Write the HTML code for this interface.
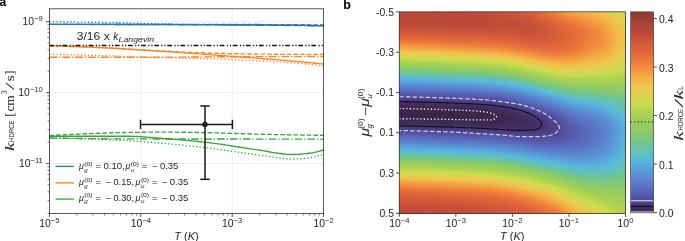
<!DOCTYPE html>
<html><head><meta charset="utf-8"><style>
html,body{margin:0;padding:0;background:#fff;}
#wrap{position:relative;width:685px;height:241px;overflow:hidden;background:#fff;}
#hm{position:absolute;left:399px;top:12px;width:227px;height:202px;}
#hm i{display:block;height:1px;width:100%;}
#cb{position:absolute;left:630.5px;top:11.8px;width:23.0px;height:201.0px;}
svg{position:absolute;left:0;top:0;will-change:transform;}
</style></head><body><div id="wrap"><div id="hm"><i style="background:linear-gradient(90deg,#b94839 0px,#b94839 6px,#b94838 12px,#ba4838 18px,#ba4938 24px,#bb4938 30px,#bb4938 36px,#bc4938 42px,#bc4938 48px,#bd4938 54px,#be4a38 60px,#bf4a38 66px,#c04b38 72px,#c14b38 78px,#c24d38 84px,#c44e39 90px,#c75139 96px,#c95339 102px,#cc5539 108px,#ce573a 114px,#d25a3a 120px,#d55d3a 126px,#da613a 132px,#e0663a 138px,#e66e3b 144px,#ec783c 150px,#f0873d 156px,#f39540 162px,#f49f41 168px,#f5a743 174px,#f4ad45 180px,#f3b347 186px,#f3ba4a 192px,#f1c14c 198px,#ecc64d 204px,#e5cd4f 210px,#dcd450 216px,#d3d750 222px,#ceda50 226px)"></i><i style="background:linear-gradient(90deg,#b84839 0px,#b94839 6px,#b94839 12px,#b94839 18px,#ba4838 24px,#ba4838 30px,#ba4938 36px,#bb4938 42px,#bb4938 48px,#bc4938 54px,#bd4938 60px,#be4a38 66px,#bf4a38 72px,#c04a38 78px,#c14b38 84px,#c24d38 90px,#c54f39 96px,#c85139 102px,#ca5339 108px,#cc5539 114px,#d0583a 120px,#d35b3a 126px,#d85f3a 132px,#de643a 138px,#e46b3a 144px,#ea753b 150px,#f0813d 156px,#f28f3f 162px,#f39940 168px,#f5a242 174px,#f5a944 180px,#f4af46 186px,#f3b648 192px,#f2bd4b 198px,#efc34d 204px,#e8ca4e 210px,#dfd250 216px,#d6d650 222px,#d0d950 226px)"></i><i style="background:linear-gradient(90deg,#b84839 0px,#b84839 6px,#b84839 12px,#b94839 18px,#b94839 24px,#b94838 30px,#ba4838 36px,#ba4938 42px,#bb4938 48px,#bb4938 54px,#bc4938 60px,#bd4938 66px,#bd4a38 72px,#be4a38 78px,#c04b38 84px,#c14c38 90px,#c44e39 96px,#c65039 102px,#c85239 108px,#cb5439 114px,#ce563a 120px,#d25a3a 126px,#d65e3a 132px,#dc623a 138px,#e2683a 144px,#e8713b 150px,#ee7c3c 156px,#f1893e 162px,#f39440 168px,#f49d41 174px,#f5a442 180px,#f4ab44 186px,#f3b247 192px,#f3ba4a 198px,#f1c14c 204px,#eac84e 210px,#e1d150 216px,#d8d550 222px,#d2d850 226px)"></i><i style="background:linear-gradient(90deg,#b84839 0px,#b84839 6px,#b84839 12px,#b84839 18px,#b94839 24px,#b94839 30px,#b94838 36px,#ba4838 42px,#ba4838 48px,#bb4938 54px,#bb4938 60px,#bc4938 66px,#bd4938 72px,#be4a38 78px,#bf4a38 84px,#c04b38 90px,#c34d38 96px,#c54f39 102px,#c75139 108px,#c95239 114px,#cc5539 120px,#cf583a 126px,#d45c3a 132px,#d9603a 138px,#df663a 144px,#e66e3b 150px,#ec793c 156px,#f0843d 162px,#f28f3f 168px,#f39840 174px,#f49f41 180px,#f5a743 186px,#f4ae46 192px,#f3b648 198px,#f2be4b 204px,#ecc64d 210px,#e4ce4f 216px,#dbd450 222px,#d4d750 226px)"></i><i style="background:linear-gradient(90deg,#b84839 0px,#b84839 6px,#b84839 12px,#b84839 18px,#b94839 24px,#b94839 30px,#b94839 36px,#b94838 42px,#ba4838 48px,#ba4938 54px,#bb4938 60px,#bb4938 66px,#bc4938 72px,#bd4938 78px,#be4a38 84px,#bf4a38 90px,#c24c38 96px,#c44e39 102px,#c65039 108px,#c85139 114px,#ca5339 120px,#ce563a 126px,#d25a3a 132px,#d75f3a 138px,#dd643a 144px,#e46b3a 150px,#ea753b 156px,#ef7f3c 162px,#f18a3e 168px,#f2933f 174px,#f49b41 180px,#f5a242 186px,#f4aa44 192px,#f3b247 198px,#f3ba4a 204px,#efc34d 210px,#e6cc4f 216px,#ddd350 222px,#d7d650 226px)"></i><i style="background:linear-gradient(90deg,#b94839 0px,#b94839 6px,#b94839 12px,#b94839 18px,#b94839 24px,#b94839 30px,#b94839 36px,#b94838 42px,#ba4838 48px,#ba4838 54px,#ba4938 60px,#bb4938 66px,#bb4938 72px,#bc4938 78px,#bd4938 84px,#bf4a38 90px,#c14c38 96px,#c34d38 102px,#c54f39 108px,#c65039 114px,#c95239 120px,#cc5539 126px,#d1593a 132px,#d65d3a 138px,#db623a 144px,#e2683a 150px,#e8723b 156px,#ee7b3c 162px,#f0853d 168px,#f28e3f 174px,#f39640 180px,#f49e41 186px,#f5a743 192px,#f4af46 198px,#f3b749 204px,#f1c14c 210px,#e7cb4e 216px,#e0d250 222px,#d9d550 226px)"></i><i style="background:linear-gradient(90deg,#b94839 0px,#b94839 6px,#b94839 12px,#b94839 18px,#b94839 24px,#b94839 30px,#b94838 36px,#b94838 42px,#ba4838 48px,#ba4838 54px,#ba4938 60px,#bb4938 66px,#bb4938 72px,#bc4938 78px,#bd4938 84px,#be4a38 90px,#c04b38 96px,#c24d38 102px,#c44e38 108px,#c54f39 114px,#c75139 120px,#cb5439 126px,#cf573a 132px,#d45c3a 138px,#d9603a 144px,#e0663a 150px,#e66f3b 156px,#ec783c 162px,#f0803d 168px,#f18a3e 174px,#f2923f 180px,#f49a41 186px,#f5a342 192px,#f4ab45 198px,#f3b448 204px,#f2bf4c 210px,#e9c94e 216px,#e1d150 222px,#dbd450 226px)"></i><i style="background:linear-gradient(90deg,#ba4838 0px,#ba4838 6px,#ba4838 12px,#ba4838 18px,#ba4838 24px,#ba4838 30px,#ba4838 36px,#ba4838 42px,#ba4838 48px,#ba4938 54px,#ba4938 60px,#bb4938 66px,#bb4938 72px,#bc4938 78px,#bd4938 84px,#be4a38 90px,#c04b38 96px,#c24c38 102px,#c34d38 108px,#c44f39 114px,#c65039 120px,#c95339 126px,#cd563a 132px,#d25a3a 138px,#d75f3a 144px,#de653a 150px,#e56c3a 156px,#ea753b 162px,#ef7c3c 168px,#f0853d 174px,#f28e3f 180px,#f39640 186px,#f4a041 192px,#f5a843 198px,#f4b046 204px,#f2bc4b 210px,#ebc74e 216px,#e3cf4f 222px,#ddd350 226px)"></i><i style="background:linear-gradient(90deg,#bb4938 0px,#bb4938 6px,#bb4938 12px,#bb4938 18px,#bb4938 24px,#ba4938 30px,#ba4938 36px,#ba4938 42px,#bb4938 48px,#bb4938 54px,#bb4938 60px,#bb4938 66px,#bb4938 72px,#bc4938 78px,#bd4938 84px,#be4a38 90px,#c04b38 96px,#c14c38 102px,#c24d38 108px,#c44e38 114px,#c54f39 120px,#c85239 126px,#cc5539 132px,#d1593a 138px,#d65d3a 144px,#dc633a 150px,#e36a3a 156px,#e8723b 162px,#ed7a3c 168px,#f0813d 174px,#f18a3e 180px,#f2933f 186px,#f49c41 192px,#f5a542 198px,#f4ad45 204px,#f3b94a 210px,#edc54d 216px,#e4ce4f 222px,#ded350 226px)"></i><i style="background:linear-gradient(90deg,#bc4938 0px,#bc4938 6px,#bc4938 12px,#bc4938 18px,#bc4938 24px,#bb4938 30px,#bb4938 36px,#bb4938 42px,#bb4938 48px,#bb4938 54px,#bb4938 60px,#bc4938 66px,#bc4938 72px,#bc4938 78px,#bd4938 84px,#be4a38 90px,#c04b38 96px,#c14c38 102px,#c24d38 108px,#c34e38 114px,#c54f39 120px,#c75139 126px,#cb5439 132px,#cf583a 138px,#d45c3a 144px,#da613a 150px,#e2683a 156px,#e7703b 162px,#eb773b 168px,#ef7d3c 174px,#f0863d 180px,#f28f3f 186px,#f39940 192px,#f5a242 198px,#f4ab44 204px,#f3b749 210px,#eec44d 216px,#e6cc4f 222px,#e0d250 226px)"></i><i style="background:linear-gradient(90deg,#be4a38 0px,#bd4a38 6px,#bd4938 12px,#bd4938 18px,#bd4938 24px,#bd4938 30px,#bc4938 36px,#bc4938 42px,#bc4938 48px,#bc4938 54px,#bc4938 60px,#bc4938 66px,#bd4938 72px,#bd4938 78px,#bd4938 84px,#be4a38 90px,#c04b38 96px,#c14c38 102px,#c24d38 108px,#c34d38 114px,#c44e39 120px,#c65039 126px,#ca5339 132px,#ce573a 138px,#d35b3a 144px,#d9603a 150px,#e0663a 156px,#e56d3b 162px,#ea743b 168px,#ee7b3c 174px,#f0833d 180px,#f18c3e 186px,#f39640 192px,#f49f41 198px,#f5a843 204px,#f3b448 210px,#f0c24c 216px,#e7cb4e 222px,#e1d150 226px)"></i><i style="background:linear-gradient(90deg,#bf4a38 0px,#bf4a38 6px,#bf4a38 12px,#bf4a38 18px,#be4a38 24px,#be4a38 30px,#be4a38 36px,#be4a38 42px,#bd4a38 48px,#bd4a38 54px,#bd4938 60px,#bd4938 66px,#bd4a38 72px,#be4a38 78px,#be4a38 84px,#bf4a38 90px,#c04b38 96px,#c14c38 102px,#c24d38 108px,#c34d38 114px,#c44e39 120px,#c65039 126px,#c95239 132px,#cd5639 138px,#d25a3a 144px,#d85f3a 150px,#de653a 156px,#e46b3a 162px,#e8723b 168px,#ec793c 174px,#ef803c 180px,#f1893e 186px,#f2933f 192px,#f49c41 198px,#f5a542 204px,#f4b247 210px,#f1c14c 216px,#e8ca4e 222px,#e3cf4f 226px)"></i><i style="background:linear-gradient(90deg,#c14c38 0px,#c14b38 6px,#c04b38 12px,#c04b38 18px,#c04b38 24px,#c04a38 30px,#bf4a38 36px,#bf4a38 42px,#bf4a38 48px,#bf4a38 54px,#bf4a38 60px,#bf4a38 66px,#bf4a38 72px,#bf4a38 78px,#bf4a38 84px,#c04a38 90px,#c14c38 96px,#c24c38 102px,#c24d38 108px,#c34d38 114px,#c44e38 120px,#c54f39 126px,#c85239 132px,#cc5539 138px,#d0593a 144px,#d65e3a 150px,#dd633a 156px,#e3693a 162px,#e7703b 168px,#eb763b 174px,#ef7d3c 180px,#f0863d 186px,#f2903f 192px,#f39940 198px,#f5a342 204px,#f4af46 210px,#f2bf4c 216px,#eac84e 222px,#e4ce4f 226px)"></i><i style="background:linear-gradient(90deg,#c34d38 0px,#c24d38 6px,#c24c38 12px,#c24c38 18px,#c14c38 24px,#c14c38 30px,#c14c38 36px,#c14b38 42px,#c04b38 48px,#c04b38 54px,#c04b38 60px,#c04b38 66px,#c04b38 72px,#c04b38 78px,#c04b38 84px,#c04b38 90px,#c24c38 96px,#c24d38 102px,#c34d38 108px,#c34d38 114px,#c44e38 120px,#c54f39 126px,#c85139 132px,#cb5439 138px,#cf583a 144px,#d55d3a 150px,#db623a 156px,#e1673a 162px,#e66e3b 168px,#ea753b 174px,#ee7b3c 180px,#f0843d 186px,#f28e3f 192px,#f39740 198px,#f4a041 204px,#f4ad45 210px,#f2bd4b 216px,#ebc74e 222px,#e5cd4f 226px)"></i><i style="background:linear-gradient(90deg,#c54f39 0px,#c44e39 6px,#c44e39 12px,#c34e38 18px,#c34d38 24px,#c34d38 30px,#c24d38 36px,#c24d38 42px,#c24c38 48px,#c24c38 54px,#c14c38 60px,#c14c38 66px,#c14c38 72px,#c14c38 78px,#c14c38 84px,#c14c38 90px,#c24d38 96px,#c34d38 102px,#c34e38 108px,#c34e38 114px,#c44e39 120px,#c54f39 126px,#c75139 132px,#ca5439 138px,#cf573a 144px,#d45c3a 150px,#da613a 156px,#e0663a 162px,#e56c3a 168px,#e9733b 174px,#ed793c 180px,#f0813d 186px,#f18b3e 192px,#f39440 198px,#f49e41 204px,#f4ab45 210px,#f3bb4a 216px,#ecc64d 222px,#e6cc4f 226px)"></i><i style="background:linear-gradient(90deg,#c75039 0px,#c65039 6px,#c65039 12px,#c54f39 18px,#c54f39 24px,#c54f39 30px,#c44e39 36px,#c44e39 42px,#c44e38 48px,#c34e38 54px,#c34d38 60px,#c34d38 66px,#c34d38 72px,#c24d38 78px,#c24d38 84px,#c34d38 90px,#c44e38 96px,#c44e39 102px,#c44e39 108px,#c44e39 114px,#c44e39 120px,#c54f39 126px,#c75139 132px,#ca5339 138px,#ce563a 144px,#d35b3a 150px,#d9603a 156px,#df653a 162px,#e46b3a 168px,#e8713b 174px,#ec783b 180px,#ef7f3c 186px,#f1893e 192px,#f2923f 198px,#f49c41 204px,#f4a944 210px,#f3b94a 216px,#edc54d 222px,#e7cb4f 226px)"></i><i style="background:linear-gradient(90deg,#c95239 0px,#c85239 6px,#c85239 12px,#c85139 18px,#c75139 24px,#c75039 30px,#c65039 36px,#c65039 42px,#c54f39 48px,#c54f39 54px,#c54f39 60px,#c44f39 66px,#c44e39 72px,#c44e39 78px,#c44e39 84px,#c44e39 90px,#c54f39 96px,#c54f39 102px,#c54f39 108px,#c54f39 114px,#c54f39 120px,#c65039 126px,#c75139 132px,#ca5339 138px,#cd563a 144px,#d35b3a 150px,#d85f3a 156px,#de643a 162px,#e3693a 168px,#e7703b 174px,#eb763b 180px,#ef7d3c 186px,#f1873e 192px,#f2903f 198px,#f39a40 204px,#f5a843 210px,#f3b849 216px,#eec44d 222px,#e7cb4e 226px)"></i><i style="background:linear-gradient(90deg,#cb5439 0px,#cb5439 6px,#ca5439 12px,#ca5339 18px,#c95339 24px,#c95239 30px,#c85239 36px,#c85239 42px,#c75139 48px,#c75139 54px,#c75039 60px,#c65039 66px,#c65039 72px,#c65039 78px,#c64f39 84px,#c65039 90px,#c65039 96px,#c75039 102px,#c65039 108px,#c65039 114px,#c65039 120px,#c65039 126px,#c75139 132px,#ca5339 138px,#cd5639 144px,#d25a3a 150px,#d75f3a 156px,#dd633a 162px,#e2683a 168px,#e66e3b 174px,#ea753b 180px,#ee7c3c 186px,#f0863d 192px,#f28f3f 198px,#f39840 204px,#f5a643 210px,#f3b648 216px,#efc34d 222px,#e8ca4e 226px)"></i><i style="background:linear-gradient(90deg,#ce573a 0px,#cd563a 6px,#cd5639 12px,#cc5539 18px,#cc5539 24px,#cb5439 30px,#cb5439 36px,#ca5339 42px,#ca5339 48px,#c95339 54px,#c95239 60px,#c85239 66px,#c85239 72px,#c85139 78px,#c75139 84px,#c75139 90px,#c85139 96px,#c85239 102px,#c85139 108px,#c75139 114px,#c75039 120px,#c75139 126px,#c85139 132px,#ca5339 138px,#cd5639 144px,#d25a3a 150px,#d75e3a 156px,#dc633a 162px,#e1673a 168px,#e56d3a 174px,#e9743b 180px,#ee7b3c 186px,#f0843d 192px,#f18d3e 198px,#f39740 204px,#f5a542 210px,#f3b548 216px,#efc34d 222px,#e9c94e 226px)"></i><i style="background:linear-gradient(90deg,#d1593a 0px,#d0583a 6px,#d0583a 12px,#cf573a 18px,#ce573a 24px,#ce563a 30px,#cd563a 36px,#cd5639 42px,#cc5539 48px,#cc5539 54px,#cb5439 60px,#cb5439 66px,#ca5339 72px,#ca5339 78px,#c95339 84px,#c95339 90px,#ca5339 96px,#ca5339 102px,#c95239 108px,#c85239 114px,#c85139 120px,#c85139 126px,#c85239 132px,#ca5339 138px,#cd5639 144px,#d1593a 150px,#d65e3a 156px,#db623a 162px,#e0663a 168px,#e56c3a 174px,#e9733b 180px,#ed7a3c 186px,#f0833d 192px,#f18c3e 198px,#f39640 204px,#f5a442 210px,#f3b448 216px,#f0c24c 222px,#e9c94e 226px)"></i><i style="background:linear-gradient(90deg,#d35b3a 0px,#d35b3a 6px,#d25a3a 12px,#d25a3a 18px,#d1593a 24px,#d1593a 30px,#d0583a 36px,#cf583a 42px,#cf573a 48px,#ce573a 54px,#ce563a 60px,#cd5639 66px,#cd5539 72px,#cc5539 78px,#cc5539 84px,#cb5439 90px,#cc5539 96px,#cc5539 102px,#cb5439 108px,#ca5339 114px,#c95239 120px,#c95239 126px,#c95339 132px,#cb5439 138px,#cd5639 144px,#d1593a 150px,#d65e3a 156px,#db623a 162px,#e0663a 168px,#e46b3a 174px,#e8723b 180px,#ed793c 186px,#f0823d 192px,#f18b3e 198px,#f39440 204px,#f5a242 210px,#f3b347 216px,#f1c14c 222px,#eac84e 226px)"></i><i style="background:linear-gradient(90deg,#d65d3a 0px,#d55d3a 6px,#d55c3a 12px,#d45c3a 18px,#d45c3a 24px,#d35b3a 30px,#d35b3a 36px,#d25a3a 42px,#d15a3a 48px,#d1593a 54px,#d0593a 60px,#d0583a 66px,#cf583a 72px,#cf573a 78px,#ce573a 84px,#ce563a 90px,#ce563a 96px,#ce563a 102px,#cd5539 108px,#cb5439 114px,#ca5439 120px,#ca5339 126px,#ca5339 132px,#cb5439 138px,#cd563a 144px,#d1593a 150px,#d65d3a 156px,#da613a 162px,#df653a 168px,#e46b3a 174px,#e8713b 180px,#ec793c 186px,#f0813d 192px,#f18a3e 198px,#f2933f 204px,#f5a142 210px,#f4b247 216px,#f1c14c 222px,#eac84e 226px)"></i><i style="background:linear-gradient(90deg,#d9603a 0px,#d85f3a 6px,#d75f3a 12px,#d75e3a 18px,#d65e3a 24px,#d65d3a 30px,#d55d3a 36px,#d55c3a 42px,#d45c3a 48px,#d35b3a 54px,#d35b3a 60px,#d25a3a 66px,#d25a3a 72px,#d1593a 78px,#d1593a 84px,#d0583a 90px,#d0583a 96px,#d0583a 102px,#cf573a 108px,#cd5639 114px,#cc5539 120px,#cb5439 126px,#cb5439 132px,#cc5539 138px,#ce573a 144px,#d25a3a 150px,#d65d3a 156px,#da613a 162px,#df653a 168px,#e36a3a 174px,#e7713b 180px,#ec783c 186px,#ef803c 192px,#f1893e 198px,#f2933f 204px,#f4a141 210px,#f4b147 216px,#f2c04c 222px,#ebc74e 226px)"></i><i style="background:linear-gradient(90deg,#db623a 0px,#db623a 6px,#da613a 12px,#da613a 18px,#d9603a 24px,#d8603a 30px,#d85f3a 36px,#d75f3a 42px,#d75e3a 48px,#d65d3a 54px,#d55d3a 60px,#d55c3a 66px,#d45c3a 72px,#d45b3a 78px,#d35b3a 84px,#d35b3a 90px,#d35a3a 96px,#d25a3a 102px,#d1593a 108px,#cf583a 114px,#ce573a 120px,#cd5639 126px,#cd5639 132px,#cd5639 138px,#cf573a 144px,#d25a3a 150px,#d65d3a 156px,#da613a 162px,#df653a 168px,#e36a3a 174px,#e7713b 180px,#ec783c 186px,#ef803c 192px,#f1883e 198px,#f2923f 204px,#f4a041 210px,#f4b046 216px,#f2c04c 222px,#ebc74e 226px)"></i><i style="background:linear-gradient(90deg,#de653a 0px,#de643a 6px,#dd643a 12px,#dd633a 18px,#dc633a 24px,#db623a 30px,#db623a 36px,#da613a 42px,#d9603a 48px,#d9603a 54px,#d85f3a 60px,#d75f3a 66px,#d75e3a 72px,#d65e3a 78px,#d55d3a 84px,#d55d3a 90px,#d55c3a 96px,#d45c3a 102px,#d35b3a 108px,#d15a3a 114px,#d0583a 120px,#cf573a 126px,#ce573a 132px,#ce573a 138px,#d0583a 144px,#d35b3a 150px,#d65e3a 156px,#da613a 162px,#df653a 168px,#e36a3a 174px,#e7703b 180px,#ec783b 186px,#ef7f3c 192px,#f1883e 198px,#f2923f 204px,#f4a041 210px,#f4b046 216px,#f2c04c 222px,#ebc74d 226px)"></i><i style="background:linear-gradient(90deg,#e1683a 0px,#e1673a 6px,#e0663a 12px,#e0663a 18px,#df653a 24px,#de653a 30px,#dd643a 36px,#dd633a 42px,#dc633a 48px,#db623a 54px,#db623a 60px,#da613a 66px,#d9613a 72px,#d9603a 78px,#d85f3a 84px,#d75f3a 90px,#d75f3a 96px,#d75e3a 102px,#d55d3a 108px,#d45b3a 114px,#d25a3a 120px,#d1593a 126px,#d0583a 132px,#d0583a 138px,#d1593a 144px,#d35b3a 150px,#d75e3a 156px,#da613a 162px,#df653a 168px,#e36a3a 174px,#e7703b 180px,#ec783b 186px,#ef7f3c 192px,#f1883e 198px,#f2923f 204px,#f49f41 210px,#f4b046 216px,#f2bf4c 222px,#ecc64d 226px)"></i><i style="background:linear-gradient(90deg,#e46b3a 0px,#e46b3a 6px,#e36a3a 12px,#e3693a 18px,#e2683a 24px,#e1673a 30px,#e1673a 36px,#e0663a 42px,#df653a 48px,#de653a 54px,#de643a 60px,#dd643a 66px,#dc633a 72px,#db623a 78px,#db623a 84px,#da613a 90px,#da613a 96px,#d9603a 102px,#d85f3a 108px,#d65d3a 114px,#d45c3a 120px,#d35b3a 126px,#d25a3a 132px,#d1593a 138px,#d25a3a 144px,#d45c3a 150px,#d75f3a 156px,#db623a 162px,#df653a 168px,#e36a3a 174px,#e7713b 180px,#ec783c 186px,#ef803c 192px,#f1883e 198px,#f2923f 204px,#f49f41 210px,#f4b046 216px,#f2bf4c 222px,#ecc64d 226px)"></i><i style="background:linear-gradient(90deg,#e7703b 0px,#e66f3b 6px,#e66e3b 12px,#e56d3a 18px,#e56c3a 24px,#e46b3a 30px,#e36a3a 36px,#e3693a 42px,#e2683a 48px,#e1673a 54px,#e1673a 60px,#e0663a 66px,#df663a 72px,#de653a 78px,#de643a 84px,#dd643a 90px,#dc633a 96px,#dc623a 102px,#da613a 108px,#d85f3a 114px,#d65e3a 120px,#d55c3a 126px,#d45b3a 132px,#d35b3a 138px,#d35b3a 144px,#d55d3a 150px,#d85f3a 156px,#db623a 162px,#df663a 168px,#e36a3a 174px,#e7713b 180px,#ec783c 186px,#ef803c 192px,#f1883e 198px,#f2923f 204px,#f49f41 210px,#f4b046 216px,#f2bf4c 222px,#ecc64d 226px)"></i><i style="background:linear-gradient(90deg,#ea743b 0px,#e9733b 6px,#e8723b 12px,#e8713b 18px,#e7703b 24px,#e76f3b 30px,#e66e3b 36px,#e56d3b 42px,#e56c3a 48px,#e46b3a 54px,#e36a3a 60px,#e3693a 66px,#e2683a 72px,#e1673a 78px,#e1673a 84px,#e0663a 90px,#df663a 96px,#de653a 102px,#dd633a 108px,#da613a 114px,#d8603a 120px,#d75e3a 126px,#d55d3a 132px,#d55c3a 138px,#d55c3a 144px,#d65e3a 150px,#d9603a 156px,#dc633a 162px,#e0663a 168px,#e46b3a 174px,#e8713b 180px,#ec793c 186px,#f0813d 192px,#f1893e 198px,#f2923f 204px,#f4a041 210px,#f4b046 216px,#f2bf4c 222px,#ecc64d 226px)"></i><i style="background:linear-gradient(90deg,#ec793c 0px,#ec783c 6px,#eb773b 12px,#eb763b 18px,#ea753b 24px,#e9743b 30px,#e9733b 36px,#e8723b 42px,#e7713b 48px,#e7703b 54px,#e66f3b 60px,#e56e3b 66px,#e56c3a 72px,#e46b3a 78px,#e36a3a 84px,#e3693a 90px,#e2683a 96px,#e1673a 102px,#df663a 108px,#dd643a 114px,#db623a 120px,#d9603a 126px,#d75f3a 132px,#d65e3a 138px,#d65e3a 144px,#d75f3a 150px,#da613a 156px,#dd633a 162px,#e0673a 168px,#e46b3a 174px,#e8723b 180px,#ed793c 186px,#f0813d 192px,#f18a3e 198px,#f2933f 204px,#f4a041 210px,#f4b046 216px,#f2c04c 222px,#ebc74d 226px)"></i><i style="background:linear-gradient(90deg,#ef7e3c 0px,#ef7d3c 6px,#ee7c3c 12px,#ee7b3c 18px,#ed7a3c 24px,#ec793c 30px,#ec773b 36px,#eb763b 42px,#ea753b 48px,#ea743b 54px,#e9733b 60px,#e8723b 66px,#e7713b 72px,#e7703b 78px,#e66e3b 84px,#e56d3a 90px,#e56c3a 96px,#e46b3a 102px,#e2683a 108px,#e0663a 114px,#dd643a 120px,#db623a 126px,#da613a 132px,#d85f3a 138px,#d85f3a 144px,#d9603a 150px,#db623a 156px,#de643a 162px,#e1673a 168px,#e56c3a 174px,#e9733b 180px,#ed7a3c 186px,#f0833d 192px,#f18b3e 198px,#f2943f 204px,#f5a142 210px,#f4b146 216px,#f2c04c 222px,#ebc74e 226px)"></i><i style="background:linear-gradient(90deg,#f0853d 0px,#f0843d 6px,#f0823d 12px,#f0813d 18px,#ef7f3c 24px,#ef7d3c 30px,#ee7c3c 36px,#ee7b3c 42px,#ed7a3c 48px,#ec793c 54px,#ec783b 60px,#eb763b 66px,#ea753b 72px,#e9743b 78px,#e9733b 84px,#e8713b 90px,#e7703b 96px,#e66f3b 102px,#e46c3a 108px,#e2693a 114px,#e0663a 120px,#de643a 126px,#dc633a 132px,#da613a 138px,#da613a 144px,#da613a 150px,#dc633a 156px,#df653a 162px,#e2683a 168px,#e56d3a 174px,#e9743b 180px,#ee7b3c 186px,#f0843d 192px,#f18c3e 198px,#f39540 204px,#f5a242 210px,#f4b147 216px,#f2c04c 222px,#ebc74e 226px)"></i><i style="background:linear-gradient(90deg,#f18d3e 0px,#f18b3e 6px,#f18a3e 12px,#f1883e 18px,#f0863d 24px,#f0853d 30px,#f0833d 36px,#f0813d 42px,#ef7f3c 48px,#ef7e3c 54px,#ef7c3c 60px,#ee7b3c 66px,#ed7a3c 72px,#ec783c 78px,#eb773b 84px,#eb763b 90px,#ea753b 96px,#e9733b 102px,#e7703b 108px,#e56c3a 114px,#e3693a 120px,#e0673a 126px,#de653a 132px,#dc633a 138px,#dc623a 144px,#dc633a 150px,#de643a 156px,#e0663a 162px,#e3693a 168px,#e66e3b 174px,#ea753b 180px,#ee7c3c 186px,#f0853d 192px,#f18d3e 198px,#f39640 204px,#f5a342 210px,#f4b247 216px,#f1c14c 222px,#eac84e 226px)"></i><i style="background:linear-gradient(90deg,#f39440 0px,#f2933f 6px,#f2913f 12px,#f2903f 18px,#f28e3f 24px,#f18c3e 30px,#f18a3e 36px,#f1893e 42px,#f1873e 48px,#f0853d 54px,#f0833d 60px,#f0813d 66px,#ef7f3c 72px,#ef7d3c 78px,#ee7c3c 84px,#ed7a3c 90px,#ed793c 96px,#eb773b 102px,#ea743b 108px,#e7703b 114px,#e56d3a 120px,#e3693a 126px,#e1673a 132px,#df653a 138px,#de643a 144px,#de643a 150px,#df663a 156px,#e1673a 162px,#e46b3a 168px,#e7703b 174px,#eb763b 180px,#ef7d3c 186px,#f1873e 192px,#f28f3f 198px,#f39740 204px,#f5a442 210px,#f3b347 216px,#f1c14c 222px,#eac84e 226px)"></i><i style="background:linear-gradient(90deg,#f49c41 0px,#f49a41 6px,#f39940 12px,#f39740 18px,#f39640 24px,#f2943f 30px,#f2923f 36px,#f2903f 42px,#f28e3f 48px,#f18c3e 54px,#f18b3e 60px,#f1893e 66px,#f0873d 72px,#f0843d 78px,#f0823d 84px,#ef803c 90px,#ef7e3c 96px,#ee7c3c 102px,#ec783c 108px,#ea753b 114px,#e7713b 120px,#e56d3a 126px,#e36a3a 132px,#e1673a 138px,#e0663a 144px,#e0663a 150px,#e1673a 156px,#e3693a 162px,#e56c3a 168px,#e8713b 174px,#ec773b 180px,#ef7f3c 186px,#f1893e 192px,#f2903f 198px,#f39940 204px,#f5a542 210px,#f3b448 216px,#f0c24c 222px,#e9c94e 226px)"></i><i style="background:linear-gradient(90deg,#f5a442 0px,#f5a242 6px,#f5a142 12px,#f49f41 18px,#f49d41 24px,#f49c41 30px,#f39a40 36px,#f39840 42px,#f39640 48px,#f39440 54px,#f2923f 60px,#f2903f 66px,#f28e3f 72px,#f18c3e 78px,#f1893e 84px,#f1873e 90px,#f0853d 96px,#f0823d 102px,#ef7d3c 108px,#ec793c 114px,#ea753b 120px,#e8713b 126px,#e56d3b 132px,#e36a3a 138px,#e2683a 144px,#e2683a 150px,#e3693a 156px,#e46b3a 162px,#e66e3b 168px,#e9733b 174px,#ed793c 180px,#f0823d 186px,#f18b3e 192px,#f2923f 198px,#f49a41 204px,#f5a743 210px,#f3b548 216px,#efc34d 222px,#e9c94e 226px)"></i><i style="background:linear-gradient(90deg,#f4ab45 0px,#f4aa44 6px,#f5a844 12px,#f5a743 18px,#f5a542 24px,#f5a342 30px,#f5a242 36px,#f4a041 42px,#f49e41 48px,#f49c41 54px,#f39a40 60px,#f39840 66px,#f39640 72px,#f2933f 78px,#f2913f 84px,#f28f3f 90px,#f18c3e 96px,#f1893e 102px,#f0843d 108px,#ef7d3c 114px,#ed793c 120px,#ea753b 126px,#e8713b 132px,#e66e3b 138px,#e46c3a 144px,#e46b3a 150px,#e46b3a 156px,#e56d3b 162px,#e7703b 168px,#ea753b 174px,#ee7b3c 180px,#f0843d 186px,#f18d3e 192px,#f39440 198px,#f49c41 204px,#f5a843 210px,#f3b649 216px,#efc34d 222px,#e8ca4e 226px)"></i><i style="background:linear-gradient(90deg,#f3b347 0px,#f4b147 6px,#f4b046 12px,#f4ae46 18px,#f4ad45 24px,#f4ab44 30px,#f4a944 36px,#f5a743 42px,#f5a643 48px,#f5a442 54px,#f5a242 60px,#f4a041 66px,#f49d41 72px,#f49b41 78px,#f39940 84px,#f39640 90px,#f2943f 96px,#f2903f 102px,#f18b3e 108px,#f0843d 114px,#ef7e3c 120px,#ed793c 126px,#ea753b 132px,#e8723b 138px,#e66f3b 144px,#e66e3b 150px,#e66e3b 156px,#e7703b 162px,#e9733b 168px,#eb773b 174px,#ef7d3c 180px,#f0873d 186px,#f2903f 192px,#f39740 198px,#f49f41 204px,#f4aa44 210px,#f3b849 216px,#eec44d 222px,#e7cb4e 226px)"></i><i style="background:linear-gradient(90deg,#f3ba4a 0px,#f3b949 6px,#f3b749 12px,#f3b648 18px,#f3b448 24px,#f3b247 30px,#f4b146 36px,#f4af46 42px,#f4ad45 48px,#f4ab45 54px,#f4a944 60px,#f5a743 66px,#f5a542 72px,#f5a342 78px,#f4a041 84px,#f49e41 90px,#f49b41 96px,#f39840 102px,#f2923f 108px,#f18b3e 114px,#f0853d 120px,#ef7e3c 126px,#ed793c 132px,#ea763b 138px,#e9733b 144px,#e8713b 150px,#e8713b 156px,#e8723b 162px,#ea753b 168px,#ec793c 174px,#ef7f3c 180px,#f18a3e 186px,#f2923f 192px,#f39940 198px,#f5a142 204px,#f4ac45 210px,#f3b94a 216px,#edc54d 222px,#e7cb4f 226px)"></i><i style="background:linear-gradient(90deg,#f1c14c 0px,#f2c04c 6px,#f2bf4c 12px,#f2bd4b 18px,#f2bc4a 24px,#f3ba4a 30px,#f3b849 36px,#f3b648 42px,#f3b448 48px,#f3b247 54px,#f4b146 60px,#f4af46 66px,#f4ad45 72px,#f4aa44 78px,#f5a843 84px,#f5a643 90px,#f5a342 96px,#f49f41 102px,#f39a40 108px,#f2933f 114px,#f18c3e 120px,#f0853d 126px,#ef7e3c 132px,#ed7a3c 138px,#eb763b 144px,#ea753b 150px,#ea743b 156px,#ea753b 162px,#ec773b 168px,#ee7b3c 174px,#f0833d 180px,#f18d3e 186px,#f39540 192px,#f49c41 198px,#f5a342 204px,#f4ae45 210px,#f3bb4a 216px,#ecc64d 222px,#e6cc4f 226px)"></i><i style="background:linear-gradient(90deg,#ecc64d 0px,#edc54d 6px,#eec44d 12px,#efc34d 18px,#f0c24c 24px,#f1c14c 30px,#f2c04c 36px,#f2be4b 42px,#f2bc4b 48px,#f3ba4a 54px,#f3b849 60px,#f3b648 66px,#f3b448 72px,#f4b247 78px,#f4af46 84px,#f4ad45 90px,#f4aa44 96px,#f5a743 102px,#f5a142 108px,#f39a40 114px,#f2933f 120px,#f18c3e 126px,#f0853d 132px,#ef7e3c 138px,#ed7a3c 144px,#ec783c 150px,#ec773b 156px,#ec783c 162px,#ed7a3c 168px,#ef7e3c 174px,#f0863d 180px,#f2903f 186px,#f39840 192px,#f49f41 198px,#f5a643 204px,#f4b046 210px,#f2bd4b 216px,#ebc74e 222px,#e5cd4f 226px)"></i><i style="background:linear-gradient(90deg,#e7cb4e 0px,#e8ca4e 6px,#e9c94e 12px,#eac84e 18px,#ebc74e 24px,#ecc64d 30px,#edc54d 36px,#eec44d 42px,#f0c24d 48px,#f1c14c 54px,#f2c04c 60px,#f2be4b 66px,#f2bc4a 72px,#f3b94a 78px,#f3b749 84px,#f3b448 90px,#f4b147 96px,#f4ae46 102px,#f5a844 108px,#f5a242 114px,#f39a40 120px,#f2933f 126px,#f18b3e 132px,#f0843d 138px,#ef7f3c 144px,#ee7c3c 150px,#ee7b3c 156px,#ee7b3c 162px,#ef7d3c 168px,#f0823d 174px,#f18a3e 180px,#f2933f 186px,#f49c41 192px,#f5a242 198px,#f5a844 204px,#f3b247 210px,#f2bf4c 216px,#eac84e 222px,#e4ce4f 226px)"></i><i style="background:linear-gradient(90deg,#e2d050 0px,#e3cf4f 6px,#e4ce4f 12px,#e5cd4f 18px,#e6cc4f 24px,#e7cb4e 30px,#e8ca4e 36px,#e9c94e 42px,#ebc74e 48px,#ecc64d 54px,#edc54d 60px,#efc34d 66px,#f0c24c 72px,#f1c14c 78px,#f2be4b 84px,#f2bc4a 90px,#f3b949 96px,#f3b548 102px,#f4b046 108px,#f4a944 114px,#f5a242 120px,#f39a40 126px,#f2923f 132px,#f18b3e 138px,#f0853d 144px,#f0813d 150px,#ef7f3c 156px,#ef7f3c 162px,#f0813d 168px,#f0863d 174px,#f28e3f 180px,#f39740 186px,#f49f41 192px,#f5a542 198px,#f4ab45 204px,#f3b548 210px,#f1c14c 216px,#e8ca4e 222px,#e3cf4f 226px)"></i><i style="background:linear-gradient(90deg,#dbd450 0px,#ddd350 6px,#ded350 12px,#dfd250 18px,#e1d150 24px,#e2d050 30px,#e3cf4f 36px,#e4ce4f 42px,#e6cc4f 48px,#e7cb4e 54px,#e8ca4e 60px,#e9c94e 66px,#ebc74e 72px,#ecc64d 78px,#eec44d 84px,#f0c24c 90px,#f2c04c 96px,#f2bd4b 102px,#f3b749 108px,#f4b046 114px,#f4a944 120px,#f5a242 126px,#f39a40 132px,#f2923f 138px,#f18c3e 144px,#f1873e 150px,#f0853d 156px,#f0843d 162px,#f0863d 168px,#f18a3e 174px,#f2923f 180px,#f49b41 186px,#f5a342 192px,#f5a843 198px,#f4ae46 204px,#f3b749 210px,#f0c24d 216px,#e7cb4e 222px,#e1d150 226px)"></i><i style="background:linear-gradient(90deg,#d4d750 0px,#d6d650 6px,#d7d650 12px,#d9d550 18px,#dad450 24px,#dcd450 30px,#ddd350 36px,#dfd250 42px,#e0d250 48px,#e2d050 54px,#e3cf4f 60px,#e4ce4f 66px,#e6cc4f 72px,#e7cb4e 78px,#e9c94e 84px,#ebc74e 90px,#edc54d 96px,#efc34d 102px,#f2be4b 108px,#f3b749 114px,#f4b046 120px,#f4a944 126px,#f5a142 132px,#f39940 138px,#f2923f 144px,#f28d3f 150px,#f18a3e 156px,#f1893e 162px,#f18b3e 168px,#f28f3f 174px,#f39640 180px,#f49f41 186px,#f5a643 192px,#f4ab45 198px,#f4b147 204px,#f3ba4a 210px,#eec44d 216px,#e6cc4f 222px,#e0d250 226px)"></i><i style="background:linear-gradient(90deg,#cdda50 0px,#cfd950 6px,#d0d950 12px,#d2d850 18px,#d3d750 24px,#d5d750 30px,#d6d650 36px,#d8d550 42px,#dad550 48px,#dbd450 54px,#ddd350 60px,#dfd250 66px,#e1d150 72px,#e2d04f 78px,#e4ce4f 84px,#e6cc4f 90px,#e8ca4e 96px,#eac84e 102px,#eec44d 108px,#f2be4b 114px,#f3b749 120px,#f4b046 126px,#f5a843 132px,#f4a041 138px,#f39940 144px,#f2943f 150px,#f2903f 156px,#f28f3f 162px,#f2903f 168px,#f2933f 174px,#f49a41 180px,#f5a342 186px,#f4aa44 192px,#f4af46 198px,#f3b448 204px,#f2bd4b 210px,#ecc64d 216px,#e4ce4f 222px,#ded350 226px)"></i><i style="background:linear-gradient(90deg,#c6db50 0px,#c8dc50 6px,#c9dc50 12px,#cbdb50 18px,#ccda50 24px,#ceda50 30px,#cfd950 36px,#d1d850 42px,#d3d850 48px,#d4d750 54px,#d6d650 60px,#d8d550 66px,#dad450 72px,#dcd450 78px,#ded350 84px,#e1d150 90px,#e3cf4f 96px,#e5cd4f 102px,#e9c94e 108px,#eec44d 114px,#f2be4b 120px,#f3b749 126px,#f4af46 132px,#f5a743 138px,#f4a041 144px,#f49a41 150px,#f39640 156px,#f39540 162px,#f39540 168px,#f39840 174px,#f49f41 180px,#f5a743 186px,#f4ae45 192px,#f3b247 198px,#f3b749 204px,#f2c04c 210px,#ebc74e 216px,#e3cf4f 222px,#ddd350 226px)"></i><i style="background:linear-gradient(90deg,#bed950 0px,#c0d950 6px,#c1da50 12px,#c3da50 18px,#c5db50 24px,#c6db50 30px,#c8dc50 36px,#cadb50 42px,#ccdb50 48px,#cdda50 54px,#cfd950 60px,#d1d850 66px,#d3d750 72px,#d5d750 78px,#d8d650 84px,#dad450 90px,#ddd350 96px,#e0d250 102px,#e4ce4f 108px,#e9c94e 114px,#eec44d 120px,#f2be4b 126px,#f3b648 132px,#f4ae46 138px,#f5a743 144px,#f5a142 150px,#f49d41 156px,#f49a41 162px,#f49a41 168px,#f49d41 174px,#f5a442 180px,#f4ab45 186px,#f4b147 192px,#f3b648 198px,#f3bb4a 204px,#f0c24c 210px,#e9c94e 216px,#e1d150 222px,#dbd450 226px)"></i><i style="background:linear-gradient(90deg,#b6d650 0px,#b8d750 6px,#b9d750 12px,#bbd850 18px,#bdd850 24px,#bed950 30px,#c0d950 36px,#c2da50 42px,#c4db50 48px,#c6db50 54px,#c8dc50 60px,#cadb50 66px,#ccda50 72px,#ced950 78px,#d1d850 84px,#d3d750 90px,#d6d650 96px,#dad550 102px,#dfd250 108px,#e4ce4f 114px,#e9c94e 120px,#eec44d 126px,#f2bd4b 132px,#f3b548 138px,#f4ae45 144px,#f5a843 150px,#f5a342 156px,#f4a141 162px,#f4a041 168px,#f5a342 174px,#f5a844 180px,#f4af46 186px,#f3b548 192px,#f3b94a 198px,#f2be4b 204px,#eec44d 210px,#e7cb4e 216px,#e0d250 222px,#d9d550 226px)"></i><i style="background:linear-gradient(90deg,#afd451 0px,#b0d450 6px,#b1d450 12px,#b3d550 18px,#b5d650 24px,#b6d650 30px,#b8d750 36px,#bad750 42px,#bcd850 48px,#bed950 54px,#c0d950 60px,#c2da50 66px,#c5db50 72px,#c7dc50 78px,#c9db50 84px,#ccda50 90px,#cfd950 96px,#d3d850 102px,#d8d550 108px,#dfd250 114px,#e4ce4f 120px,#eac84e 126px,#efc34d 132px,#f2bc4b 138px,#f3b448 144px,#f4ae46 150px,#f4a944 156px,#f5a643 162px,#f5a643 168px,#f5a843 174px,#f4ad45 180px,#f3b448 186px,#f3ba4a 192px,#f2bd4b 198px,#f1c14c 204px,#ecc64d 210px,#e5cd4f 216px,#ddd350 222px,#d7d650 226px)"></i><i style="background:linear-gradient(90deg,#aad253 0px,#abd253 6px,#acd352 12px,#add352 18px,#aed351 24px,#afd451 30px,#b0d450 36px,#b2d550 42px,#b4d550 48px,#b6d650 54px,#b8d750 60px,#bad750 66px,#bdd850 72px,#bfd950 78px,#c2da50 84px,#c5db50 90px,#c8dc50 96px,#ccda50 102px,#d1d850 108px,#d8d550 114px,#dfd250 120px,#e5cd4f 126px,#eac84e 132px,#f0c24c 138px,#f2bb4a 144px,#f3b548 150px,#f4b046 156px,#f4ac45 162px,#f4ab45 168px,#f4ad45 174px,#f4b247 180px,#f3b849 186px,#f2be4b 192px,#f1c14c 198px,#eec44d 204px,#eac84e 210px,#e3cf4f 216px,#dbd450 222px,#d4d750 226px)"></i><i style="background:linear-gradient(90deg,#a4d056 0px,#a5d055 6px,#a6d155 12px,#a7d154 18px,#a8d154 24px,#aad253 30px,#abd253 36px,#acd352 42px,#add351 48px,#afd451 54px,#b0d450 60px,#b2d550 66px,#b5d650 72px,#b7d650 78px,#bad750 84px,#bdd850 90px,#c0d950 96px,#c4db50 102px,#cadb50 108px,#d1d850 114px,#d9d550 120px,#e0d250 126px,#e6cc4f 132px,#ebc74d 138px,#f0c24c 144px,#f3bb4a 150px,#f3b648 156px,#f3b247 162px,#f4b147 168px,#f4b247 174px,#f3b749 180px,#f2bd4b 186px,#f1c14c 192px,#eec44d 198px,#ecc64d 204px,#e7cb4e 210px,#e1d150 216px,#d8d550 222px,#d2d850 226px)"></i><i style="background:linear-gradient(90deg,#9fce59 0px,#a0cf58 6px,#a1cf58 12px,#a2cf57 18px,#a3d056 24px,#a4d056 30px,#a6d155 36px,#a7d155 42px,#a8d154 48px,#a9d253 54px,#abd253 60px,#acd352 66px,#aed351 72px,#afd450 78px,#b2d550 84px,#b5d650 90px,#b8d750 96px,#bcd850 102px,#c3da50 108px,#cadb50 114px,#d2d850 120px,#d9d550 126px,#e1d150 132px,#e7cb4f 138px,#ecc64d 144px,#f1c14c 150px,#f2bc4b 156px,#f3b849 162px,#f3b649 168px,#f3b749 174px,#f2bc4a 180px,#f1c14c 186px,#eec44d 192px,#ecc64d 198px,#e9c94e 204px,#e5cd4f 210px,#dfd350 216px,#d6d650 222px,#d0d950 226px)"></i><i style="background:linear-gradient(90deg,#9acd5b 0px,#9bcd5b 6px,#9ccd5a 12px,#9dce5a 18px,#9ece59 24px,#9fce59 30px,#a0cf58 36px,#a1cf57 42px,#a3d057 48px,#a4d056 54px,#a5d055 60px,#a7d155 66px,#a8d154 72px,#aad253 78px,#acd352 84px,#aed351 90px,#b0d450 96px,#b5d650 102px,#bbd850 108px,#c3da50 114px,#cbdb50 120px,#d2d850 126px,#dad450 132px,#e2d050 138px,#e7cb4e 144px,#ecc64d 150px,#f0c24c 156px,#f2be4b 162px,#f2bc4b 168px,#f2bd4b 174px,#f1c14c 180px,#eec44d 186px,#ebc74e 192px,#e9c94e 198px,#e6cc4f 204px,#e2d04f 210px,#dcd450 216px,#d3d750 222px,#ceda50 226px)"></i><i style="background:linear-gradient(90deg,#94cb61 0px,#95cb60 6px,#96cc5e 12px,#97cc5d 18px,#98cc5c 24px,#9acd5b 30px,#9bcd5b 36px,#9ccd5a 42px,#9dce59 48px,#9fce59 54px,#a0cf58 60px,#a1cf57 66px,#a3d057 72px,#a5d056 78px,#a6d155 84px,#a8d154 90px,#abd253 96px,#aed351 102px,#b3d550 108px,#bbd850 114px,#c4db50 120px,#cbdb50 126px,#d4d750 132px,#dcd450 138px,#e2d04f 144px,#e8ca4e 150px,#ecc64d 156px,#efc34d 162px,#f1c14c 168px,#f0c24c 174px,#eec44d 180px,#eac84e 186px,#e8ca4e 192px,#e6cc4f 198px,#e4ce4f 204px,#e0d250 210px,#d9d550 216px,#d1d850 222px,#cbdb50 226px)"></i><i style="background:linear-gradient(90deg,#8eca67 0px,#8fcb66 6px,#90cb65 12px,#91cb64 18px,#93cb62 24px,#94cb61 30px,#95cc5f 36px,#97cc5e 42px,#98cc5c 48px,#99cc5b 54px,#9bcd5b 60px,#9ccd5a 66px,#9ece59 72px,#9fce58 78px,#a1cf57 84px,#a3d056 90px,#a6d155 96px,#a8d154 102px,#add352 108px,#b3d550 114px,#bcd850 120px,#c4db50 126px,#cdda50 132px,#d5d750 138px,#ddd350 144px,#e3cf4f 150px,#e7cb4e 156px,#ebc74e 162px,#edc54d 168px,#edc54d 174px,#ebc74e 180px,#e7cb4e 186px,#e4ce4f 192px,#e3cf4f 198px,#e1d150 204px,#dcd450 210px,#d6d650 216px,#ceda50 222px,#c9dc50 226px)"></i><i style="background:linear-gradient(90deg,#88c96e 0px,#89ca6d 6px,#8bca6c 12px,#8cca6a 18px,#8dca69 24px,#8eca68 30px,#8fcb66 36px,#91cb64 42px,#92cb63 48px,#94cb61 54px,#95cc5f 60px,#97cc5e 66px,#98cc5c 72px,#9acd5b 78px,#9ccd5a 84px,#9ece59 90px,#a0cf58 96px,#a3d056 102px,#a8d154 108px,#add351 114px,#b4d550 120px,#bdd850 126px,#c6db50 132px,#ced950 138px,#d6d650 144px,#ded350 150px,#e3cf4f 156px,#e6cc4f 162px,#e9c94e 168px,#e9c94e 174px,#e7cb4e 180px,#e4ce4f 186px,#e1d150 192px,#e0d250 198px,#ddd350 204px,#d9d550 210px,#d2d850 216px,#cbdb50 222px,#c6db50 226px)"></i><i style="background:linear-gradient(90deg,#83c875 0px,#84c974 6px,#85c972 12px,#86c971 18px,#87c970 24px,#88c96e 30px,#8aca6d 36px,#8bca6b 42px,#8cca6a 48px,#8eca68 54px,#8fcb66 60px,#91cb64 66px,#92cb62 72px,#94cb60 78px,#96cc5e 84px,#98cc5c 90px,#9bcd5b 96px,#9ece59 102px,#a2cf57 108px,#a8d154 114px,#add351 120px,#b5d650 126px,#bed950 132px,#c8dc50 138px,#d0d950 144px,#d7d650 150px,#ded350 156px,#e2d050 162px,#e5cd4f 168px,#e5cd4f 174px,#e3cf4f 180px,#e0d250 186px,#ddd350 192px,#dcd450 198px,#d9d550 204px,#d5d750 210px,#cfd950 216px,#c8dc50 222px,#c3da50 226px)"></i><i style="background:linear-gradient(90deg,#7cc77e 0px,#7ec87c 6px,#7fc87a 12px,#80c878 18px,#81c876 24px,#83c875 30px,#84c973 36px,#85c972 42px,#87c970 48px,#88c96f 54px,#89ca6d 60px,#8bca6b 66px,#8dca69 72px,#8eca67 78px,#90cb65 84px,#93cb62 90px,#95cc5f 96px,#98cc5c 102px,#9dce5a 108px,#a2cf57 114px,#a8d154 120px,#aed351 126px,#b6d650 132px,#c0d950 138px,#c9dc50 144px,#d1d850 150px,#d8d550 156px,#ddd350 162px,#e1d150 168px,#e1d150 174px,#e0d250 180px,#dcd450 186px,#d9d550 192px,#d7d650 198px,#d5d650 204px,#d1d850 210px,#ccda50 216px,#c5db50 222px,#c0d950 226px)"></i><i style="background:linear-gradient(90deg,#76c68a 0px,#77c688 6px,#78c686 12px,#79c783 18px,#7bc781 24px,#7cc77e 30px,#7ec87c 36px,#7fc879 42px,#81c877 48px,#82c875 54px,#84c974 60px,#85c972 66px,#87c970 72px,#89c96e 78px,#8bca6c 84px,#8dca69 90px,#90cb66 96px,#93cb62 102px,#98cc5c 108px,#9dce59 114px,#a3d057 120px,#a9d254 126px,#afd450 132px,#b8d750 138px,#c2da50 144px,#cbdb50 150px,#d2d850 156px,#d7d650 162px,#dbd450 168px,#dcd350 174px,#dbd450 180px,#d7d650 186px,#d4d750 192px,#d3d750 198px,#d1d850 204px,#ceda50 210px,#c9dc50 216px,#c2da50 222px,#bdd850 226px)"></i><i style="background:linear-gradient(90deg,#6fc596 0px,#70c593 6px,#71c591 12px,#72c58f 18px,#74c68d 24px,#75c68a 30px,#77c688 36px,#78c685 42px,#7ac782 48px,#7cc77f 54px,#7ec87c 60px,#7fc879 66px,#81c877 72px,#83c875 78px,#85c972 84px,#87c970 90px,#8aca6d 96px,#8dca69 102px,#92cb63 108px,#98cc5c 114px,#9ece59 120px,#a4d056 126px,#aad253 132px,#b1d450 138px,#bad750 144px,#c4db50 150px,#cbdb50 156px,#d1d850 162px,#d5d650 168px,#d7d650 174px,#d5d650 180px,#d2d850 186px,#d0d950 192px,#cfd950 198px,#cdda50 204px,#cadb50 210px,#c5db50 216px,#bed950 222px,#bad750 226px)"></i><i style="background:linear-gradient(90deg,#6ac3a2 0px,#6ac3a0 6px,#6bc49d 12px,#6cc49b 18px,#6dc498 24px,#6ec496 30px,#70c593 36px,#71c591 42px,#73c58e 48px,#75c68b 54px,#77c688 60px,#78c685 66px,#7ac781 72px,#7dc77e 78px,#7fc87a 84px,#81c876 90px,#84c973 96px,#87c96f 102px,#8cca6a 108px,#92cb63 114px,#98cc5c 120px,#9ece59 126px,#a5d056 132px,#abd252 138px,#b3d550 144px,#bcd850 150px,#c5db50 156px,#cbdb50 162px,#d0d950 168px,#d2d850 174px,#d0d950 180px,#cdda50 186px,#cbdb50 192px,#cadb50 198px,#c9dc50 204px,#c6db50 210px,#c1da50 216px,#bbd850 222px,#b7d650 226px)"></i><i style="background:linear-gradient(90deg,#66c2af 0px,#66c2ad 6px,#67c2ab 12px,#68c2a8 18px,#69c3a5 24px,#69c3a3 30px,#6ac3a0 36px,#6bc49d 42px,#6cc49a 48px,#6ec497 54px,#70c594 60px,#71c591 66px,#73c58d 72px,#76c68a 78px,#78c686 84px,#7bc781 90px,#7ec87c 96px,#82c876 102px,#86c970 108px,#8dca69 114px,#93cb62 120px,#99cc5b 126px,#a0cf58 132px,#a6d155 138px,#add352 144px,#b5d650 150px,#bed950 156px,#c5db50 162px,#cadb50 168px,#ccda50 174px,#cbdb50 180px,#c8dc50 186px,#c6db50 192px,#c6db50 198px,#c4db50 204px,#c1da50 210px,#bdd850 216px,#b7d650 222px,#b4d550 226px)"></i><i style="background:linear-gradient(90deg,#62c0bc 0px,#62c1ba 6px,#63c1b8 12px,#64c1b5 18px,#64c1b3 24px,#65c2b0 30px,#66c2ad 36px,#67c2aa 42px,#68c3a7 48px,#69c3a4 54px,#6ac3a0 60px,#6bc49d 66px,#6dc499 72px,#6fc595 78px,#71c591 84px,#74c68d 90px,#77c687 96px,#7bc780 102px,#81c877 108px,#87c970 114px,#8dca69 120px,#94cb61 126px,#9acd5b 132px,#a1cf57 138px,#a8d154 144px,#aed351 150px,#b6d650 156px,#bed950 162px,#c4db50 168px,#c6db50 174px,#c6db50 180px,#c3da50 186px,#c1da50 192px,#c0d950 198px,#c0d950 204px,#bdd850 210px,#b9d750 216px,#b4d550 222px,#b1d450 226px)"></i><i style="background:linear-gradient(90deg,#5ebfc9 0px,#5ebfc7 6px,#5fbfc5 12px,#60c0c2 18px,#61c0c0 24px,#61c0bd 30px,#62c1ba 36px,#63c1b7 42px,#64c1b4 48px,#65c2b1 54px,#66c2ae 60px,#67c2aa 66px,#68c3a6 72px,#6ac3a2 78px,#6bc49e 84px,#6dc499 90px,#70c593 96px,#74c68c 102px,#7ac782 108px,#81c877 114px,#88c96f 120px,#8eca68 126px,#95cc5f 132px,#9ccd5a 138px,#a3d057 144px,#a9d253 150px,#b0d450 156px,#b7d650 162px,#bdd850 168px,#c0d950 174px,#c0d950 180px,#bdd850 186px,#bbd850 192px,#bbd850 198px,#bbd850 204px,#b9d750 210px,#b5d650 216px,#b0d450 222px,#aed351 226px)"></i><i style="background:linear-gradient(90deg,#5bbad2 0px,#5cbbd1 6px,#5cbccf 12px,#5dbdcd 18px,#5dbdcb 24px,#5ebec9 30px,#5ebfc7 36px,#5fbfc4 42px,#60c0c1 48px,#61c0be 54px,#62c0bb 60px,#63c1b7 66px,#64c1b4 72px,#65c2af 78px,#67c2ab 84px,#68c3a6 90px,#6ac39f 96px,#6dc498 102px,#73c58e 108px,#7bc781 114px,#82c876 120px,#88c96e 126px,#8fcb66 132px,#97cc5d 138px,#9ece59 144px,#a4d056 150px,#abd253 156px,#b0d450 162px,#b6d650 168px,#bad750 174px,#bad750 180px,#b7d650 186px,#b6d650 192px,#b6d650 198px,#b6d650 204px,#b4d550 210px,#b1d450 216px,#aed351 222px,#acd352 226px)"></i><i style="background:linear-gradient(90deg,#59b6dc 0px,#59b7da 6px,#5ab7d9 12px,#5ab8d7 18px,#5bb9d5 24px,#5bbad3 30px,#5cbbd1 36px,#5cbccf 42px,#5dbdcd 48px,#5dbeca 54px,#5ebfc8 60px,#5fbfc4 66px,#60c0c1 72px,#61c0bd 78px,#63c1b8 84px,#64c1b3 90px,#66c2ad 96px,#69c3a5 102px,#6cc499 108px,#74c68d 114px,#7cc780 120px,#83c875 126px,#8aca6c 132px,#91cb64 138px,#99cc5c 144px,#9fce58 150px,#a6d155 156px,#abd252 162px,#b0d450 168px,#b4d550 174px,#b4d550 180px,#b2d550 186px,#b1d450 192px,#b1d450 198px,#b1d450 204px,#b0d450 210px,#aed351 216px,#abd252 222px,#aad253 226px)"></i><i style="background:linear-gradient(90deg,#58b0df 0px,#58b1df 6px,#58b3e0 12px,#58b4e0 18px,#58b5de 24px,#59b6dc 30px,#59b7da 36px,#5ab8d8 42px,#5ab9d6 48px,#5bbad4 54px,#5cbbd1 60px,#5cbccf 66px,#5dbdcc 72px,#5ebec9 78px,#5fbfc5 84px,#60c0c0 90px,#62c1ba 96px,#65c1b2 102px,#68c3a6 108px,#6dc498 114px,#75c68b 120px,#7dc77e 126px,#84c973 132px,#8cca6a 138px,#93cb62 144px,#9acd5b 150px,#a1cf57 156px,#a7d155 162px,#abd252 168px,#aed351 174px,#aed351 180px,#add351 186px,#add352 192px,#add351 198px,#add351 204px,#add352 210px,#abd252 216px,#a9d254 222px,#a8d154 226px)"></i><i style="background:linear-gradient(90deg,#59a9dd 0px,#59aadd 6px,#59abdd 12px,#59adde 18px,#58aede 24px,#58b0df 30px,#58b1df 36px,#58b3e0 42px,#58b4df 48px,#59b5dd 54px,#59b6db 60px,#5ab7d8 66px,#5bb9d6 72px,#5bbad3 78px,#5cbcd0 84px,#5dbdcc 90px,#5ebfc7 96px,#61c0bf 102px,#64c1b3 108px,#69c3a5 114px,#6ec497 120px,#76c689 126px,#7fc87a 132px,#86c971 138px,#8eca68 144px,#95cc5f 150px,#9ccd5a 156px,#a2cf57 162px,#a7d155 168px,#aad253 174px,#aad253 180px,#a9d253 186px,#a9d254 192px,#aad253 198px,#aad253 204px,#a9d253 210px,#a8d154 216px,#a7d155 222px,#a5d055 226px)"></i><i style="background:linear-gradient(90deg,#59a2da 0px,#59a3db 6px,#59a4db 12px,#59a5dc 18px,#59a7dc 24px,#59a8dc 30px,#59aadd 36px,#59abdd 42px,#59adde 48px,#58afde 54px,#58b1df 60px,#58b3e0 66px,#58b4df 72px,#59b6dc 78px,#5ab7d9 84px,#5bb9d5 90px,#5cbbd1 96px,#5dbecb 102px,#60c0c0 108px,#65c1b2 114px,#69c3a3 120px,#6fc595 126px,#78c686 132px,#81c877 138px,#88c96e 144px,#90cb65 150px,#97cc5d 156px,#9dce59 162px,#a2cf57 168px,#a6d155 174px,#a6d155 180px,#a5d055 186px,#a5d055 192px,#a6d155 198px,#a7d155 204px,#a6d155 210px,#a5d055 216px,#a4d056 222px,#a3d056 226px)"></i><i style="background:linear-gradient(90deg,#5a9bd8 0px,#5a9cd9 6px,#5a9dd9 12px,#5a9ed9 18px,#5aa0da 24px,#59a1da 30px,#59a3db 36px,#59a4db 42px,#59a6dc 48px,#59a8dc 54px,#59a9dd 60px,#59abdd 66px,#59adde 72px,#58b0df 78px,#58b2df 84px,#58b5df 90px,#59b7da 96px,#5bb9d4 102px,#5dbdcc 108px,#61c0bf 114px,#65c2b0 120px,#6ac3a1 126px,#71c591 132px,#7ac782 138px,#83c875 144px,#8bca6c 150px,#92cb63 156px,#99cc5c 162px,#9ece59 168px,#a1cf57 174px,#a2cf57 180px,#a2cf57 186px,#a2cf57 192px,#a3d057 198px,#a3d056 204px,#a3d056 210px,#a3d057 216px,#a2cf57 222px,#a1cf58 226px)"></i><i style="background:linear-gradient(90deg,#5a94d5 0px,#5a95d6 6px,#5a96d6 12px,#5a98d7 18px,#5a99d7 24px,#5a9ad8 30px,#5a9cd9 36px,#5a9dd9 42px,#5a9fd9 48px,#5aa0da 54px,#59a2db 60px,#59a4db 66px,#59a6dc 72px,#59a8dc 78px,#59abdd 84px,#58aede 90px,#58b1df 96px,#59b5de 102px,#5bb9d5 108px,#5dbecb 114px,#61c0bd 120px,#66c2ae 126px,#6bc49d 132px,#74c68d 138px,#7dc77e 144px,#85c972 150px,#8dca69 156px,#94cb61 162px,#99cc5b 168px,#9dce5a 174px,#9ece59 180px,#9ece59 186px,#9ece59 192px,#9fce59 198px,#a0cf58 204px,#a0cf58 210px,#a0cf58 216px,#9fce58 222px,#9fce59 226px)"></i><i style="background:linear-gradient(90deg,#5a8ed2 0px,#5a8fd3 6px,#5a90d3 12px,#5a91d4 18px,#5a92d4 24px,#5a94d5 30px,#5a95d6 36px,#5a96d6 42px,#5a98d7 48px,#5a99d8 54px,#5a9bd8 60px,#5a9dd9 66px,#5a9fda 72px,#59a1da 78px,#59a4db 84px,#59a6dc 90px,#59aadd 96px,#58afde 102px,#58b5df 108px,#5bb9d4 114px,#5ebec9 120px,#62c0ba 126px,#67c2aa 132px,#6dc498 138px,#76c689 144px,#80c878 150px,#88c96f 156px,#8eca67 162px,#95cb60 168px,#99cc5c 174px,#9acd5b 180px,#9acd5b 186px,#9acd5b 192px,#9bcd5a 198px,#9dce5a 204px,#9dce5a 210px,#9dce5a 216px,#9dce5a 222px,#9ccd5a 226px)"></i><i style="background:linear-gradient(90deg,#5a88d0 0px,#5a89d0 6px,#5a8ad0 12px,#5a8bd1 18px,#5a8cd2 24px,#5a8dd2 30px,#5a8fd3 36px,#5a90d3 42px,#5a91d4 48px,#5a93d5 54px,#5a95d5 60px,#5a96d6 66px,#5a98d7 72px,#5a9ad8 78px,#5a9dd9 84px,#5a9fda 90px,#59a3db 96px,#59a7dc 102px,#58aede 108px,#59b5dd 114px,#5bbad2 120px,#5ebfc7 126px,#63c1b6 132px,#69c3a5 138px,#70c594 144px,#79c783 150px,#82c875 156px,#89ca6d 162px,#90cb66 168px,#94cb61 174px,#96cc5f 180px,#96cc5f 186px,#96cc5e 192px,#98cc5c 198px,#99cc5b 204px,#9acd5b 210px,#9acd5b 216px,#9acd5b 222px,#9acd5b 226px)"></i><i style="background:linear-gradient(90deg,#5a82cd 0px,#5a83cd 6px,#5a84ce 12px,#5a85ce 18px,#5a86cf 24px,#5a87cf 30px,#5a88d0 36px,#5a8ad0 42px,#5a8bd1 48px,#5a8dd2 54px,#5a8ed3 60px,#5a90d3 66px,#5a92d4 72px,#5a94d5 78px,#5a96d6 84px,#5a98d7 90px,#5a9cd9 96px,#5aa0da 102px,#59a7dc 108px,#58afde 114px,#59b6dc 120px,#5cbbd1 126px,#60c0c3 132px,#65c1b2 138px,#6ac3a0 144px,#73c58e 150px,#7dc77e 156px,#84c973 162px,#8bca6b 168px,#8fcb66 174px,#91cb64 180px,#91cb64 186px,#92cb63 192px,#94cb61 198px,#96cc5f 204px,#96cc5e 210px,#97cc5d 216px,#97cc5d 222px,#98cc5c 226px)"></i><i style="background:linear-gradient(90deg,#5a7cc9 0px,#5a7dc9 6px,#5a7eca 12px,#5a7fcb 18px,#5a80cc 24px,#5a81cc 30px,#5a82cd 36px,#5a84ce 42px,#5a85ce 48px,#5a86cf 54px,#5a88d0 60px,#5a8ad0 66px,#5a8bd1 72px,#5a8dd2 78px,#5a8fd3 84px,#5a92d4 90px,#5a95d6 96px,#5a99d8 102px,#5aa0da 108px,#59a8dc 114px,#58b0df 120px,#5ab7da 126px,#5dbcce 132px,#61c0be 138px,#66c2ac 144px,#6dc499 150px,#76c688 156px,#7fc879 162px,#86c971 168px,#8bca6c 174px,#8dca69 180px,#8dca69 186px,#8eca67 192px,#90cb65 198px,#92cb63 204px,#93cb62 210px,#94cb61 216px,#95cb60 222px,#95cc5f 226px)"></i><i style="background:linear-gradient(90deg,#5976c4 0px,#5977c5 6px,#5978c6 12px,#5979c7 18px,#5a7ac7 24px,#5a7bc8 30px,#5a7cc9 36px,#5a7eca 42px,#5a7fcb 48px,#5a80cc 54px,#5a82cd 60px,#5a83ce 66px,#5a85ce 72px,#5a87cf 78px,#5a89d0 84px,#5a8cd1 90px,#5a8fd3 96px,#5a93d5 102px,#5a99d8 108px,#59a1da 114px,#59a9dd 120px,#58b2df 126px,#5ab8d7 132px,#5ebeca 138px,#63c1b8 144px,#69c3a5 150px,#70c593 156px,#79c784 162px,#81c877 168px,#86c971 174px,#88c96e 180px,#89ca6d 186px,#8aca6c 192px,#8cca6a 198px,#8eca67 204px,#90cb66 210px,#91cb64 216px,#92cb63 222px,#93cb62 226px)"></i><i style="background:linear-gradient(90deg,#5971c0 0px,#5971c1 6px,#5972c1 12px,#5973c2 18px,#5974c3 24px,#5975c4 30px,#5977c5 36px,#5978c6 42px,#5979c7 48px,#5a7ac8 54px,#5a7cc9 60px,#5a7dca 66px,#5a7fcb 72px,#5a81cc 78px,#5a83cd 84px,#5a85cf 90px,#5a89d0 96px,#5a8dd2 102px,#5a93d5 108px,#5a9ad8 114px,#59a2db 120px,#59abdd 126px,#58b4e0 132px,#5bbad3 138px,#5fbfc5 144px,#65c1b1 150px,#6bc49e 156px,#73c58e 162px,#7cc780 168px,#81c876 174px,#84c974 180px,#85c972 186px,#86c971 192px,#88c96e 198px,#8bca6c 204px,#8cca6a 210px,#8eca68 216px,#8fcb66 222px,#90cb65 226px)"></i><i style="background:linear-gradient(90deg,#586bbc 0px,#586cbd 6px,#596dbd 12px,#596ebe 18px,#596fbf 24px,#5970c0 30px,#5971c0 36px,#5972c1 42px,#5973c2 48px,#5975c3 54px,#5976c4 60px,#5978c6 66px,#5979c7 72px,#5a7bc8 78px,#5a7dca 84px,#5a7fcc 90px,#5a83cd 96px,#5a87cf 102px,#5a8cd2 108px,#5a94d5 114px,#5a9bd8 120px,#59a4db 126px,#59adde 132px,#59b6dc 138px,#5cbccf 144px,#61c0bd 150px,#67c2aa 156px,#6dc498 162px,#76c689 168px,#7cc77e 174px,#7fc879 180px,#81c877 186px,#82c875 192px,#85c973 198px,#87c970 204px,#89c96e 210px,#8bca6b 216px,#8dca69 222px,#8eca68 226px)"></i><i style="background:linear-gradient(90deg,#5866b8 0px,#5867b9 6px,#5868b9 12px,#5869ba 18px,#586abb 24px,#586bbc 30px,#586cbc 36px,#596dbd 42px,#596ebe 48px,#596fbf 54px,#5971c0 60px,#5972c1 66px,#5974c2 72px,#5975c4 78px,#5977c5 84px,#5a7ac7 90px,#5a7dc9 96px,#5a81cc 102px,#5a86cf 108px,#5a8dd2 114px,#5a95d6 120px,#5a9dd9 126px,#59a6dc 132px,#58b0df 138px,#5ab8d7 144px,#5ebfc9 150px,#64c1b6 156px,#69c3a3 162px,#70c593 168px,#77c688 174px,#7ac782 180px,#7cc77f 186px,#7ec87c 192px,#81c877 198px,#83c974 204px,#85c972 210px,#88c96f 216px,#8aca6d 222px,#8bca6b 226px)"></i><i style="background:linear-gradient(90deg,#5760b2 0px,#5761b3 6px,#5762b4 12px,#5763b5 18px,#5864b6 24px,#5865b7 30px,#5866b8 36px,#5868b9 42px,#5869ba 48px,#586abb 54px,#586bbc 60px,#596dbd 66px,#596ebe 72px,#5970c0 78px,#5972c1 84px,#5974c3 90px,#5977c5 96px,#5a7bc8 102px,#5a80cc 108px,#5a87cf 114px,#5a8fd3 120px,#5a97d6 126px,#5aa0da 132px,#59a9dd 138px,#58b4e0 144px,#5cbbd2 150px,#60c0c1 156px,#66c2af 162px,#6bc49d 168px,#71c591 174px,#75c68b 180px,#77c688 186px,#79c784 192px,#7cc77e 198px,#80c879 204px,#82c876 210px,#85c972 216px,#87c970 222px,#89c96e 226px)"></i><i style="background:linear-gradient(90deg,#565bad 0px,#565cae 6px,#565daf 12px,#565eb0 18px,#565fb1 24px,#5760b2 30px,#5761b3 36px,#5762b4 42px,#5763b5 48px,#5865b7 54px,#5866b8 60px,#5867b9 66px,#5869ba 72px,#586abb 78px,#586cbd 84px,#596ebe 90px,#5971c1 96px,#5975c4 102px,#5a7bc8 108px,#5a81cd 114px,#5a89d0 120px,#5a91d4 126px,#5a99d8 132px,#59a3db 138px,#59adde 144px,#59b7da 150px,#5dbdcc 156px,#62c0ba 162px,#68c2a8 168px,#6cc49b 174px,#6fc594 180px,#72c590 186px,#74c68c 192px,#78c686 198px,#7bc780 204px,#7fc87a 210px,#82c876 216px,#85c973 222px,#87c970 226px)"></i><i style="background:linear-gradient(90deg,#5456a8 0px,#5557a9 6px,#5557a9 12px,#5558aa 18px,#5559ab 24px,#555aac 30px,#565bad 36px,#565daf 42px,#565eb0 48px,#565fb1 54px,#5760b2 60px,#5762b4 66px,#5763b5 72px,#5865b7 78px,#5867b9 84px,#5869ba 90px,#586cbd 96px,#5970bf 102px,#5975c4 108px,#5a7cc9 114px,#5a83cd 120px,#5a8bd1 126px,#5a93d5 132px,#5a9cd9 138px,#59a6dc 144px,#58b2df 150px,#5bb9d4 156px,#5fbfc5 162px,#64c1b3 168px,#69c3a5 174px,#6bc49d 180px,#6dc499 186px,#6fc594 192px,#73c58e 198px,#77c687 204px,#7bc781 210px,#7fc87a 216px,#82c876 222px,#84c973 226px)"></i><i style="background:linear-gradient(90deg,#5351a3 0px,#5352a4 6px,#5452a4 12px,#5453a5 18px,#5454a6 24px,#5455a7 30px,#5456a8 36px,#5557a9 42px,#5558aa 48px,#555aac 54px,#555bad 60px,#565cae 66px,#565eb0 72px,#5760b2 78px,#5761b3 84px,#5764b6 90px,#5867b9 96px,#586abb 102px,#5970bf 108px,#5976c4 114px,#5a7dca 120px,#5a85ce 126px,#5a8dd2 132px,#5a96d6 138px,#5aa0da 144px,#59abdd 150px,#59b6dc 156px,#5cbcce 162px,#61c0be 168px,#65c2b0 174px,#68c3a7 180px,#69c3a2 186px,#6bc49c 192px,#6fc596 198px,#73c58f 204px,#77c688 210px,#7bc781 216px,#7fc87a 222px,#82c876 226px)"></i><i style="background:linear-gradient(90deg,#514c9b 0px,#524d9d 6px,#524d9e 12px,#524e9f 18px,#534fa1 24px,#5350a2 30px,#5351a3 36px,#5452a4 42px,#5453a5 48px,#5454a6 54px,#5456a8 60px,#5557a9 66px,#5559ab 72px,#555aac 78px,#565cae 84px,#565eb0 90px,#5761b3 96px,#5865b7 102px,#586abb 108px,#5971c0 114px,#5978c6 120px,#5a7fcb 126px,#5a87cf 132px,#5a90d3 138px,#5a99d8 144px,#59a5db 150px,#58b0df 156px,#5ab8d6 162px,#5ebfc9 168px,#62c1ba 174px,#65c1b1 180px,#67c2ac 186px,#68c3a6 192px,#6bc49e 198px,#6ec496 204px,#73c58f 210px,#77c687 216px,#7cc77f 222px,#7fc879 226px)"></i><i style="background:linear-gradient(90deg,#4f4793 0px,#4f4895 6px,#504896 12px,#504997 18px,#504a99 24px,#514b9a 30px,#514c9c 36px,#524d9d 42px,#524e9f 48px,#534fa1 54px,#5351a3 60px,#5352a4 66px,#5453a5 72px,#5455a7 78px,#5557a9 84px,#5559ab 90px,#565cae 96px,#5760b2 102px,#5865b7 108px,#586cbc 114px,#5972c2 120px,#5979c7 126px,#5a81cd 132px,#5a8ad1 138px,#5a94d5 144px,#5a9ed9 150px,#59aadd 156px,#58b5de 162px,#5cbbd0 168px,#5fbfc4 174px,#62c0bb 180px,#64c1b5 186px,#66c2ae 192px,#68c3a6 198px,#6bc49e 204px,#6fc595 210px,#74c68d 216px,#79c784 222px,#7dc77e 226px)"></i><i style="background:linear-gradient(90deg,#4d428c 0px,#4d438d 6px,#4e448e 12px,#4e458f 18px,#4e4591 24px,#4f4692 30px,#4f4794 36px,#504895 42px,#504997 48px,#514a99 54px,#514c9b 60px,#524d9d 66px,#524e9f 72px,#5350a2 78px,#5352a4 84px,#5454a6 90px,#5557a9 96px,#555aac 102px,#5760b2 108px,#5867b8 114px,#596dbe 120px,#5974c3 126px,#5a7cc9 132px,#5a84ce 138px,#5a8ed2 144px,#5a98d7 150px,#59a4db 156px,#58afde 162px,#5ab8d8 168px,#5dbdcd 174px,#5fbfc5 180px,#61c0be 186px,#63c1b7 192px,#66c2af 198px,#68c3a6 204px,#6bc49c 210px,#70c593 216px,#76c689 222px,#7ac783 226px)"></i><i style="background:linear-gradient(90deg,#4b3e83 0px,#4b3e85 6px,#4c3f86 12px,#4c4088 18px,#4c4189 24px,#4d428b 30px,#4d438c 36px,#4e448e 42px,#4e448f 48px,#4e4691 54px,#4f4793 60px,#4f4895 66px,#504997 72px,#514b9a 78px,#524d9d 84px,#534fa0 90px,#5352a4 96px,#5455a7 102px,#555bad 108px,#5761b3 114px,#5868ba 120px,#596fbf 126px,#5977c5 132px,#5a7fcb 138px,#5a88d0 144px,#5a93d5 150px,#5a9ed9 156px,#59a9dd 162px,#58b4e0 168px,#5bbad4 174px,#5dbdcd 180px,#5ebfc7 186px,#60c0c0 192px,#63c1b7 198px,#66c2ae 204px,#69c3a4 210px,#6dc499 216px,#73c58f 222px,#77c687 226px)"></i><i style="background:linear-gradient(90deg,#483979 0px,#49397a 6px,#493a7c 12px,#493b7e 18px,#4a3c80 24px,#4a3d81 30px,#4b3e84 36px,#4b3f86 42px,#4c4088 48px,#4c418a 54px,#4d428b 60px,#4d438d 66px,#4e4590 72px,#4f4692 78px,#4f4895 84px,#504a98 90px,#524d9d 96px,#5351a3 102px,#5456a8 108px,#565cae 114px,#5763b5 120px,#586abb 126px,#5971c1 132px,#5a7ac7 138px,#5a83cd 144px,#5a8dd2 150px,#5a98d7 156px,#59a3db 162px,#58aede 168px,#59b6db 174px,#5bbad4 180px,#5cbcce 186px,#5ebfc8 192px,#61c0bf 198px,#64c1b5 204px,#67c2ab 210px,#6bc39f 216px,#70c594 222px,#74c68c 226px)"></i><i style="background:linear-gradient(90deg,#463470 0px,#463471 6px,#473572 12px,#473674 18px,#473776 24px,#483877 30px,#483979 36px,#493a7b 42px,#493b7d 48px,#4a3c80 54px,#4b3d82 60px,#4b3f85 66px,#4c4088 72px,#4d428b 78px,#4d438d 84px,#4e4590 90px,#4f4895 96px,#514c9b 102px,#5351a3 108px,#5557a9 114px,#565eb0 120px,#5865b7 126px,#596dbd 132px,#5974c3 138px,#5a7dca 144px,#5a88cf 150px,#5a92d5 156px,#5a9dd9 162px,#59a9dd 168px,#58b2df 174px,#59b7da 180px,#5bb9d5 186px,#5cbccf 192px,#5ebfc7 198px,#61c0bd 204px,#65c1b2 210px,#69c3a5 216px,#6dc499 222px,#72c591 226px)"></i><i style="background:linear-gradient(90deg,#443168 0px,#443169 6px,#44316a 12px,#45326b 18px,#45326c 24px,#46336e 30px,#463470 36px,#463572 42px,#473674 48px,#473776 54px,#483878 60px,#49397b 66px,#493b7e 72px,#4a3d81 78px,#4b3e85 84px,#4c4189 90px,#4d438d 96px,#4f4793 102px,#514c9c 108px,#5452a4 114px,#5559ab 120px,#5760b2 126px,#5868b9 132px,#5970bf 138px,#5978c6 144px,#5a82cd 150px,#5a8dd2 156px,#5a98d7 162px,#59a3db 168px,#59adde 174px,#58b3e0 180px,#59b6db 186px,#5bb9d5 192px,#5dbdcd 198px,#5fbfc5 204px,#62c1b9 210px,#67c2ac 216px,#6bc49e 222px,#6fc595 226px)"></i><i style="background:linear-gradient(90deg,#422e63 0px,#422f63 6px,#432f64 12px,#432f65 18px,#433066 24px,#443067 30px,#443168 36px,#44316a 42px,#45326b 48px,#45326d 54px,#46336f 60px,#463571 66px,#473674 72px,#483877 78px,#49397b 84px,#4a3c7f 90px,#4b3f86 96px,#4d428c 102px,#4f4794 108px,#524e9e 114px,#5454a6 120px,#565bad 126px,#5763b5 132px,#586bbc 138px,#5973c2 144px,#5a7dca 150px,#5a88d0 156px,#5a93d5 162px,#5a9ed9 168px,#59a7dc 174px,#58aede 180px,#58b3e0 186px,#59b6db 192px,#5bbad3 198px,#5dbecb 204px,#60c0c0 210px,#65c1b2 216px,#69c3a4 222px,#6cc499 226px)"></i><i style="background:linear-gradient(90deg,#412c5d 0px,#412c5e 6px,#412d5f 12px,#412d60 18px,#422d61 24px,#422e62 30px,#422e63 36px,#432f64 42px,#432f65 48px,#433066 54px,#443068 60px,#443169 66px,#45326b 72px,#45336e 78px,#463571 84px,#473775 90px,#493a7c 96px,#4b3e84 102px,#4d438d 108px,#504997 114px,#5350a2 120px,#5456a8 126px,#565eb0 132px,#5866b8 138px,#596fbf 144px,#5978c6 150px,#5a83cd 156px,#5a8dd2 162px,#5a98d7 168px,#59a2db 174px,#59a9dd 180px,#58aede 186px,#58b3e0 192px,#5ab7d9 198px,#5cbbd0 204px,#5ebfc7 210px,#63c1b8 216px,#67c2a9 222px,#6bc49e 226px)"></i><i style="background:linear-gradient(90deg,#3f2a59 0px,#3f2b59 6px,#402b5a 12px,#402b5b 18px,#402b5c 24px,#402c5d 30px,#412c5d 36px,#412d5e 42px,#412d60 48px,#422e61 54px,#422e62 60px,#422f64 66px,#432f65 72px,#443067 78px,#443169 84px,#45326c 90px,#473572 96px,#49397a 102px,#4b3f85 108px,#4e4590 114px,#514b9a 120px,#5352a4 126px,#5559ab 132px,#5761b3 138px,#586abb 144px,#5974c2 150px,#5a7ecb 156px,#5a89d0 162px,#5a93d5 168px,#5a9dd9 174px,#59a4db 180px,#59a9dd 186px,#58afde 192px,#58b5de 198px,#5bb9d6 204px,#5dbdcc 210px,#61c0be 216px,#66c2ae 222px,#69c3a3 226px)"></i><i style="background:linear-gradient(90deg,#3e2955 0px,#3f2956 6px,#3f2956 12px,#3f2a57 18px,#3f2a57 24px,#3f2a58 30px,#3f2a59 36px,#402b5a 42px,#402b5b 48px,#402b5c 54px,#402c5d 60px,#412d5e 66px,#412d60 72px,#422e62 78px,#422f64 84px,#433066 90px,#45316a 96px,#463571 102px,#493a7c 108px,#4c4189 114px,#4f4793 120px,#524e9e 126px,#5455a7 132px,#565daf 138px,#5866b8 144px,#596fbf 150px,#5979c7 156px,#5a84ce 162px,#5a8fd3 168px,#5a98d7 174px,#5a9fda 180px,#59a5db 186px,#59aadd 192px,#58b1df 198px,#59b6db 204px,#5cbbd1 210px,#5fbfc4 216px,#64c1b4 222px,#68c3a8 226px)"></i><i style="background:linear-gradient(90deg,#3e2852 0px,#3e2852 6px,#3e2853 12px,#3e2853 18px,#3e2954 24px,#3e2954 30px,#3e2955 36px,#3f2956 42px,#3f2956 48px,#3f2a57 54px,#3f2a58 60px,#3f2b5a 66px,#402b5b 72px,#402c5d 78px,#412d5e 84px,#422e61 90px,#432f65 96px,#44316a 102px,#473673 108px,#4a3c80 114px,#4d438d 120px,#504997 126px,#5351a3 132px,#5558aa 138px,#5761b3 144px,#586bbc 150px,#5975c3 156px,#5a7fcb 162px,#5a8ad1 168px,#5a94d5 174px,#5a9ad8 180px,#5aa0da 186px,#59a6dc 192px,#59adde 198px,#58b4e0 204px,#5bb9d6 210px,#5ebec9 216px,#63c1b9 222px,#66c2ac 226px)"></i><i style="background:linear-gradient(90deg,#3d274f 0px,#3d2750 6px,#3d2750 12px,#3d2750 18px,#3e2851 24px,#3e2851 30px,#3e2852 36px,#3e2852 42px,#3e2853 48px,#3e2954 54px,#3e2955 60px,#3f2956 66px,#3f2a57 72px,#3f2a58 78px,#402b5a 84px,#402c5c 90px,#412d60 96px,#432f64 102px,#45326b 108px,#483878 114px,#4c3f86 120px,#4e4591 126px,#514c9c 132px,#5454a6 138px,#565cae 144px,#5867b8 150px,#5971c0 156px,#5a7bc8 162px,#5a86cf 168px,#5a8fd3 174px,#5a96d6 180px,#5a9cd9 186px,#59a2da 192px,#59a9dd 198px,#58b0df 204px,#59b7da 210px,#5dbdcd 216px,#61c0be 222px,#65c2b1 226px)"></i><i style="background:linear-gradient(90deg,#3d264d 0px,#3d264d 6px,#3d274e 12px,#3d274e 18px,#3d274e 24px,#3d274f 30px,#3d274f 36px,#3d2750 42px,#3d2750 48px,#3e2851 54px,#3e2852 60px,#3e2852 66px,#3e2853 72px,#3e2955 78px,#3f2956 84px,#3f2a58 90px,#402b5b 96px,#412d60 102px,#433066 108px,#463470 114px,#493b7d 120px,#4d428b 126px,#504896 132px,#5350a2 138px,#5558aa 144px,#5762b4 150px,#596dbd 156px,#5977c5 162px,#5a81cd 168px,#5a8bd1 174px,#5a92d4 180px,#5a98d7 186px,#5a9ed9 192px,#59a5db 198px,#59acde 204px,#58b5df 210px,#5cbbd1 216px,#60c0c2 222px,#64c1b5 226px)"></i><i style="background:linear-gradient(90deg,#3c264b 0px,#3d264c 6px,#3d264c 12px,#3d264c 18px,#3d264c 24px,#3d264d 30px,#3d264d 36px,#3d264d 42px,#3d274e 48px,#3d274e 54px,#3d274f 60px,#3d2750 66px,#3e2851 72px,#3e2852 78px,#3e2853 84px,#3e2954 90px,#3f2a57 96px,#402b5b 102px,#422e62 108px,#44316a 114px,#473775 120px,#4b3e83 126px,#4e458f 132px,#514c9c 138px,#5454a6 144px,#565eb0 150px,#5869ba 156px,#5973c2 162px,#5a7dca 168px,#5a87cf 174px,#5a8ed2 180px,#5a94d5 186px,#5a9ad8 192px,#59a1da 198px,#59a9dd 204px,#58b2df 210px,#5bb9d5 216px,#5ebfc7 222px,#62c1b9 226px)"></i><i style="background:linear-gradient(90deg,#3c254a 0px,#3c254a 6px,#3c254a 12px,#3c264b 18px,#3c264b 24px,#3c264b 30px,#3c264b 36px,#3d264c 42px,#3d264c 48px,#3d264c 54px,#3d264d 60px,#3d274e 66px,#3d274e 72px,#3d274f 78px,#3d2750 84px,#3e2852 90px,#3e2954 96px,#3f2a58 102px,#412c5d 108px,#432f65 114px,#46336e 120px,#493a7b 126px,#4c418a 132px,#504895 138px,#5351a3 144px,#555aac 150px,#5865b7 156px,#596fbf 162px,#5979c7 168px,#5a83cd 174px,#5a8ad1 180px,#5a90d3 186px,#5a96d6 192px,#5a9dd9 198px,#59a5db 204px,#58aede 210px,#5ab7d9 216px,#5dbecb 222px,#61c0bd 226px)"></i><i style="background:linear-gradient(90deg,#3c2549 0px,#3c2549 6px,#3c2549 12px,#3c254a 18px,#3c254a 24px,#3c254a 30px,#3c254a 36px,#3c254a 42px,#3c254a 48px,#3c264b 54px,#3c264b 60px,#3d264c 66px,#3d264c 72px,#3d264d 78px,#3d274e 84px,#3d274f 90px,#3e2852 96px,#3e2955 102px,#402b5a 108px,#422e61 114px,#443169 120px,#473674 126px,#4b3d83 132px,#4e4590 138px,#524d9d 144px,#5456a8 150px,#5761b3 156px,#586bbc 162px,#5976c4 168px,#5a7fcb 174px,#5a86cf 180px,#5a8cd2 186px,#5a93d5 192px,#5a9ad8 198px,#59a2da 204px,#59abdd 210px,#59b6dd 216px,#5dbcce 222px,#60c0c1 226px)"></i><i style="background:linear-gradient(90deg,#3c2549 0px,#3c2549 6px,#3c2549 12px,#3c2549 18px,#3c2549 24px,#3c2549 30px,#3c2549 36px,#3c2549 42px,#3c254a 48px,#3c254a 54px,#3c254a 60px,#3c254a 66px,#3c264b 72px,#3d264c 78px,#3d264c 84px,#3d264d 90px,#3d2750 96px,#3e2853 102px,#3f2a57 108px,#412c5d 114px,#432f65 120px,#45336e 126px,#493a7c 132px,#4d428b 138px,#504997 144px,#5453a5 150px,#565daf 156px,#5868b9 162px,#5972c1 168px,#5a7cc9 174px,#5a83cd 180px,#5a89d0 186px,#5a8fd3 192px,#5a97d6 198px,#5a9fd9 204px,#59a8dc 210px,#58b4e0 216px,#5cbbd1 222px,#5fbfc5 226px)"></i><i style="background:linear-gradient(90deg,#3c2549 0px,#3c2549 6px,#3c2549 12px,#3c2549 18px,#3c2549 24px,#3c2549 30px,#3c2549 36px,#3c2549 42px,#3c2549 48px,#3c2549 54px,#3c2549 60px,#3c254a 66px,#3c254a 72px,#3c264b 78px,#3c264b 84px,#3d264c 90px,#3d274e 96px,#3e2851 102px,#3e2955 108px,#402b5a 114px,#422e61 120px,#443169 126px,#473775 132px,#4b3e85 138px,#4f4692 144px,#5350a2 150px,#555aac 156px,#5864b6 162px,#596fbf 168px,#5978c6 174px,#5a7fcc 180px,#5a86cf 186px,#5a8cd2 192px,#5a93d5 198px,#5a9bd8 204px,#59a5db 210px,#58b1df 216px,#5bbad4 222px,#5ebfc8 226px)"></i><i style="background:linear-gradient(90deg,#3c254a 0px,#3c254a 6px,#3c254a 12px,#3c2549 18px,#3c2549 24px,#3c2549 30px,#3c2549 36px,#3c2549 42px,#3c2549 48px,#3c2549 54px,#3c2549 60px,#3c2549 66px,#3c254a 72px,#3c254a 78px,#3c254a 84px,#3c264b 90px,#3d264d 96px,#3d2750 102px,#3e2853 108px,#3f2a58 114px,#412d5e 120px,#432f66 126px,#46346f 132px,#4a3b7e 138px,#4d438d 144px,#514c9c 150px,#5457a9 156px,#5761b3 162px,#586bbc 168px,#5975c3 174px,#5a7cc9 180px,#5a83cd 186px,#5a89d0 192px,#5a90d4 198px,#5a99d7 204px,#59a2db 210px,#58afde 216px,#5ab8d7 222px,#5dbecb 226px)"></i><i style="background:linear-gradient(90deg,#3c264b 0px,#3c264b 6px,#3c264b 12px,#3c254a 18px,#3c254a 24px,#3c254a 30px,#3c254a 36px,#3c254a 42px,#3c254a 48px,#3c254a 54px,#3c254a 60px,#3c254a 66px,#3c254a 72px,#3c254a 78px,#3c254a 84px,#3c264b 90px,#3d264d 96px,#3d274f 102px,#3e2852 108px,#3f2956 114px,#402c5c 120px,#422e63 126px,#45326b 132px,#483878 138px,#4c4189 144px,#504a98 150px,#5454a6 156px,#565eb0 162px,#5868ba 168px,#5972c1 174px,#5979c7 180px,#5a80cc 186px,#5a86cf 192px,#5a8ed2 198px,#5a96d6 204px,#5aa0da 210px,#59acde 216px,#5ab7d9 222px,#5dbdcd 226px)"></i><i style="background:linear-gradient(90deg,#3d264c 0px,#3d264c 6px,#3d264c 12px,#3d264c 18px,#3c264b 24px,#3c264b 30px,#3c264b 36px,#3c264b 42px,#3c254a 48px,#3c254a 54px,#3c254a 60px,#3c254a 66px,#3c254a 72px,#3c254a 78px,#3c254a 84px,#3c264b 90px,#3d264d 96px,#3d274f 102px,#3e2851 108px,#3e2955 114px,#402b5a 120px,#412d60 126px,#443068 132px,#473673 138px,#4b3e84 144px,#4f4793 150px,#5351a3 156px,#555bad 162px,#5866b8 168px,#596fbf 174px,#5976c5 180px,#5a7dca 186px,#5a84ce 192px,#5a8bd1 198px,#5a93d5 204px,#5a9dd9 210px,#59aadd 216px,#59b6dc 222px,#5cbcd0 226px)"></i><i style="background:linear-gradient(90deg,#3d274e 0px,#3d274e 6px,#3d274e 12px,#3d264d 18px,#3d264d 24px,#3d264d 30px,#3d264c 36px,#3d264c 42px,#3d264c 48px,#3d264c 54px,#3c264b 60px,#3c264b 66px,#3c264b 72px,#3c264b 78px,#3c264b 84px,#3d264c 90px,#3d264d 96px,#3d274f 102px,#3e2851 108px,#3e2954 114px,#3f2a59 120px,#412d5e 126px,#432f66 132px,#46346f 138px,#4a3b7f 144px,#4e458f 150px,#524e9f 156px,#5558aa 162px,#5763b5 168px,#586cbd 174px,#5974c2 180px,#5a7ac7 186px,#5a81cc 192px,#5a88d0 198px,#5a91d4 204px,#5a9bd8 210px,#59a8dc 216px,#58b5de 222px,#5cbbd2 226px)"></i><i style="background:linear-gradient(90deg,#3e2851 0px,#3d2750 6px,#3d2750 12px,#3d2750 18px,#3d274f 24px,#3d274f 30px,#3d274e 36px,#3d274e 42px,#3d274e 48px,#3d264d 54px,#3d264d 60px,#3d264d 66px,#3d264d 72px,#3d264c 78px,#3d264c 84px,#3d264d 90px,#3d274e 96px,#3d274f 102px,#3e2851 108px,#3e2954 114px,#3f2a58 120px,#412c5d 126px,#422f64 132px,#45326c 138px,#49397a 144px,#4d428c 150px,#514c9b 156px,#5455a7 162px,#5760b2 168px,#586abb 174px,#5971c0 180px,#5978c6 186px,#5a7fcb 192px,#5a86cf 198px,#5a8fd3 204px,#5a99d7 210px,#59a6dc 216px,#58b4e0 222px,#5bbad4 226px)"></i><i style="background:linear-gradient(90deg,#3e2954 0px,#3e2853 6px,#3e2853 12px,#3e2852 18px,#3e2852 24px,#3e2851 30px,#3e2851 36px,#3d2750 42px,#3d2750 48px,#3d2750 54px,#3d274f 60px,#3d274f 66px,#3d274e 72px,#3d274e 78px,#3d274e 84px,#3d274e 90px,#3d274f 96px,#3d2750 102px,#3e2852 108px,#3e2954 114px,#3f2a58 120px,#402c5c 126px,#422e62 132px,#44316a 138px,#483777 144px,#4c4189 150px,#504a98 156px,#5453a5 162px,#565daf 168px,#5867b9 174px,#596fbf 180px,#5975c4 186px,#5a7cc9 192px,#5a84ce 198px,#5a8cd2 204px,#5a97d7 210px,#59a4db 216px,#58b2df 222px,#5bb9d6 226px)"></i><i style="background:linear-gradient(90deg,#3f2a57 0px,#3f2a57 6px,#3f2956 12px,#3f2956 18px,#3e2955 24px,#3e2954 30px,#3e2954 36px,#3e2853 42px,#3e2853 48px,#3e2852 54px,#3e2852 60px,#3e2851 66px,#3e2851 72px,#3d2750 78px,#3d2750 84px,#3d2750 90px,#3e2851 96px,#3e2852 102px,#3e2853 108px,#3e2955 114px,#3f2a58 120px,#402c5c 126px,#422e61 132px,#443168 138px,#473674 144px,#4b3f86 150px,#4f4895 156px,#5351a3 162px,#565bad 168px,#5865b7 174px,#596dbd 180px,#5973c2 186px,#5a7ac7 192px,#5a82cd 198px,#5a8ad1 204px,#5a95d6 210px,#59a2db 216px,#58b0df 222px,#5ab8d8 226px)"></i><i style="background:linear-gradient(90deg,#402b5b 0px,#402b5b 6px,#402b5a 12px,#3f2a59 18px,#3f2a58 24px,#3f2a58 30px,#3f2a57 36px,#3f2956 42px,#3f2956 48px,#3e2955 54px,#3e2955 60px,#3e2954 66px,#3e2853 72px,#3e2853 78px,#3e2852 84px,#3e2852 90px,#3e2853 96px,#3e2954 102px,#3e2955 108px,#3f2956 114px,#3f2a59 120px,#402c5c 126px,#422e61 132px,#443068 138px,#463572 144px,#4b3e83 150px,#4f4692 156px,#5350a1 162px,#5559ab 168px,#5763b5 174px,#586bbc 180px,#5971c1 186px,#5978c6 192px,#5a80cc 198px,#5a89d0 204px,#5a93d5 210px,#59a1da 216px,#58afde 222px,#5ab7d9 226px)"></i><i style="background:linear-gradient(90deg,#412d60 0px,#412d5f 6px,#412d5f 12px,#412c5e 18px,#402c5d 24px,#402c5c 30px,#402b5b 36px,#402b5a 42px,#3f2b5a 48px,#3f2a59 54px,#3f2a58 60px,#3f2a57 66px,#3f2a57 72px,#3f2956 78px,#3e2955 84px,#3e2955 90px,#3e2955 96px,#3f2956 102px,#3f2a57 108px,#3f2a58 114px,#402b5a 120px,#412c5d 126px,#422e61 132px,#443067 138px,#463471 144px,#4a3c81 150px,#4e4590 156px,#524e9f 162px,#5558aa 168px,#5761b3 174px,#5869ba 180px,#596fbf 186px,#5976c5 192px,#5a7ecb 198px,#5a87cf 204px,#5a92d4 210px,#5a9fda 216px,#58aede 222px,#59b6db 226px)"></i><i style="background:linear-gradient(90deg,#432f65 0px,#432f64 6px,#422f64 12px,#422e63 18px,#422e62 24px,#422e61 30px,#412d60 36px,#412d5f 42px,#412c5e 48px,#412c5d 54px,#402c5c 60px,#402b5b 66px,#402b5a 72px,#3f2b5a 78px,#3f2a59 84px,#3f2a58 90px,#3f2a58 96px,#3f2a59 102px,#3f2a59 108px,#402b5a 114px,#402b5c 120px,#412d5e 126px,#422e62 132px,#443068 138px,#463470 144px,#4a3c7f 150px,#4e448f 156px,#524d9d 162px,#5456a8 168px,#565fb1 174px,#5867b9 180px,#596ebe 186px,#5975c3 192px,#5a7dc9 198px,#5a85ce 204px,#5a90d3 210px,#5a9ed9 216px,#59acde 222px,#59b6dc 226px)"></i><i style="background:linear-gradient(90deg,#45326b 0px,#44316a 6px,#443169 12px,#443168 18px,#443067 24px,#433066 30px,#432f65 36px,#432f64 42px,#422e63 48px,#422e62 54px,#422e61 60px,#412d60 66px,#412d5f 72px,#412c5e 78px,#402c5d 84px,#402c5c 90px,#402c5c 96px,#402c5c 102px,#402c5c 108px,#402c5d 114px,#412c5e 120px,#412d60 126px,#422f63 132px,#443068 138px,#463470 144px,#4a3b7f 150px,#4e448e 156px,#514c9b 162px,#5455a7 168px,#565eb0 174px,#5866b8 180px,#586cbd 186px,#5973c2 192px,#5a7bc8 198px,#5a84ce 204px,#5a8fd3 210px,#5a9cd9 216px,#59abdd 222px,#59b5dd 226px)"></i><i style="background:linear-gradient(90deg,#473673 0px,#473572 6px,#463471 12px,#46346f 18px,#45336e 24px,#45326c 30px,#45326b 36px,#44316a 42px,#443169 48px,#443068 54px,#433066 60px,#432f65 66px,#432f64 72px,#422e63 78px,#422e62 84px,#422e61 90px,#422e61 96px,#422d61 102px,#412d60 108px,#412d60 114px,#422d61 120px,#422e62 126px,#432f65 132px,#443169 138px,#463571 144px,#4a3b7f 150px,#4d438d 156px,#514b9a 162px,#5454a6 168px,#565daf 174px,#5864b6 180px,#586bbc 186px,#5972c1 192px,#5a7ac7 198px,#5a83cd 204px,#5a8ed2 210px,#5a9bd8 216px,#59aadd 222px,#58b5de 226px)"></i><i style="background:linear-gradient(90deg,#493a7d 0px,#493a7b 6px,#48397a 12px,#483878 18px,#483777 24px,#473775 30px,#473673 36px,#463572 42px,#463470 48px,#46336e 54px,#45326c 60px,#45326b 66px,#44316a 72px,#443168 78px,#443067 84px,#433066 90px,#432f66 96px,#432f65 102px,#432f64 108px,#422f64 114px,#432f64 120px,#432f65 126px,#443067 132px,#45326b 138px,#473573 144px,#4a3c7f 150px,#4d438d 156px,#514a99 162px,#5453a5 168px,#565cae 174px,#5763b5 180px,#586abb 186px,#5971c1 192px,#5979c6 198px,#5a82cd 204px,#5a8dd2 210px,#5a9ad8 216px,#59aadd 222px,#58b4df 226px)"></i><i style="background:linear-gradient(90deg,#4c3f87 0px,#4b3f85 6px,#4b3e84 12px,#4b3d82 18px,#4a3c80 24px,#4a3b7f 30px,#493a7d 36px,#49397b 42px,#483979 48px,#483877 54px,#473775 60px,#473673 66px,#463571 72px,#46346f 78px,#45336d 84px,#45326c 90px,#45326b 96px,#44316a 102px,#443169 108px,#443068 114px,#443067 120px,#443068 126px,#44316a 132px,#45336d 138px,#473675 144px,#4a3c81 150px,#4d438d 156px,#504a99 162px,#5453a5 168px,#555bad 174px,#5762b4 180px,#5869ba 186px,#5970c0 192px,#5978c6 198px,#5a81cc 204px,#5a8cd2 210px,#5a9ad8 216px,#59a9dd 222px,#58b4e0 226px)"></i><i style="background:linear-gradient(90deg,#4e448e 0px,#4d438d 6px,#4d438c 12px,#4d428b 18px,#4c418a 24px,#4c4089 30px,#4c3f87 36px,#4b3e85 42px,#4b3d83 48px,#4a3c81 54px,#4a3b7f 60px,#493a7d 66px,#49397a 72px,#483878 78px,#473776 84px,#473674 90px,#473573 96px,#463571 102px,#46336f 108px,#45326d 114px,#45326c 120px,#45326c 126px,#45336d 132px,#463471 138px,#483877 144px,#4b3d82 150px,#4e448e 156px,#514a99 162px,#5452a4 168px,#555aac 174px,#5762b4 180px,#5868ba 186px,#596fbf 192px,#5977c5 198px,#5a80cc 204px,#5a8bd1 210px,#5a99d8 216px,#59a8dc 222px,#58b3e0 226px)"></i><i style="background:linear-gradient(90deg,#504895 0px,#4f4894 6px,#4f4793 12px,#4f4692 18px,#4e4591 24px,#4e4590 30px,#4e448e 36px,#4d438d 42px,#4d428b 48px,#4d418a 54px,#4c4089 60px,#4c3f87 66px,#4b3e84 72px,#4a3d82 78px,#4a3c7f 84px,#493a7d 90px,#493a7c 96px,#48397a 102px,#483777 108px,#473674 114px,#463572 120px,#463571 126px,#473572 132px,#473775 138px,#49397b 144px,#4b3e85 150px,#4e448f 156px,#514b99 162px,#5452a4 168px,#555aac 174px,#5761b3 180px,#5868ba 186px,#596fbf 192px,#5977c5 198px,#5a80cc 204px,#5a8bd1 210px,#5a99d7 216px,#59a8dc 222px,#58b3e0 226px)"></i><i style="background:linear-gradient(90deg,#524d9d 0px,#514c9c 6px,#514c9b 12px,#514b9a 18px,#504a98 24px,#504997 30px,#504896 36px,#4f4794 42px,#4f4793 48px,#4e4691 54px,#4e4590 60px,#4e448e 66px,#4d438c 72px,#4d428b 78px,#4c4089 84px,#4c3f87 90px,#4b3f85 96px,#4b3d83 102px,#4a3c7f 108px,#493a7c 114px,#483979 120px,#483878 126px,#483878 132px,#49397a 138px,#4a3b7f 144px,#4c4088 150px,#4e4591 156px,#514b9a 162px,#5452a4 168px,#555aac 174px,#5761b3 180px,#5868b9 186px,#596fbf 192px,#5976c4 198px,#5a7fcb 204px,#5a8ad1 210px,#5a98d7 216px,#59a8dc 222px,#58b3e0 226px)"></i><i style="background:linear-gradient(90deg,#5352a4 0px,#5351a3 6px,#5351a3 12px,#5350a2 18px,#534fa0 24px,#524e9f 30px,#524d9d 36px,#514c9c 42px,#514b9a 48px,#504a99 54px,#504997 60px,#504895 66px,#4f4793 72px,#4f4692 78px,#4e4590 84px,#4e448e 90px,#4d438d 96px,#4d428b 102px,#4c4088 108px,#4b3e84 114px,#4a3c81 120px,#4a3b7f 126px,#4a3b7e 132px,#4a3c7f 138px,#4b3e83 144px,#4d428b 150px,#4f4692 156px,#514c9c 162px,#5453a5 168px,#555aac 174px,#5761b3 180px,#5868b9 186px,#596ebe 192px,#5976c4 198px,#5a7fcb 204px,#5a8ad1 210px,#5a98d7 216px,#59a7dc 222px,#58b2e0 226px)"></i><i style="background:linear-gradient(90deg,#5557a9 0px,#5456a8 6px,#5455a7 12px,#5455a7 18px,#5454a6 24px,#5453a5 30px,#5352a4 36px,#5351a3 42px,#5350a2 48px,#534fa0 54px,#524e9f 60px,#524d9d 66px,#514c9b 72px,#514b99 78px,#504997 84px,#504895 90px,#4f4794 96px,#4f4692 102px,#4e448f 108px,#4d428b 114px,#4c4089 120px,#4c3f86 126px,#4b3f85 132px,#4b3f86 138px,#4c4088 144px,#4d438d 150px,#4f4895 156px,#524d9d 162px,#5453a5 168px,#555aac 174px,#5761b3 180px,#5868b9 186px,#596ebe 192px,#5976c4 198px,#5a7fcb 204px,#5a8ad1 210px,#5a98d7 216px,#59a7dc 222px,#58b2e0 226px)"></i><i style="background:linear-gradient(90deg,#565cae 0px,#565bad 6px,#555aac 12px,#555aac 18px,#5559ab 24px,#5558aa 30px,#5557a9 36px,#5456a8 42px,#5455a7 48px,#5454a6 54px,#5453a5 60px,#5352a4 66px,#5351a3 72px,#534fa1 78px,#524e9f 84px,#524d9d 90px,#514c9b 96px,#514a99 102px,#504895 108px,#4f4692 114px,#4e448f 120px,#4d438c 126px,#4d428b 132px,#4d428b 138px,#4d438c 144px,#4e4591 150px,#504997 156px,#524e9f 162px,#5454a6 168px,#555bad 174px,#5761b3 180px,#5868b9 186px,#596ebe 192px,#5976c4 198px,#5a7fcb 204px,#5a8ad1 210px,#5a98d7 216px,#59a7dc 222px,#58b2e0 226px)"></i><i style="background:linear-gradient(90deg,#5761b3 0px,#5760b2 6px,#5760b2 12px,#565fb1 18px,#565eb0 24px,#565daf 30px,#565cae 36px,#555bad 42px,#555aac 48px,#5559ab 54px,#5558aa 60px,#5456a8 66px,#5455a7 72px,#5454a6 78px,#5453a5 84px,#5351a3 90px,#5350a2 96px,#534fa0 102px,#524d9d 108px,#504a98 114px,#4f4895 120px,#4f4692 126px,#4e4590 132px,#4e4590 138px,#4e4590 144px,#4f4794 150px,#514b9a 156px,#5350a2 162px,#5455a7 168px,#565cae 174px,#5762b4 180px,#5868ba 186px,#596fbf 192px,#5976c4 198px,#5a7fcb 204px,#5a8ad1 210px,#5a98d7 216px,#59a7dc 222px,#58b3e0 226px)"></i><i style="background:linear-gradient(90deg,#5866b8 0px,#5866b8 6px,#5865b7 12px,#5864b6 18px,#5763b5 24px,#5762b4 30px,#5761b3 36px,#5760b2 42px,#565fb1 48px,#565eb0 54px,#565daf 60px,#565bad 66px,#555aac 72px,#5559ab 78px,#5558aa 84px,#5456a8 90px,#5455a7 96px,#5453a5 102px,#5351a3 108px,#524e9f 114px,#514c9b 120px,#504a98 126px,#504996 132px,#4f4895 138px,#504895 144px,#504a98 150px,#524d9e 156px,#5351a3 162px,#5456a8 168px,#565cae 174px,#5763b5 180px,#5869ba 186px,#596fbf 192px,#5977c5 198px,#5a7fcb 204px,#5a8bd1 210px,#5a98d7 216px,#59a8dc 222px,#58b3e0 226px)"></i><i style="background:linear-gradient(90deg,#586bbc 0px,#586bbc 6px,#586abb 12px,#5869ba 18px,#5868ba 24px,#5867b9 30px,#5866b8 36px,#5865b7 42px,#5864b6 48px,#5763b5 54px,#5762b4 60px,#5761b3 66px,#565fb1 72px,#565eb0 78px,#565daf 84px,#565bad 90px,#555aac 96px,#5558aa 102px,#5456a8 108px,#5453a5 114px,#5350a2 120px,#524e9f 126px,#514c9c 132px,#514b9a 138px,#514b9a 144px,#524d9d 150px,#5350a1 156px,#5453a5 162px,#5558aa 168px,#565eb0 174px,#5764b6 180px,#5869ba 186px,#5970bf 192px,#5977c5 198px,#5a80cc 204px,#5a8bd1 210px,#5a99d7 216px,#59a8dc 222px,#58b3e0 226px)"></i><i style="background:linear-gradient(90deg,#5971c0 0px,#5970c0 6px,#596fbf 12px,#596ebe 18px,#596dbe 24px,#586cbd 30px,#586bbc 36px,#586abb 42px,#5869bb 48px,#5868ba 54px,#5867b9 60px,#5866b8 66px,#5865b7 72px,#5763b5 78px,#5762b4 84px,#5760b2 90px,#565fb1 96px,#565daf 102px,#555aac 108px,#5557a9 114px,#5454a6 120px,#5352a4 126px,#5350a2 132px,#534fa0 138px,#524e9f 144px,#5350a1 150px,#5352a4 156px,#5455a7 162px,#5559ab 168px,#565fb1 174px,#5865b7 180px,#586abb 186px,#5970c0 192px,#5978c6 198px,#5a80cc 204px,#5a8bd1 210px,#5a99d8 216px,#59a8dc 222px,#58b3e0 226px)"></i><i style="background:linear-gradient(90deg,#5976c4 0px,#5975c4 6px,#5974c3 12px,#5974c2 18px,#5973c2 24px,#5972c1 30px,#5971c0 36px,#5970bf 42px,#596ebf 48px,#596dbe 54px,#586cbd 60px,#586bbc 66px,#586abb 72px,#5868ba 78px,#5867b9 84px,#5866b8 90px,#5864b6 96px,#5762b4 102px,#565fb1 108px,#565cae 114px,#5559ab 120px,#5456a8 126px,#5454a6 132px,#5453a5 138px,#5352a4 144px,#5453a5 150px,#5454a6 156px,#5557a9 162px,#565bad 168px,#5760b2 174px,#5866b8 180px,#586bbc 186px,#5971c1 192px,#5978c6 198px,#5a81cc 204px,#5a8cd2 210px,#5a9ad8 216px,#59a9dd 222px,#58b4e0 226px)"></i><i style="background:linear-gradient(90deg,#5a7cc9 0px,#5a7bc8 6px,#5a7ac7 12px,#5979c7 18px,#5978c6 24px,#5977c5 30px,#5976c4 36px,#5975c3 42px,#5974c3 48px,#5973c2 54px,#5971c1 60px,#5970c0 66px,#596fbf 72px,#596dbe 78px,#586cbd 84px,#586abb 90px,#5869ba 96px,#5867b9 102px,#5864b6 108px,#5761b3 114px,#565daf 120px,#555bad 126px,#5558aa 132px,#5456a8 138px,#5455a7 144px,#5456a8 150px,#5557a9 156px,#555aac 162px,#565daf 168px,#5762b4 174px,#5867b9 180px,#586cbd 186px,#5972c1 192px,#5979c7 198px,#5a82cd 204px,#5a8dd2 210px,#5a9ad8 216px,#59a9dd 222px,#58b4e0 226px)"></i><i style="background:linear-gradient(90deg,#5a81cd 0px,#5a80cc 6px,#5a80cc 12px,#5a7fcb 18px,#5a7eca 24px,#5a7dc9 30px,#5a7bc9 36px,#5a7ac8 42px,#5979c7 48px,#5978c6 54px,#5977c5 60px,#5975c4 66px,#5974c3 72px,#5973c2 78px,#5971c1 84px,#5970bf 90px,#596ebe 96px,#586cbd 102px,#5869ba 108px,#5866b8 114px,#5762b4 120px,#565fb1 126px,#565cae 132px,#555aac 138px,#5559ab 144px,#5559ab 150px,#555aac 156px,#565cae 162px,#565fb1 168px,#5764b6 174px,#5868ba 180px,#596dbe 186px,#5973c2 192px,#5a7ac7 198px,#5a83cd 204px,#5a8dd2 210px,#5a9bd8 216px,#59aadd 222px,#58b5df 226px)"></i><i style="background:linear-gradient(90deg,#5a87cf 0px,#5a86cf 6px,#5a85ce 12px,#5a84ce 18px,#5a83ce 24px,#5a82cd 30px,#5a81cd 36px,#5a80cc 42px,#5a7fcb 48px,#5a7eca 54px,#5a7cc9 60px,#5a7bc8 66px,#5a7ac7 72px,#5978c6 78px,#5976c5 84px,#5975c3 90px,#5973c2 96px,#5971c0 102px,#596ebe 108px,#586abb 114px,#5867b9 120px,#5864b6 126px,#5761b3 132px,#565eb0 138px,#565daf 144px,#565cae 150px,#565daf 156px,#565fb1 162px,#5762b4 168px,#5866b8 174px,#586abb 180px,#596fbf 186px,#5974c3 192px,#5a7bc8 198px,#5a84ce 204px,#5a8ed3 210px,#5a9cd9 216px,#59abdd 222px,#58b5de 226px)"></i><i style="background:linear-gradient(90deg,#5a8dd2 0px,#5a8cd2 6px,#5a8bd1 12px,#5a8ad1 18px,#5a89d0 24px,#5a88d0 30px,#5a87cf 36px,#5a86cf 42px,#5a85ce 48px,#5a83ce 54px,#5a82cd 60px,#5a81cc 66px,#5a7fcb 72px,#5a7eca 78px,#5a7cc9 84px,#5a7ac7 90px,#5978c6 96px,#5976c4 102px,#5973c2 108px,#596fbf 114px,#586cbc 120px,#5869ba 126px,#5866b8 132px,#5763b5 138px,#5761b3 144px,#5760b2 150px,#5761b3 156px,#5762b4 162px,#5864b6 168px,#5868b9 174px,#586cbc 180px,#5970c0 186px,#5976c4 192px,#5a7cc9 198px,#5a85ce 204px,#5a8fd3 210px,#5a9dd9 216px,#59abdd 222px,#59b5dd 226px)"></i><i style="background:linear-gradient(90deg,#5a93d5 0px,#5a92d4 6px,#5a91d4 12px,#5a90d4 18px,#5a8fd3 24px,#5a8ed3 30px,#5a8dd2 36px,#5a8cd1 42px,#5a8ad1 48px,#5a89d0 54px,#5a88d0 60px,#5a86cf 66px,#5a85ce 72px,#5a83cd 78px,#5a81cd 84px,#5a80cc 90px,#5a7eca 96px,#5a7cc9 102px,#5978c6 108px,#5974c3 114px,#5970c0 120px,#596dbd 126px,#586abb 132px,#5867b9 138px,#5865b7 144px,#5864b6 150px,#5864b6 156px,#5865b7 162px,#5867b9 168px,#586abb 174px,#596dbe 180px,#5972c1 186px,#5977c5 192px,#5a7eca 198px,#5a86cf 204px,#5a90d4 210px,#5a9ed9 216px,#59acde 222px,#59b6dc 226px)"></i><i style="background:linear-gradient(90deg,#5a99d8 0px,#5a99d7 6px,#5a98d7 12px,#5a97d6 18px,#5a95d6 24px,#5a94d5 30px,#5a93d5 36px,#5a92d4 42px,#5a90d4 48px,#5a8fd3 54px,#5a8ed2 60px,#5a8cd2 66px,#5a8bd1 72px,#5a89d0 78px,#5a87cf 84px,#5a85ce 90px,#5a83ce 96px,#5a81cc 102px,#5a7dca 108px,#5979c7 114px,#5975c4 120px,#5972c1 126px,#596ebe 132px,#586bbc 138px,#5869ba 144px,#5868b9 150px,#5868b9 156px,#5868ba 162px,#5869ba 168px,#586cbc 174px,#596fbf 180px,#5973c2 186px,#5979c6 192px,#5a7fcb 198px,#5a87cf 204px,#5a92d4 210px,#5a9fd9 216px,#59adde 222px,#59b6db 226px)"></i><i style="background:linear-gradient(90deg,#5aa0da 0px,#5a9fda 6px,#5a9ed9 12px,#5a9dd9 18px,#5a9cd9 24px,#5a9bd8 30px,#5a99d8 36px,#5a98d7 42px,#5a97d6 48px,#5a95d6 54px,#5a94d5 60px,#5a92d4 66px,#5a91d4 72px,#5a8fd3 78px,#5a8dd2 84px,#5a8bd1 90px,#5a89d0 96px,#5a87cf 102px,#5a83cd 108px,#5a7fcb 114px,#5a7bc8 120px,#5977c5 126px,#5973c2 132px,#5970c0 138px,#596dbe 144px,#586cbc 150px,#586bbc 156px,#586bbc 162px,#586cbd 168px,#596ebe 174px,#5971c1 180px,#5975c4 186px,#5a7ac8 192px,#5a81cc 198px,#5a89d0 204px,#5a93d5 210px,#5aa0da 216px,#58aede 222px,#5ab7da 226px)"></i><i style="background:linear-gradient(90deg,#59a7dc 0px,#59a6dc 6px,#59a5db 12px,#59a4db 18px,#59a3db 24px,#59a1da 30px,#5aa0da 36px,#5a9ed9 42px,#5a9dd9 48px,#5a9cd8 54px,#5a9ad8 60px,#5a98d7 66px,#5a97d7 72px,#5a95d6 78px,#5a93d5 84px,#5a91d4 90px,#5a8fd3 96px,#5a8cd2 102px,#5a89d0 108px,#5a84ce 114px,#5a80cc 120px,#5a7cc9 126px,#5978c6 132px,#5974c3 138px,#5972c1 144px,#5970bf 150px,#596fbf 156px,#596ebf 162px,#596fbf 168px,#5971c0 174px,#5974c3 180px,#5977c5 186px,#5a7cc9 192px,#5a82cd 198px,#5a8ad1 204px,#5a94d5 210px,#59a1da 216px,#58afdf 222px,#5ab7d9 226px)"></i><i style="background:linear-gradient(90deg,#58aede 0px,#59adde 6px,#59acdd 12px,#59abdd 18px,#59a9dd 24px,#59a8dc 30px,#59a7dc 36px,#59a5db 42px,#59a4db 48px,#59a2db 54px,#59a1da 60px,#5a9fda 66px,#5a9dd9 72px,#5a9bd8 78px,#5a99d8 84px,#5a97d7 90px,#5a95d6 96px,#5a92d4 102px,#5a8ed3 108px,#5a8ad0 114px,#5a85ce 120px,#5a81cc 126px,#5a7dca 132px,#5979c7 138px,#5976c4 144px,#5974c3 150px,#5973c2 156px,#5972c1 162px,#5972c1 168px,#5973c2 174px,#5976c4 180px,#5979c7 186px,#5a7ecb 192px,#5a84ce 198px,#5a8cd1 204px,#5a96d6 210px,#59a2db 216px,#58b1df 222px,#5ab8d7 226px)"></i><i style="background:linear-gradient(90deg,#58b5df 0px,#58b4e0 6px,#58b3e0 12px,#58b2df 18px,#58b0df 24px,#58afde 30px,#58aede 36px,#59acde 42px,#59abdd 48px,#59a9dd 54px,#59a8dc 60px,#59a6dc 66px,#59a4db 72px,#59a2da 78px,#5aa0da 84px,#5a9ed9 90px,#5a9bd8 96px,#5a98d7 102px,#5a94d5 108px,#5a8fd3 114px,#5a8bd1 120px,#5a86cf 126px,#5a82cd 132px,#5a7eca 138px,#5a7bc8 144px,#5978c6 150px,#5976c5 156px,#5975c4 162px,#5975c4 168px,#5976c4 174px,#5979c6 180px,#5a7cc9 186px,#5a80cc 192px,#5a86cf 198px,#5a8dd2 204px,#5a97d7 210px,#59a4db 216px,#58b2df 222px,#5bb9d6 226px)"></i><i style="background:linear-gradient(90deg,#5bb9d6 0px,#5ab8d7 6px,#5ab7d8 12px,#59b7da 18px,#59b6dc 24px,#59b5dd 30px,#58b4df 36px,#58b3e0 42px,#58b2df 48px,#58b0df 54px,#58aede 60px,#59adde 66px,#59abdd 72px,#59a9dd 78px,#59a7dc 84px,#59a4db 90px,#59a2da 96px,#5a9fd9 102px,#5a9ad8 108px,#5a95d6 114px,#5a90d4 120px,#5a8cd1 126px,#5a87cf 132px,#5a83cd 138px,#5a7fcb 144px,#5a7cc9 150px,#5a7bc8 156px,#5979c7 162px,#5978c6 168px,#5979c7 174px,#5a7bc8 180px,#5a7ecb 186px,#5a83cd 192px,#5a88d0 198px,#5a8fd3 204px,#5a99d7 210px,#59a5dc 216px,#58b3e0 222px,#5bb9d4 226px)"></i><i style="background:linear-gradient(90deg,#5dbdcd 0px,#5dbcce 6px,#5cbccf 12px,#5cbbd1 18px,#5bbad3 24px,#5bb9d4 30px,#5ab8d6 36px,#5ab8d8 42px,#59b7da 48px,#59b6dc 54px,#58b5de 60px,#58b4e0 66px,#58b2df 72px,#58b0df 78px,#58aede 84px,#59abdd 90px,#59a9dc 96px,#59a5db 102px,#59a1da 108px,#5a9bd8 114px,#5a96d6 120px,#5a91d4 126px,#5a8dd2 132px,#5a88d0 138px,#5a84ce 144px,#5a81cc 150px,#5a7fcb 156px,#5a7dca 162px,#5a7cc9 168px,#5a7cc9 174px,#5a7ecb 180px,#5a81cc 186px,#5a85ce 192px,#5a8ad1 198px,#5a91d4 204px,#5a9bd8 210px,#59a7dc 216px,#58b4df 222px,#5bbad3 226px)"></i><i style="background:linear-gradient(90deg,#60c0c2 0px,#5fbfc4 6px,#5fbfc6 12px,#5ebfc8 18px,#5ebec9 24px,#5dbecb 30px,#5dbdcd 36px,#5cbccf 42px,#5cbbd1 48px,#5bbad3 54px,#5bb9d5 60px,#5ab8d7 66px,#5ab7da 72px,#59b6dd 78px,#58b4df 84px,#58b2df 90px,#58afdf 96px,#59acde 102px,#59a7dc 108px,#59a2da 114px,#5a9cd9 120px,#5a97d7 126px,#5a92d4 132px,#5a8dd2 138px,#5a89d0 144px,#5a86cf 150px,#5a83cd 156px,#5a81cc 162px,#5a7fcc 168px,#5a7fcb 174px,#5a81cc 180px,#5a83ce 186px,#5a87cf 192px,#5a8dd2 198px,#5a93d5 204px,#5a9dd9 210px,#59a9dd 216px,#59b5dd 222px,#5cbbd1 226px)"></i><i style="background:linear-gradient(90deg,#64c1b5 0px,#63c1b7 6px,#63c1b9 12px,#62c0bb 18px,#61c0be 24px,#60c0c0 30px,#60c0c2 36px,#5fbfc5 42px,#5ebfc8 48px,#5ebeca 54px,#5dbdcc 60px,#5cbcce 66px,#5cbbd1 72px,#5bbad4 78px,#5ab8d6 84px,#5ab7da 90px,#59b5dd 96px,#58b3e0 102px,#58aede 108px,#59a8dc 114px,#59a3db 120px,#5a9dd9 126px,#5a98d7 132px,#5a93d5 138px,#5a8ed3 144px,#5a8bd1 150px,#5a88d0 156px,#5a85ce 162px,#5a83cd 168px,#5a83cd 174px,#5a84ce 180px,#5a86cf 186px,#5a8ad1 192px,#5a8fd3 198px,#5a95d6 204px,#5a9fd9 210px,#59abdd 216px,#59b6db 222px,#5cbccf 226px)"></i><i style="background:linear-gradient(90deg,#68c2a9 0px,#67c2aa 6px,#66c2ac 12px,#66c2af 18px,#65c2b1 24px,#64c1b3 30px,#63c1b6 36px,#63c1b9 42px,#62c0bb 48px,#61c0be 54px,#60c0c1 60px,#5fbfc4 66px,#5ebfc8 72px,#5dbecb 78px,#5dbccd 84px,#5cbbd1 90px,#5bb9d4 96px,#5ab7d9 102px,#58b4df 108px,#58afde 114px,#59a9dd 120px,#59a3db 126px,#5a9ed9 132px,#5a98d7 138px,#5a94d5 144px,#5a90d3 150px,#5a8cd2 156px,#5a8ad0 162px,#5a87cf 168px,#5a86cf 174px,#5a87cf 180px,#5a89d0 186px,#5a8dd2 192px,#5a91d4 198px,#5a98d7 204px,#59a1da 210px,#59acde 216px,#5ab7d9 222px,#5dbdcd 226px)"></i><i style="background:linear-gradient(90deg,#6bc49c 0px,#6bc49e 6px,#6ac3a0 12px,#6ac3a2 18px,#69c3a4 24px,#68c3a7 30px,#67c2a9 36px,#66c2ac 42px,#66c2af 48px,#65c1b2 54px,#64c1b5 60px,#63c1b8 66px,#62c0bb 72px,#61c0bf 78px,#5fc0c3 84px,#5ebfc8 90px,#5dbdcb 96px,#5cbbd0 102px,#5ab8d6 108px,#59b5de 114px,#58b0df 120px,#59aadd 126px,#59a4db 132px,#5a9ed9 138px,#5a99d8 144px,#5a95d6 150px,#5a91d4 156px,#5a8ed2 162px,#5a8bd1 168px,#5a8ad0 174px,#5a8bd1 180px,#5a8cd2 186px,#5a8fd3 192px,#5a94d5 198px,#5a9ad8 204px,#59a3db 210px,#58aede 216px,#5ab8d7 222px,#5dbdcb 226px)"></i><i style="background:linear-gradient(90deg,#72c590 0px,#71c592 6px,#70c594 12px,#6fc596 18px,#6dc498 24px,#6cc49a 30px,#6bc49d 36px,#6ac39f 42px,#6ac3a2 48px,#69c3a5 54px,#68c2a8 60px,#67c2ab 66px,#66c2af 72px,#64c1b3 78px,#63c1b7 84px,#62c0bb 90px,#60c0c0 96px,#5ebfc7 102px,#5dbcce 108px,#5bb9d5 114px,#59b5dd 120px,#58b0df 126px,#59aadd 132px,#59a4db 138px,#5a9fd9 144px,#5a9ad8 150px,#5a96d6 156px,#5a92d5 162px,#5a8fd3 168px,#5a8dd2 174px,#5a8ed2 180px,#5a8fd3 186px,#5a92d4 192px,#5a97d6 198px,#5a9dd9 204px,#59a5db 210px,#58b0df 216px,#5bb9d5 222px,#5ebec9 226px)"></i><i style="background:linear-gradient(90deg,#78c685 0px,#77c687 6px,#76c689 12px,#75c68a 18px,#74c68d 24px,#73c58f 30px,#71c591 36px,#70c594 42px,#6ec496 48px,#6dc499 54px,#6cc49b 60px,#6bc39f 66px,#69c3a2 72px,#68c3a6 78px,#67c2aa 84px,#66c2af 90px,#64c1b4 96px,#62c0bb 102px,#5fbfc4 108px,#5dbdcd 114px,#5bb9d5 120px,#59b6dc 126px,#58b1df 132px,#59aadd 138px,#59a5db 144px,#5a9fda 150px,#5a9bd8 156px,#5a97d7 162px,#5a93d5 168px,#5a91d4 174px,#5a91d4 180px,#5a92d5 186px,#5a95d6 192px,#5a99d8 198px,#5a9fda 204px,#59a8dc 210px,#58b2e0 216px,#5bbad3 222px,#5ebfc7 226px)"></i><i style="background:linear-gradient(90deg,#7fc87a 0px,#7ec87b 6px,#7dc77d 12px,#7cc77f 18px,#7bc781 24px,#79c784 30px,#78c686 36px,#76c688 42px,#75c68b 48px,#73c58d 54px,#72c590 60px,#70c593 66px,#6ec496 72px,#6cc49a 78px,#6bc49e 84px,#69c3a2 90px,#68c3a8 96px,#66c2ae 102px,#63c1b7 108px,#60c0c2 114px,#5dbdcc 120px,#5bbad4 126px,#59b6dc 132px,#58b1df 138px,#59abdd 144px,#59a5db 150px,#5aa0da 156px,#5a9cd9 162px,#5a98d7 168px,#5a95d6 174px,#5a95d6 180px,#5a96d6 186px,#5a98d7 192px,#5a9cd9 198px,#59a2da 204px,#59aadd 210px,#58b4df 216px,#5cbbd0 222px,#5fbfc4 226px)"></i><i style="background:linear-gradient(90deg,#85c973 0px,#84c973 6px,#83c875 12px,#82c876 18px,#81c877 24px,#80c878 30px,#7fc87b 36px,#7dc77d 42px,#7cc780 48px,#7ac782 54px,#78c685 60px,#77c688 66px,#75c68b 72px,#73c58e 78px,#71c592 84px,#6ec496 90px,#6cc49b 96px,#6ac3a2 102px,#67c2ab 108px,#63c1b6 114px,#60c0c2 120px,#5dbdcb 126px,#5bbad4 132px,#59b6dc 138px,#58b1df 144px,#59abdd 150px,#59a6dc 156px,#59a1da 162px,#5a9cd9 168px,#5a99d8 174px,#5a99d7 180px,#5a99d8 186px,#5a9cd9 192px,#5a9fda 198px,#59a5db 204px,#59adde 210px,#59b6dc 216px,#5dbcce 222px,#60c0c1 226px)"></i><i style="background:linear-gradient(90deg,#8aca6c 0px,#89ca6d 6px,#88c96e 12px,#88c96f 18px,#86c970 24px,#85c972 30px,#84c973 36px,#83c974 42px,#82c876 48px,#81c877 54px,#7fc87a 60px,#7dc77d 66px,#7bc780 72px,#79c783 78px,#77c687 84px,#75c68b 90px,#72c590 96px,#6ec496 102px,#6ac39f 108px,#67c2aa 114px,#64c1b6 120px,#60c0c1 126px,#5dbdcb 132px,#5bb9d4 138px,#59b6dc 144px,#58b1df 150px,#59acdd 156px,#59a6dc 162px,#59a1da 168px,#5a9ed9 174px,#5a9dd9 180px,#5a9dd9 186px,#5a9fda 192px,#59a3db 198px,#59a8dc 204px,#58afdf 210px,#5ab7da 216px,#5dbecb 222px,#61c0be 226px)"></i><i style="background:linear-gradient(90deg,#90cb66 0px,#8fca67 6px,#8eca68 12px,#8dca69 18px,#8cca6a 24px,#8bca6b 30px,#8aca6d 36px,#89c96e 42px,#87c970 48px,#86c971 54px,#85c973 60px,#83c974 66px,#82c876 72px,#80c878 78px,#7ec87c 84px,#7bc780 90px,#78c685 96px,#75c68b 102px,#70c594 108px,#6bc49e 114px,#67c2aa 120px,#64c1b5 126px,#60c0c1 132px,#5dbdcc 138px,#5bb9d4 144px,#59b6dc 150px,#58b1df 156px,#59acdd 162px,#59a6dc 168px,#59a2db 174px,#59a1da 180px,#59a1da 186px,#59a3db 192px,#59a6dc 198px,#59abdd 204px,#58b2df 210px,#5ab8d7 216px,#5ebfc9 222px,#62c0bb 226px)"></i><i style="background:linear-gradient(90deg,#95cc5f 0px,#94cb60 6px,#94cb61 12px,#93cb62 18px,#92cb64 24px,#90cb65 30px,#8fcb66 36px,#8eca68 42px,#8dca69 48px,#8bca6b 54px,#8aca6c 60px,#89c96e 66px,#87c970 72px,#85c972 78px,#84c974 84px,#81c876 90px,#7fc87a 96px,#7bc780 102px,#76c689 108px,#70c593 114px,#6bc49e 120px,#67c2a9 126px,#64c1b6 132px,#60c0c2 138px,#5dbdcc 144px,#5bb9d4 150px,#59b6dc 156px,#58b1df 162px,#59abdd 168px,#59a7dc 174px,#59a5db 180px,#59a5db 186px,#59a6dc 192px,#59a9dd 198px,#58aede 204px,#58b4df 210px,#5bbad3 216px,#5fbfc5 222px,#63c1b7 226px)"></i><i style="background:linear-gradient(90deg,#9bcd5b 0px,#9acd5b 6px,#99cc5c 12px,#98cc5c 18px,#97cc5d 24px,#96cc5e 30px,#95cb60 36px,#94cb61 42px,#92cb63 48px,#91cb64 54px,#90cb66 60px,#8eca68 66px,#8dca69 72px,#8bca6b 78px,#89c96e 84px,#87c970 90px,#84c973 96px,#81c876 102px,#7dc77e 108px,#77c688 114px,#70c593 120px,#6bc49d 126px,#67c2aa 132px,#63c1b7 138px,#60c0c3 144px,#5dbdcd 150px,#5bb9d5 156px,#59b6dc 162px,#58b0df 168px,#59abdd 174px,#59aadd 180px,#59a9dd 186px,#59aadd 192px,#59adde 198px,#58b1df 204px,#59b6dc 210px,#5cbbd0 216px,#60c0c2 222px,#64c1b4 226px)"></i><i style="background:linear-gradient(90deg,#a0cf58 0px,#9fce59 6px,#9ece59 12px,#9dce59 18px,#9ccd5a 24px,#9bcd5a 30px,#9acd5b 36px,#99cc5c 42px,#98cc5c 48px,#96cc5e 54px,#95cc5f 60px,#94cb61 66px,#92cb63 72px,#90cb65 78px,#8eca67 84px,#8cca6a 90px,#8aca6d 96px,#87c970 102px,#83c875 108px,#7dc77d 114px,#77c688 120px,#70c593 126px,#6bc49e 132px,#67c2ab 138px,#63c1b8 144px,#5fbfc4 150px,#5dbdcd 156px,#5bb9d5 162px,#58b5de 168px,#58b0df 174px,#58aede 180px,#59adde 186px,#58aede 192px,#58b0df 198px,#58b4e0 204px,#5ab8d8 210px,#5dbdcd 216px,#61c0be 222px,#65c2b1 226px)"></i><i style="background:linear-gradient(90deg,#a5d056 0px,#a4d056 6px,#a3d056 12px,#a2cf57 18px,#a1cf57 24px,#a0cf58 30px,#9fce58 36px,#9ece59 42px,#9dce5a 48px,#9ccd5a 54px,#9acd5b 60px,#99cc5b 66px,#97cc5d 72px,#96cc5f 78px,#94cb61 84px,#92cb63 90px,#8fcb66 96px,#8cca6a 102px,#88c96f 108px,#83c875 114px,#7dc77d 120px,#77c688 126px,#70c593 132px,#6ac3a0 138px,#66c2ac 144px,#63c1b9 150px,#5fbfc5 156px,#5cbcce 162px,#5ab8d8 168px,#58b5de 174px,#58b3e0 180px,#58b1df 186px,#58b2df 192px,#58b4e0 198px,#59b6dc 204px,#5bb9d4 210px,#5ebeca 216px,#62c1ba 222px,#66c2ad 226px)"></i><i style="background:linear-gradient(90deg,#aad253 0px,#a9d253 6px,#a8d154 12px,#a7d154 18px,#a6d155 24px,#a5d055 30px,#a4d056 36px,#a3d056 42px,#a2cf57 48px,#a1cf58 54px,#9fce58 60px,#9ece59 66px,#9dce5a 72px,#9bcd5b 78px,#99cc5b 84px,#97cc5d 90px,#95cb60 96px,#91cb64 102px,#8dca69 108px,#88c96f 114px,#83c875 120px,#7dc77d 126px,#76c689 132px,#6fc595 138px,#6ac3a1 144px,#66c2ae 150px,#62c0ba 156px,#5ebfc7 162px,#5cbbd1 168px,#5ab8d8 174px,#59b6dc 180px,#58b5de 186px,#59b5de 192px,#59b6db 198px,#5ab8d7 204px,#5cbbd0 210px,#5fbfc6 216px,#63c1b6 222px,#67c2aa 226px)"></i><i style="background:linear-gradient(90deg,#afd450 0px,#aed351 6px,#add351 12px,#add352 18px,#acd352 24px,#abd253 30px,#a9d253 36px,#a8d154 42px,#a7d154 48px,#a6d155 54px,#a5d056 60px,#a3d056 66px,#a2cf57 72px,#a0cf58 78px,#9ece59 84px,#9ccd5a 90px,#9acd5b 96px,#97cc5d 102px,#92cb63 108px,#8dca69 114px,#88c96f 120px,#83c875 126px,#7cc77e 132px,#75c68a 138px,#6ec496 144px,#69c3a3 150px,#65c2b0 156px,#61c0bd 162px,#5ebeca 168px,#5cbad2 174px,#5ab9d6 180px,#5ab7d9 186px,#5ab7d8 192px,#5ab8d7 198px,#5bbad3 204px,#5dbdcc 210px,#60c0c1 216px,#65c1b2 222px,#68c3a6 226px)"></i><i style="background:linear-gradient(90deg,#b6d650 0px,#b5d650 6px,#b4d550 12px,#b3d550 18px,#b1d450 24px,#b0d450 30px,#afd451 36px,#add351 42px,#acd352 48px,#abd253 54px,#aad253 60px,#a8d154 66px,#a7d155 72px,#a5d055 78px,#a3d056 84px,#a1cf57 90px,#9fce59 96px,#9ccd5a 102px,#98cc5c 108px,#93cb62 114px,#8dca69 120px,#88c96f 126px,#82c876 132px,#7bc780 138px,#74c68c 144px,#6dc498 150px,#69c3a5 156px,#65c1b3 162px,#60c0c1 168px,#5dbdcb 174px,#5cbbd0 180px,#5bbad3 186px,#5bbad3 192px,#5cbad2 198px,#5cbccf 204px,#5ebfc9 210px,#61c0bd 216px,#66c2ae 222px,#6ac3a2 226px)"></i><i style="background:linear-gradient(90deg,#bed950 0px,#bdd850 6px,#bbd850 12px,#bad750 18px,#b9d750 24px,#b7d650 30px,#b5d650 36px,#b4d550 42px,#b2d550 48px,#b0d450 54px,#afd451 60px,#add351 66px,#acd352 72px,#aad253 78px,#a8d154 84px,#a6d155 90px,#a4d056 96px,#a1cf58 102px,#9dce5a 108px,#98cc5c 114px,#92cb63 120px,#8dca69 126px,#87c970 132px,#81c877 138px,#7ac782 144px,#73c58f 150px,#6cc49b 156px,#68c2a8 162px,#63c1b8 168px,#5fbfc4 174px,#5ebeca 180px,#5dbdcd 186px,#5dbcce 192px,#5dbdcd 198px,#5dbeca 204px,#5fc0c3 210px,#63c1b8 216px,#67c2aa 222px,#6bc49e 226px)"></i><i style="background:linear-gradient(90deg,#c5db50 0px,#c4db50 6px,#c3da50 12px,#c2da50 18px,#c0d950 24px,#bfd950 30px,#bdd850 36px,#bbd850 42px,#b9d750 48px,#b8d750 54px,#b6d650 60px,#b4d550 66px,#b1d450 72px,#afd450 78px,#add351 84px,#abd252 90px,#a9d254 96px,#a6d155 102px,#a2cf57 108px,#9dce5a 114px,#98cc5c 120px,#92cb63 126px,#8cca6a 132px,#86c971 138px,#80c878 144px,#78c685 150px,#71c591 156px,#6bc49e 162px,#66c2ae 168px,#62c0bb 174px,#60c0c2 180px,#5ebfc7 186px,#5ebfc9 192px,#5ebfc8 198px,#5fbfc5 204px,#61c0be 210px,#64c1b3 216px,#68c3a6 222px,#6cc49b 226px)"></i><i style="background:linear-gradient(90deg,#cdda50 0px,#cbdb50 6px,#cadb50 12px,#c9dc50 18px,#c8dc50 24px,#c6db50 30px,#c5db50 36px,#c3da50 42px,#c1da50 48px,#bfd950 54px,#bdd850 60px,#bbd850 66px,#b9d750 72px,#b6d650 78px,#b4d550 84px,#b0d450 90px,#aed351 96px,#abd253 102px,#a7d155 108px,#a2cf57 114px,#9ccd5a 120px,#97cc5d 126px,#91cb64 132px,#8bca6b 138px,#85c972 144px,#7ec87b 150px,#77c688 156px,#6fc595 162px,#69c3a5 168px,#65c1b2 174px,#62c1ba 180px,#61c0c0 186px,#60c0c1 192px,#60c0c1 198px,#61c0bf 204px,#63c1b8 210px,#66c2ae 216px,#6ac3a1 222px,#6ec497 226px)"></i><i style="background:linear-gradient(90deg,#d3d750 0px,#d2d850 6px,#d1d850 12px,#d0d950 18px,#ced950 24px,#cdda50 30px,#ccdb50 36px,#cadb50 42px,#c8dc50 48px,#c7dc50 54px,#c5db50 60px,#c3da50 66px,#c0d950 72px,#bed950 78px,#bbd850 84px,#b8d750 90px,#b4d550 96px,#b0d450 102px,#abd252 108px,#a7d155 114px,#a1cf57 120px,#9ccd5a 126px,#96cc5e 132px,#90cb65 138px,#8aca6d 144px,#83c974 150px,#7cc77e 156px,#74c68c 162px,#6cc49b 168px,#67c2a9 174px,#65c1b1 180px,#63c1b8 186px,#62c1ba 192px,#62c0ba 198px,#63c1b8 204px,#65c1b3 210px,#67c2a9 216px,#6bc49d 222px,#70c594 226px)"></i><i style="background:linear-gradient(90deg,#dad550 0px,#d9d550 6px,#d8d550 12px,#d6d650 18px,#d5d750 24px,#d4d750 30px,#d2d850 36px,#d1d850 42px,#cfd950 48px,#cdda50 54px,#ccda50 60px,#cadb50 66px,#c8dc50 72px,#c5db50 78px,#c2da50 84px,#bfd950 90px,#bbd850 96px,#b7d650 102px,#b1d450 108px,#abd252 114px,#a6d155 120px,#a1cf58 126px,#9bcd5a 132px,#95cb60 138px,#8fca67 144px,#88c96f 150px,#82c876 156px,#7ac782 162px,#71c592 168px,#6ac3a0 174px,#68c2a9 180px,#65c2b0 186px,#65c1b3 192px,#64c1b3 198px,#65c1b2 204px,#66c2ad 210px,#69c3a4 216px,#6dc499 222px,#72c590 226px)"></i><i style="background:linear-gradient(90deg,#e0d250 0px,#dfd250 6px,#ded350 12px,#ddd350 18px,#dcd450 24px,#dad450 30px,#d9d550 36px,#d7d650 42px,#d6d650 48px,#d4d750 54px,#d2d850 60px,#d0d850 66px,#ced950 72px,#ccda50 78px,#cadb50 84px,#c7dc50 90px,#c3da50 96px,#bed950 102px,#b8d750 108px,#b0d450 114px,#abd252 120px,#a6d155 126px,#a0cf58 132px,#9acd5b 138px,#94cb61 144px,#8dca69 150px,#86c971 156px,#7fc879 162px,#76c68a 168px,#6ec497 174px,#6ac3a0 180px,#68c3a8 186px,#67c2ab 192px,#66c2ac 198px,#67c2ac 204px,#68c3a7 210px,#6ac39f 216px,#6fc595 222px,#74c68d 226px)"></i><i style="background:linear-gradient(90deg,#e5cd4f 0px,#e4ce4f 6px,#e4ce4f 12px,#e3cf4f 18px,#e2d050 24px,#e1d150 30px,#dfd250 36px,#ded350 42px,#dcd450 48px,#dbd450 54px,#d9d550 60px,#d7d650 66px,#d5d750 72px,#d3d850 78px,#d0d950 84px,#cdda50 90px,#cadb50 96px,#c5db50 102px,#bfd950 108px,#b8d750 114px,#b0d450 120px,#aad253 126px,#a5d056 132px,#9ece59 138px,#98cc5c 144px,#92cb63 150px,#8bca6b 156px,#84c974 162px,#7bc781 168px,#73c58f 174px,#6dc498 180px,#6ac39f 186px,#69c3a3 192px,#69c3a5 198px,#69c3a5 204px,#6ac3a1 210px,#6cc49a 216px,#71c591 222px,#76c689 226px)"></i><i style="background:linear-gradient(90deg,#eac84e 0px,#e9c94e 6px,#e8ca4e 12px,#e8ca4e 18px,#e7cb4f 24px,#e6cc4f 30px,#e4ce4f 36px,#e3cf4f 42px,#e2d050 48px,#e1d150 54px,#dfd250 60px,#ded350 66px,#dcd450 72px,#d9d550 78px,#d7d650 84px,#d4d750 90px,#d0d950 96px,#ccda50 102px,#c6db50 108px,#bfd950 114px,#b7d650 120px,#afd450 126px,#a9d253 132px,#a3d056 138px,#9dce5a 144px,#96cc5e 150px,#8fcb66 156px,#88c96e 162px,#80c878 168px,#77c687 174px,#72c590 180px,#6ec497 186px,#6cc49c 192px,#6bc49e 198px,#6bc49f 204px,#6cc49b 210px,#6fc596 216px,#74c68d 222px,#78c685 226px)"></i><i style="background:linear-gradient(90deg,#efc34d 0px,#eec44d 6px,#edc54d 12px,#ecc64d 18px,#ebc74d 24px,#eac84e 30px,#e9c94e 36px,#e8ca4e 42px,#e7cb4e 48px,#e6cc4f 54px,#e4ce4f 60px,#e3cf4f 66px,#e1d150 72px,#e0d250 78px,#ddd350 84px,#dad450 90px,#d7d650 96px,#d3d850 102px,#cdda50 108px,#c6db50 114px,#bed950 120px,#b6d650 126px,#aed351 132px,#a8d154 138px,#a1cf57 144px,#9bcd5b 150px,#94cb61 156px,#8dca69 162px,#84c973 168px,#7cc77e 174px,#76c688 180px,#72c590 186px,#6fc595 192px,#6ec497 198px,#6dc498 204px,#6ec496 210px,#71c591 216px,#76c689 222px,#7ac782 226px)"></i><i style="background:linear-gradient(90deg,#f2be4b 0px,#f2bf4c 6px,#f2c04c 12px,#f1c14c 18px,#f0c24c 24px,#efc34d 30px,#eec44d 36px,#edc54d 42px,#ecc64d 48px,#eac84e 54px,#e9c94e 60px,#e8ca4e 66px,#e6cc4f 72px,#e5cd4f 78px,#e3cf4f 84px,#e1d150 90px,#ddd350 96px,#d9d550 102px,#d3d750 108px,#cdda50 114px,#c5db50 120px,#bdd850 126px,#b4d550 132px,#acd352 138px,#a6d155 144px,#9fce58 150px,#99cc5c 156px,#91cb64 162px,#88c96e 168px,#81c877 174px,#7bc780 180px,#76c689 186px,#73c58e 192px,#71c591 198px,#70c592 204px,#71c591 210px,#74c68d 216px,#78c685 222px,#7cc77e 226px)"></i><i style="background:linear-gradient(90deg,#f3b649 0px,#f3b849 6px,#f3b949 12px,#f3ba4a 18px,#f2bc4a 24px,#f2bd4b 30px,#f2bf4c 36px,#f2c04c 42px,#f0c24c 48px,#efc34d 54px,#eec44d 60px,#edc54d 66px,#ebc74e 72px,#e9c94e 78px,#e7cb4e 84px,#e5cd4f 90px,#e3cf4f 96px,#dfd250 102px,#dad550 108px,#d3d750 114px,#ccda50 120px,#c4db50 126px,#bbd850 132px,#b1d450 138px,#abd253 144px,#a4d056 150px,#9dce5a 156px,#96cc5f 162px,#8dca69 168px,#85c972 174px,#80c879 180px,#7ac782 186px,#77c687 192px,#75c68b 198px,#74c68d 204px,#74c68c 210px,#77c688 216px,#7bc781 222px,#7fc87a 226px)"></i><i style="background:linear-gradient(90deg,#f4af46 0px,#f4b046 6px,#f4b247 12px,#f3b347 18px,#f3b548 24px,#f3b648 30px,#f3b849 36px,#f3b94a 42px,#f3bb4a 48px,#f2bd4b 54px,#f2bf4c 60px,#f1c14c 66px,#f0c24d 72px,#eec44d 78px,#ecc64d 84px,#eac84e 90px,#e7cb4e 96px,#e4ce4f 102px,#e0d250 108px,#d9d550 114px,#d2d850 120px,#cbdb50 126px,#c2da50 132px,#b8d750 138px,#afd450 144px,#a8d154 150px,#a1cf57 156px,#9acd5b 162px,#91cb64 168px,#89c96e 174px,#83c974 180px,#7fc87a 186px,#7bc780 192px,#79c784 198px,#77c687 204px,#78c686 210px,#79c783 216px,#7dc77d 222px,#81c877 226px)"></i><i style="background:linear-gradient(90deg,#f5a844 0px,#f4a944 6px,#f4ab44 12px,#f4ac45 18px,#f4ae45 24px,#f4af46 30px,#f4b147 36px,#f3b247 42px,#f3b448 48px,#f3b648 54px,#f3b849 60px,#f3ba4a 66px,#f2bc4b 72px,#f2bf4c 78px,#f1c14c 84px,#efc34d 90px,#ecc64d 96px,#e9c94e 102px,#e4ce4f 108px,#dfd250 114px,#d8d550 120px,#d1d850 126px,#c9dc50 132px,#bfd950 138px,#b5d650 144px,#add352 150px,#a5d055 156px,#9ece59 162px,#95cc5f 168px,#8dca69 174px,#87c970 180px,#83c875 186px,#7fc879 192px,#7dc77e 198px,#7bc781 204px,#7bc781 210px,#7cc77f 216px,#80c879 222px,#82c875 226px)"></i><i style="background:linear-gradient(90deg,#f5a142 0px,#f5a242 6px,#f5a442 12px,#f5a542 18px,#f5a743 24px,#f5a843 30px,#f4aa44 36px,#f4ab45 42px,#f4ad45 48px,#f4af46 54px,#f4b147 60px,#f3b347 66px,#f3b548 72px,#f3b849 78px,#f3bb4a 84px,#f2be4b 90px,#f0c24c 96px,#edc54d 102px,#e9c94e 108px,#e4ce4f 114px,#ded350 120px,#d7d650 126px,#cfd950 132px,#c6db50 138px,#bcd850 144px,#b1d450 150px,#aad253 156px,#a2cf57 162px,#99cc5b 168px,#91cb64 174px,#8bca6b 180px,#86c971 186px,#83c875 192px,#80c878 198px,#7ec87b 204px,#7ec87c 210px,#7fc87a 216px,#82c876 222px,#84c973 226px)"></i><i style="background:linear-gradient(90deg,#f39a40 0px,#f49b41 6px,#f49c41 12px,#f49e41 18px,#f49f41 24px,#f5a142 30px,#f5a342 36px,#f5a542 42px,#f5a643 48px,#f5a844 54px,#f4aa44 60px,#f4ac45 66px,#f4af46 72px,#f4b147 78px,#f3b448 84px,#f3b749 90px,#f2bb4a 96px,#f2c04c 102px,#eec44d 108px,#e9c94e 114px,#e3cf4f 120px,#ddd350 126px,#d5d750 132px,#ccda50 138px,#c2da50 144px,#b8d750 150px,#aed351 156px,#a6d155 162px,#9dce59 168px,#95cb60 174px,#8fca67 180px,#8aca6d 186px,#86c971 192px,#83c974 198px,#81c876 204px,#81c877 210px,#81c877 216px,#84c974 222px,#86c971 226px)"></i><i style="background:linear-gradient(90deg,#f2923f 0px,#f2943f 6px,#f39540 12px,#f39640 18px,#f39840 24px,#f39a40 30px,#f49b41 36px,#f49d41 42px,#f49f41 48px,#f5a142 54px,#f5a342 60px,#f5a643 66px,#f5a843 72px,#f4aa44 78px,#f4ad45 84px,#f4b046 90px,#f3b548 96px,#f3ba4a 102px,#f2c04c 108px,#edc54d 114px,#e8ca4e 120px,#e2d050 126px,#dbd450 132px,#d2d850 138px,#c9dc50 144px,#bed950 150px,#b3d550 156px,#aad253 162px,#a1cf57 168px,#99cc5c 174px,#93cb62 180px,#8dca69 186px,#8aca6d 192px,#86c970 198px,#84c973 204px,#83c974 210px,#83c974 216px,#86c972 222px,#88c96f 226px)"></i><i style="background:linear-gradient(90deg,#f18b3e 0px,#f18d3e 6px,#f28e3f 12px,#f28f3f 18px,#f2913f 24px,#f2923f 30px,#f39440 36px,#f39640 42px,#f39840 48px,#f39a40 54px,#f49c41 60px,#f49e41 66px,#f5a142 72px,#f5a442 78px,#f5a643 84px,#f4aa44 90px,#f4ae46 96px,#f3b347 102px,#f3b94a 108px,#f1c14c 114px,#ecc64d 120px,#e7cb4f 126px,#e0d250 132px,#d8d550 138px,#cfd950 144px,#c5db50 150px,#b9d750 156px,#aed351 162px,#a5d056 168px,#9dce5a 174px,#96cc5e 180px,#91cb64 186px,#8dca69 192px,#8aca6d 198px,#87c970 204px,#86c971 210px,#86c971 216px,#87c96f 222px,#8aca6d 226px)"></i><i style="background:linear-gradient(90deg,#f0843d 0px,#f0863d 6px,#f1873e 12px,#f1883e 18px,#f18a3e 24px,#f18b3e 30px,#f18d3e 36px,#f28f3f 42px,#f2913f 48px,#f2933f 54px,#f39540 60px,#f39740 66px,#f39a40 72px,#f49c41 78px,#f49f41 84px,#f5a342 90px,#f5a743 96px,#f4ac45 102px,#f3b347 108px,#f3ba4a 114px,#f1c14c 120px,#ebc74e 126px,#e5cd4f 132px,#ded350 138px,#d5d750 144px,#cbdb50 150px,#c0d950 156px,#b4d550 162px,#a9d254 168px,#a0cf58 174px,#9acd5b 180px,#94cb60 186px,#90cb65 192px,#8dca69 198px,#8aca6c 204px,#88c96e 210px,#88c96f 216px,#89ca6d 222px,#8bca6b 226px)"></i><i style="background:linear-gradient(90deg,#ef7e3c 0px,#ef7f3c 6px,#ef803c 12px,#f0813d 18px,#f0833d 24px,#f0853d 30px,#f0863d 36px,#f1883e 42px,#f18a3e 48px,#f18c3e 54px,#f28e3f 60px,#f2903f 66px,#f2923f 72px,#f39540 78px,#f39840 84px,#f49c41 90px,#f4a141 96px,#f5a643 102px,#f4ac45 108px,#f3b348 114px,#f2bb4a 120px,#efc34d 126px,#e9c94e 132px,#e3cf4f 138px,#dad450 144px,#d0d950 150px,#c6db50 156px,#bad750 162px,#add352 168px,#a4d056 174px,#9ece59 180px,#98cc5c 186px,#94cb61 192px,#90cb66 198px,#8dca69 204px,#8bca6b 210px,#8aca6c 216px,#8bca6b 222px,#8dca69 226px)"></i><i style="background:linear-gradient(90deg,#ed793c 0px,#ed7a3c 6px,#ee7b3c 12px,#ee7c3c 18px,#ef7d3c 24px,#ef7e3c 30px,#ef803c 36px,#f0813d 42px,#f0833d 48px,#f0853d 54px,#f1873e 60px,#f1893e 66px,#f18c3e 72px,#f28e3f 78px,#f2913f 84px,#f39540 90px,#f39a40 96px,#f49f41 102px,#f5a643 108px,#f4ad45 114px,#f3b548 120px,#f2be4b 126px,#edc54d 132px,#e7cb4f 138px,#e0d250 144px,#d6d650 150px,#cbdb50 156px,#c0d950 162px,#b1d450 168px,#a8d154 174px,#a1cf58 180px,#9bcd5a 186px,#97cc5d 192px,#93cb62 198px,#90cb66 204px,#8eca68 210px,#8cca69 216px,#8dca68 222px,#8fca67 226px)"></i><i style="background:linear-gradient(90deg,#ea753b 0px,#ea753b 6px,#eb763b 12px,#eb773b 18px,#ec783c 24px,#ed793c 30px,#ed7a3c 36px,#ee7b3c 42px,#ef7d3c 48px,#ef7e3c 54px,#f0803d 60px,#f0823d 66px,#f0853d 72px,#f1883e 78px,#f18a3e 84px,#f28e3f 90px,#f2933f 96px,#f39840 102px,#f49f41 108px,#f5a743 114px,#f4af46 120px,#f3b749 126px,#f2c04c 132px,#ebc74e 138px,#e4ce4f 144px,#dbd450 150px,#d1d850 156px,#c5db50 162px,#b6d650 168px,#abd252 174px,#a4d056 180px,#9fce59 186px,#9acd5b 192px,#96cc5e 198px,#92cb62 204px,#90cb65 210px,#8fca67 216px,#8fcb66 222px,#91cb64 226px)"></i><i style="background:linear-gradient(90deg,#e7713b 0px,#e8713b 6px,#e8723b 12px,#e9733b 18px,#e9743b 24px,#ea753b 30px,#eb763b 36px,#eb773b 42px,#ec783c 48px,#ed7a3c 54px,#ee7b3c 60px,#ef7c3c 66px,#ef7e3c 72px,#f0813d 78px,#f0843d 84px,#f1873e 90px,#f18c3e 96px,#f2913f 102px,#f39840 108px,#f4a041 114px,#f5a844 120px,#f4b147 126px,#f3ba4a 132px,#efc34d 138px,#e8ca4e 144px,#e1d150 150px,#d6d650 156px,#cbdb50 162px,#bcd850 168px,#afd451 174px,#a8d154 180px,#a2cf57 186px,#9dce59 192px,#99cc5b 198px,#95cc5f 204px,#93cb62 210px,#91cb64 216px,#91cb64 222px,#93cb62 226px)"></i><i style="background:linear-gradient(90deg,#e56d3a 0px,#e56d3a 6px,#e66e3b 12px,#e66f3b 18px,#e7703b 24px,#e7713b 30px,#e8723b 36px,#e9733b 42px,#ea743b 48px,#ea753b 54px,#eb773b 60px,#ec783c 66px,#ed7a3c 72px,#ee7b3c 78px,#ef7d3c 84px,#f0813d 90px,#f0863d 96px,#f18b3e 102px,#f2913f 108px,#f39940 114px,#f5a242 120px,#f4aa44 126px,#f3b448 132px,#f2be4b 138px,#ecc64d 144px,#e5cd4f 150px,#dcd450 156px,#d0d950 162px,#c2da50 168px,#b4d550 174px,#abd252 180px,#a5d055 186px,#a0cf58 192px,#9ccd5a 198px,#98cc5c 204px,#95cc5f 210px,#93cb62 216px,#93cb62 222px,#94cb60 226px)"></i><i style="background:linear-gradient(90deg,#e2693a 0px,#e3693a 6px,#e36a3a 12px,#e46b3a 18px,#e46c3a 24px,#e56d3a 30px,#e66e3b 36px,#e66f3b 42px,#e7703b 48px,#e8713b 54px,#e9733b 60px,#e9743b 66px,#ea753b 72px,#eb773b 78px,#ed793c 84px,#ee7b3c 90px,#ef7f3c 96px,#f0843d 102px,#f18b3e 108px,#f2933f 114px,#f49b41 120px,#f5a442 126px,#f4ae46 132px,#f3b849 138px,#f0c24c 144px,#e9c94e 150px,#e1d150 156px,#d5d650 162px,#c7dc50 168px,#b9d750 174px,#afd451 180px,#a8d154 186px,#a3d056 192px,#9fce59 198px,#9bcd5b 204px,#98cc5c 210px,#95cc5f 216px,#95cc5f 222px,#96cc5e 226px)"></i><i style="background:linear-gradient(90deg,#e0663a 0px,#e0663a 6px,#e1673a 12px,#e1673a 18px,#e2683a 24px,#e3693a 30px,#e36a3a 36px,#e46b3a 42px,#e56c3a 48px,#e56d3b 54px,#e66f3b 60px,#e7703b 66px,#e8713b 72px,#e9733b 78px,#ea753b 84px,#eb773b 90px,#ed7a3c 96px,#ef7e3c 102px,#f0853d 108px,#f18c3e 114px,#f39540 120px,#f49e41 126px,#f5a843 132px,#f3b247 138px,#f2bd4b 144px,#edc54d 150px,#e4ce4f 156px,#dad450 162px,#ccda50 168px,#bed950 174px,#b3d550 180px,#abd252 186px,#a6d155 192px,#a1cf57 198px,#9dce59 204px,#9acd5b 210px,#98cc5d 216px,#97cc5d 222px,#98cc5c 226px)"></i><i style="background:linear-gradient(90deg,#dd643a 0px,#dd643a 6px,#de653a 12px,#df653a 18px,#df663a 24px,#e0663a 30px,#e1673a 36px,#e2683a 42px,#e2683a 48px,#e36a3a 54px,#e46b3a 60px,#e56c3a 66px,#e56e3b 72px,#e66f3b 78px,#e8713b 84px,#e9733b 90px,#eb763b 96px,#ed7a3c 102px,#ef7f3c 108px,#f0863d 114px,#f28e3f 120px,#f39740 126px,#f5a242 132px,#f4ac45 138px,#f3b749 144px,#f0c24c 150px,#e8ca4e 156px,#dfd250 162px,#d1d850 168px,#c3da50 174px,#b8d750 180px,#afd451 186px,#a9d253 192px,#a4d056 198px,#a0cf58 204px,#9ccd5a 210px,#9acd5b 216px,#99cc5c 222px,#99cc5b 226px)"></i><i style="background:linear-gradient(90deg,#da613a 0px,#db623a 6px,#db623a 12px,#dc633a 18px,#dd633a 24px,#dd643a 30px,#de653a 36px,#df653a 42px,#e0663a 48px,#e0673a 54px,#e1673a 60px,#e2683a 66px,#e36a3a 72px,#e46c3a 78px,#e56d3b 84px,#e7703b 90px,#e9733b 96px,#eb763b 102px,#ed7a3c 108px,#ef803c 114px,#f1883e 120px,#f2913f 126px,#f49c41 132px,#f5a643 138px,#f4b147 144px,#f2bd4b 150px,#ecc64d 156px,#e3cf4f 162px,#d6d650 168px,#c9dc50 174px,#bdd850 180px,#b3d550 186px,#acd352 192px,#a7d154 198px,#a2cf57 204px,#9fce59 210px,#9ccd5a 216px,#9bcd5b 222px,#9bcd5a 226px)"></i><i style="background:linear-gradient(90deg,#d85f3a 0px,#d8603a 6px,#d9603a 12px,#d9613a 18px,#da613a 24px,#db623a 30px,#db623a 36px,#dc633a 42px,#dd643a 48px,#de643a 54px,#df653a 60px,#e0663a 66px,#e1673a 72px,#e2683a 78px,#e36a3a 84px,#e46c3a 90px,#e66f3b 96px,#e8723b 102px,#eb763b 108px,#ee7b3c 114px,#f0823d 120px,#f18b3e 126px,#f39540 132px,#f4a141 138px,#f4ab45 144px,#f3b749 150px,#f0c24d 156px,#e7cb4e 162px,#dbd450 168px,#cdda50 174px,#c2da50 180px,#b7d650 186px,#afd450 192px,#aad253 198px,#a5d056 204px,#a1cf58 210px,#9ece59 216px,#9ccd5a 222px,#9dce5a 226px)"></i><i style="background:linear-gradient(90deg,#d65d3a 0px,#d65d3a 6px,#d65e3a 12px,#d75e3a 18px,#d85f3a 24px,#d8603a 30px,#d9603a 36px,#da613a 42px,#db613a 48px,#db623a 54px,#dc633a 60px,#dd643a 66px,#de653a 72px,#df663a 78px,#e1673a 84px,#e2683a 90px,#e46b3a 96px,#e66f3b 102px,#e9733b 108px,#eb773b 114px,#ef7d3c 120px,#f0853d 126px,#f28f3f 132px,#f49a41 138px,#f5a643 144px,#f4b247 150px,#f2be4b 156px,#eac84e 162px,#dfd250 168px,#d2d850 174px,#c7dc50 180px,#bcd850 186px,#b3d550 192px,#acd352 198px,#a7d154 204px,#a3d056 210px,#a0cf58 216px,#9ece59 222px,#9ece59 226px)"></i><i style="background:linear-gradient(90deg,#d35b3a 0px,#d45c3a 6px,#d45c3a 12px,#d55c3a 18px,#d55d3a 24px,#d65d3a 30px,#d75e3a 36px,#d75f3a 42px,#d85f3a 48px,#d9603a 54px,#da613a 60px,#db623a 66px,#dc623a 72px,#dd633a 78px,#de653a 84px,#e0663a 90px,#e2683a 96px,#e46b3a 102px,#e66f3b 108px,#e9743b 114px,#ec793c 120px,#ef7f3c 126px,#f1893e 132px,#f39540 138px,#f4a041 144px,#f4ac45 150px,#f3b949 156px,#eec44d 162px,#e3cf4f 168px,#d6d650 174px,#cbdb50 180px,#c1da50 186px,#b7d650 192px,#afd450 198px,#aad253 204px,#a5d055 210px,#a1cf57 216px,#a0cf58 222px,#a0cf58 226px)"></i><i style="background:linear-gradient(90deg,#d1593a 0px,#d25a3a 6px,#d25a3a 12px,#d35b3a 18px,#d35b3a 24px,#d45c3a 30px,#d45c3a 36px,#d55d3a 42px,#d65d3a 48px,#d75e3a 54px,#d75f3a 60px,#d8603a 66px,#d9603a 72px,#da613a 78px,#dc623a 84px,#dd643a 90px,#df663a 96px,#e2683a 102px,#e46c3a 108px,#e7703b 114px,#ea753b 120px,#ee7b3c 126px,#f0843d 132px,#f28f3f 138px,#f49a41 144px,#f5a743 150px,#f3b348 156px,#f1c14c 162px,#e6cc4f 168px,#dbd450 174px,#d0d950 180px,#c5db50 186px,#bcd850 192px,#b3d550 198px,#acd352 204px,#a7d154 210px,#a3d056 216px,#a2cf57 222px,#a1cf57 226px)"></i><i style="background:linear-gradient(90deg,#cf573a 0px,#cf583a 6px,#d0583a 12px,#d0593a 18px,#d1593a 24px,#d25a3a 30px,#d25a3a 36px,#d35b3a 42px,#d45c3a 48px,#d45c3a 54px,#d55d3a 60px,#d65e3a 66px,#d75e3a 72px,#d85f3a 78px,#d9603a 84px,#db623a 90px,#dd643a 96px,#e0663a 102px,#e2683a 108px,#e56d3a 114px,#e8723b 120px,#eb773b 126px,#ef7e3c 132px,#f1893e 138px,#f39540 144px,#f5a142 150px,#f4ae46 156px,#f2bc4b 162px,#eac84e 168px,#dfd250 174px,#d4d750 180px,#c9db50 186px,#c0d950 192px,#b7d650 198px,#afd451 204px,#aad253 210px,#a5d055 216px,#a3d056 222px,#a3d057 226px)"></i><i style="background:linear-gradient(90deg,#cc5539 0px,#cd5639 6px,#cd563a 12px,#ce573a 18px,#cf573a 24px,#cf583a 30px,#d0583a 36px,#d1593a 42px,#d25a3a 48px,#d25a3a 54px,#d35b3a 60px,#d45c3a 66px,#d55d3a 72px,#d65e3a 78px,#d75f3a 84px,#d9603a 90px,#db623a 96px,#dd643a 102px,#e0663a 108px,#e36a3a 114px,#e66e3b 120px,#e9743b 126px,#ed7a3c 132px,#f0843d 138px,#f28f3f 144px,#f49c41 150px,#f4a944 156px,#f3b749 162px,#edc54d 168px,#e2d04f 174px,#d8d550 180px,#cdda50 186px,#c4db50 192px,#bad750 198px,#b1d450 204px,#acd352 210px,#a7d154 216px,#a5d056 222px,#a4d056 226px)"></i><i style="background:linear-gradient(90deg,#ca5439 0px,#cb5439 6px,#cb5439 12px,#cc5539 18px,#cd5539 24px,#cd5639 30px,#ce573a 36px,#cf573a 42px,#cf583a 48px,#d0593a 54px,#d1593a 60px,#d25a3a 66px,#d35b3a 72px,#d45c3a 78px,#d55d3a 84px,#d75e3a 90px,#d9603a 96px,#db623a 102px,#de643a 108px,#e1673a 114px,#e46b3a 120px,#e7713b 126px,#eb773b 132px,#ef7f3c 138px,#f18a3e 144px,#f39640 150px,#f5a442 156px,#f3b247 162px,#f0c24c 168px,#e6cc4f 174px,#dcd450 180px,#d1d850 186px,#c8dc50 192px,#bed950 198px,#b5d650 204px,#aed351 210px,#a9d254 216px,#a6d155 222px,#a6d155 226px)"></i><i style="background:linear-gradient(90deg,#c95239 0px,#c95239 6px,#c95339 12px,#ca5339 18px,#cb5439 24px,#cb5439 30px,#cc5539 36px,#cd5539 42px,#cd563a 48px,#ce573a 54px,#cf573a 60px,#d0583a 66px,#d1593a 72px,#d25a3a 78px,#d35b3a 84px,#d55c3a 90px,#d75e3a 96px,#d9603a 102px,#dc623a 108px,#df653a 114px,#e2683a 120px,#e56d3b 126px,#e9743b 132px,#ee7b3c 138px,#f0853d 144px,#f2913f 150px,#f49f41 156px,#f4ad45 162px,#f2be4b 168px,#e9c94e 174px,#e0d250 180px,#d5d750 186px,#ccdb50 192px,#c2da50 198px,#b8d750 204px,#b0d450 210px,#abd253 216px,#a8d154 222px,#a7d154 226px)"></i><i style="background:linear-gradient(90deg,#c75139 0px,#c75139 6px,#c85139 12px,#c85239 18px,#c95239 24px,#c95339 30px,#ca5339 36px,#cb5439 42px,#cb5439 48px,#cc5539 54px,#cd5639 60px,#ce573a 66px,#cf573a 72px,#d0583a 78px,#d1593a 84px,#d35b3a 90px,#d55d3a 96px,#d75e3a 102px,#da613a 108px,#dd633a 114px,#e0663a 120px,#e36a3a 126px,#e7713b 132px,#ec783b 138px,#ef803c 144px,#f18c3e 150px,#f39a40 156px,#f5a944 162px,#f3ba4a 168px,#ecc64d 174px,#e3cf4f 180px,#d9d550 186px,#cfd950 192px,#c6db50 198px,#bcd850 204px,#b3d550 210px,#add352 216px,#aad253 222px,#a9d254 226px)"></i><i style="background:linear-gradient(90deg,#c54f39 0px,#c65039 6px,#c65039 12px,#c75039 18px,#c75139 24px,#c85139 30px,#c85239 36px,#c95239 42px,#ca5339 48px,#ca5439 54px,#cb5439 60px,#cc5539 66px,#cd5639 72px,#ce573a 78px,#cf583a 84px,#d1593a 90px,#d35b3a 96px,#d55d3a 102px,#d85f3a 108px,#db613a 114px,#de643a 120px,#e2683a 126px,#e66e3b 132px,#ea743b 138px,#ee7c3c 144px,#f1873e 150px,#f39540 156px,#f5a442 162px,#f3b548 168px,#eec44d 174px,#e6cc4f 180px,#dcd450 186px,#d3d850 192px,#c9dc50 198px,#bfd950 204px,#b6d650 210px,#aed351 216px,#abd252 222px,#aad253 226px)"></i><i style="background:linear-gradient(90deg,#c44e39 0px,#c44e39 6px,#c54f39 12px,#c54f39 18px,#c65039 24px,#c65039 30px,#c75139 36px,#c75139 42px,#c85239 48px,#c95239 54px,#ca5339 60px,#ca5439 66px,#cb5439 72px,#cc5539 78px,#ce563a 84px,#cf583a 90px,#d25a3a 96px,#d45b3a 102px,#d65d3a 108px,#d9603a 114px,#dc633a 120px,#e0663a 126px,#e46b3a 132px,#e8723b 138px,#ec793c 144px,#f0833d 150px,#f2903f 156px,#f49f41 162px,#f4b146 168px,#f1c14c 174px,#e8ca4e 180px,#e0d250 186px,#d6d650 192px,#ccda50 198px,#c2da50 204px,#b9d750 210px,#b0d450 216px,#add352 222px,#abd252 226px)"></i><i style="background:linear-gradient(90deg,#c34d38 0px,#c34d38 6px,#c34e38 12px,#c44e39 18px,#c44f39 24px,#c54f39 30px,#c54f39 36px,#c65039 42px,#c75039 48px,#c75139 54px,#c85239 60px,#c95239 66px,#ca5339 72px,#cb5439 78px,#cc5539 84px,#ce563a 90px,#d0583a 96px,#d25a3a 102px,#d45c3a 108px,#d75e3a 114px,#da613a 120px,#de643a 126px,#e2683a 132px,#e66f3b 138px,#eb763b 144px,#ef7e3c 150px,#f18c3e 156px,#f49b41 162px,#f4ac45 168px,#f2bd4b 174px,#ebc74e 180px,#e2d04f 186px,#d9d550 192px,#cfd950 198px,#c5db50 204px,#bbd850 210px,#b2d550 216px,#aed351 222px,#add352 226px)"></i><i style="background:linear-gradient(90deg,#c24c38 0px,#c24d38 6px,#c24d38 12px,#c34d38 18px,#c34e38 24px,#c44e39 30px,#c44e39 36px,#c54f39 42px,#c54f39 48px,#c65039 54px,#c75139 60px,#c75139 66px,#c85239 72px,#c95339 78px,#ca5439 84px,#cc5539 90px,#ce573a 96px,#d1593a 102px,#d35b3a 108px,#d55d3a 114px,#d85f3a 120px,#dc633a 126px,#e0663a 132px,#e56c3a 138px,#e9733b 144px,#ee7b3c 150px,#f1873e 156px,#f39640 162px,#f5a843 168px,#f3b949 174px,#eec44d 180px,#e5cd4f 186px,#dcd350 192px,#d2d850 198px,#c8dc50 204px,#bed950 210px,#b5d650 216px,#afd450 222px,#aed351 226px)"></i><i style="background:linear-gradient(90deg,#c14c38 0px,#c14c38 6px,#c14c38 12px,#c24c38 18px,#c24d38 24px,#c34d38 30px,#c34e38 36px,#c44e39 42px,#c44f39 48px,#c54f39 54px,#c65039 60px,#c65039 66px,#c75139 72px,#c85239 78px,#c95339 84px,#cb5439 90px,#cd5639 96px,#cf573a 102px,#d15a3a 108px,#d45c3a 114px,#d75e3a 120px,#da613a 126px,#de653a 132px,#e36a3a 138px,#e7703b 144px,#ec783c 150px,#f0833d 156px,#f2923f 162px,#f5a442 168px,#f3b548 174px,#f0c24c 180px,#e8ca4e 186px,#e0d250 192px,#d5d750 198px,#cbdb50 204px,#c1da50 210px,#b7d650 216px,#b1d450 222px,#afd450 226px)"></i><i style="background:linear-gradient(90deg,#c04b38 0px,#c04b38 6px,#c14b38 12px,#c14c38 18px,#c14c38 24px,#c24c38 30px,#c24d38 36px,#c34d38 42px,#c34e38 48px,#c44e39 54px,#c54f39 60px,#c54f39 66px,#c65039 72px,#c75139 78px,#c85239 84px,#c95339 90px,#cc5539 96px,#ce563a 102px,#d0583a 108px,#d35a3a 114px,#d55d3a 120px,#d9603a 126px,#dd633a 132px,#e1683a 138px,#e66e3b 144px,#ea763b 150px,#ef7f3c 156px,#f28d3f 162px,#f4a041 168px,#f4b146 174px,#f2bf4c 180px,#eac84e 186px,#e2d050 192px,#d8d550 198px,#ceda50 204px,#c4db50 210px,#bad750 216px,#b3d550 222px,#b1d450 226px)"></i><i style="background:linear-gradient(90deg,#c04b38 0px,#c04b38 6px,#c04b38 12px,#c04b38 18px,#c14c38 24px,#c14c38 30px,#c24c38 36px,#c24d38 42px,#c34d38 48px,#c34e38 54px,#c44e39 60px,#c44f39 66px,#c54f39 72px,#c65039 78px,#c75139 84px,#c85239 90px,#ca5439 96px,#cd5539 102px,#cf573a 108px,#d1593a 114px,#d45c3a 120px,#d75e3a 126px,#db623a 132px,#e0663a 138px,#e46c3a 144px,#e9733b 150px,#ee7c3c 156px,#f1893e 162px,#f49c41 168px,#f4ad45 174px,#f3bb4a 180px,#ecc64d 186px,#e4ce4f 192px,#dbd450 198px,#d0d950 204px,#c6db50 210px,#bcd850 216px,#b5d650 222px,#b3d550 226px)"></i><i style="background:linear-gradient(90deg,#bf4a38 0px,#bf4a38 6px,#c04b38 12px,#c04b38 18px,#c04b38 24px,#c14c38 30px,#c14c38 36px,#c24c38 42px,#c24d38 48px,#c34d38 54px,#c34d38 60px,#c44e38 66px,#c44f39 72px,#c54f39 78px,#c65039 84px,#c75139 90px,#c95339 96px,#cb5539 102px,#ce563a 108px,#d0583a 114px,#d35b3a 120px,#d65d3a 126px,#da613a 132px,#de653a 138px,#e36a3a 144px,#e8713b 150px,#ed793c 156px,#f0863d 162px,#f39840 168px,#f4a944 174px,#f3b749 180px,#efc34d 186px,#e6cc4f 192px,#ded350 198px,#d3d850 204px,#c9dc50 210px,#bed950 216px,#b7d650 222px,#b4d550 226px)"></i><i style="background:linear-gradient(90deg,#bf4a38 0px,#bf4a38 6px,#c04a38 12px,#c04b38 18px,#c04b38 24px,#c04b38 30px,#c14c38 36px,#c14c38 42px,#c24c38 48px,#c24d38 54px,#c34d38 60px,#c34e38 66px,#c44e39 72px,#c54f39 78px,#c54f39 84px,#c75139 90px,#c95239 96px,#cb5439 102px,#cd5539 108px,#cf573a 114px,#d25a3a 120px,#d55c3a 126px,#d8603a 132px,#dd643a 138px,#e2683a 144px,#e66f3b 150px,#eb773b 156px,#f0823d 162px,#f39440 168px,#f5a643 174px,#f3b448 180px,#f1c14c 186px,#e8ca4e 192px,#e0d250 198px,#d5d750 204px,#cbdb50 210px,#c0d950 216px,#b9d750 222px,#b6d650 226px)"></i></div><div id="cb" style="background:linear-gradient(180deg,#8e3a30 0.0%,#923b31 1.0%,#963d33 2.0%,#9b3e35 3.0%,#a04037 4.0%,#a44239 5.0%,#a9433a 6.0%,#ae453a 7.0%,#b34639 8.0%,#b74839 9.0%,#bc4938 10.0%,#c04b38 11.0%,#c44f39 12.0%,#c85239 13.0%,#cc5539 14.0%,#d0593a 15.0%,#d45c3a 16.0%,#d75f3a 17.0%,#da613a 18.0%,#de643a 19.0%,#e1673a 20.0%,#e46b3a 21.0%,#e7703b 22.0%,#e9743b 23.0%,#ec783c 24.0%,#ef7d3c 25.0%,#f0833d 26.0%,#f1893e 27.0%,#f2903f 28.0%,#f39640 29.0%,#f49d41 30.0%,#f5a342 31.0%,#f4a944 32.0%,#f4af46 33.0%,#f3b548 34.0%,#f3ba4a 35.0%,#f2c04c 36.0%,#eec44d 37.0%,#eac84e 38.0%,#e7cb4f 39.0%,#e3cf4f 40.0%,#dfd250 41.0%,#dad550 42.0%,#d5d750 43.0%,#d0d950 44.0%,#cbdb50 45.0%,#c6db50 46.0%,#c0d950 47.0%,#bbd850 48.0%,#b5d650 49.0%,#b0d450 50.0%,#acd352 51.0%,#a8d154 52.0%,#a5d056 53.0%,#a1cf57 54.0%,#9dce59 55.0%,#9acd5b 56.0%,#96cc5e 57.0%,#92cb63 58.0%,#8eca68 59.0%,#8aca6c 60.0%,#86c971 61.0%,#82c876 62.0%,#7ec87c 63.0%,#79c784 64.0%,#74c68d 65.0%,#6fc595 66.0%,#6bc49e 67.0%,#68c3a7 68.0%,#65c2b1 69.0%,#62c0ba 70.0%,#5fbfc4 71.0%,#5dbdcc 72.0%,#5bbad3 73.0%,#59b7da 74.0%,#58b3e0 75.0%,#59adde 76.0%,#59a8dc 77.0%,#59a2da 78.0%,#5a9cd9 79.0%,#5a97d6 80.0%,#5a91d4 81.0%,#5a8cd2 82.0%,#5a87cf 83.0%,#5a81cd 84.0%,#5a7cc9 85.0%,#5976c5 86.0%,#5971c0 87.0%,#586cbc 88.0%,#5866b8 89.0%,#5760b2 90.0%,#555aac 91.0%,#5454a6 92.0%,#524e9e 93.0%,#4f4794 94.0%,#4c4089 95.0%,#483879 96.0%,#443169 97.0%,#412c5d 98.0%,#3e2852 99.0%,#3c2549 100.0%)"></div><svg width="685" height="241" viewBox="0 0 685 241"><line x1="140.80" y1="8.80" x2="140.80" y2="213.60" stroke="#e6e6e6" stroke-width="0.70" /><line x1="232.20" y1="8.80" x2="232.20" y2="213.60" stroke="#e6e6e6" stroke-width="0.70" /><line x1="49.40" y1="21.70" x2="323.60" y2="21.70" stroke="#e6e6e6" stroke-width="0.70" /><line x1="49.40" y1="92.65" x2="323.60" y2="92.65" stroke="#e6e6e6" stroke-width="0.70" /><line x1="49.40" y1="163.60" x2="323.60" y2="163.60" stroke="#e6e6e6" stroke-width="0.70" /><path d="M49.40 24.40 L51.39 24.40 L53.37 24.40 L55.36 24.40 L57.35 24.40 L59.33 24.40 L61.32 24.40 L63.31 24.40 L65.30 24.40 L67.28 24.40 L69.27 24.41 L71.26 24.41 L73.24 24.41 L75.23 24.41 L77.22 24.41 L79.20 24.41 L81.19 24.41 L83.18 24.41 L85.17 24.42 L87.15 24.42 L89.14 24.42 L91.13 24.42 L93.11 24.42 L95.10 24.43 L97.09 24.43 L99.07 24.43 L101.06 24.43 L103.05 24.43 L105.03 24.44 L107.02 24.44 L109.01 24.44 L111.00 24.44 L112.98 24.45 L114.97 24.45 L116.96 24.45 L118.94 24.45 L120.93 24.46 L122.92 24.46 L124.90 24.46 L126.89 24.47 L128.88 24.47 L130.87 24.47 L132.85 24.47 L134.84 24.48 L136.83 24.48 L138.81 24.48 L140.80 24.49 L142.79 24.49 L144.77 24.49 L146.76 24.50 L148.75 24.50 L150.73 24.50 L152.72 24.50 L154.71 24.51 L156.70 24.51 L158.68 24.51 L160.67 24.52 L162.66 24.52 L164.64 24.53 L166.63 24.53 L168.62 24.53 L170.60 24.54 L172.59 24.54 L174.58 24.55 L176.57 24.55 L178.55 24.56 L180.54 24.56 L182.53 24.57 L184.51 24.57 L186.50 24.58 L188.49 24.58 L190.47 24.59 L192.46 24.59 L194.45 24.60 L196.43 24.61 L198.42 24.61 L200.41 24.62 L202.40 24.63 L204.38 24.63 L206.37 24.64 L208.36 24.65 L210.34 24.65 L212.33 24.66 L214.32 24.67 L216.30 24.68 L218.29 24.68 L220.28 24.69 L222.27 24.70 L224.25 24.71 L226.24 24.71 L228.23 24.72 L230.21 24.73 L232.20 24.74 L234.19 24.75 L236.17 24.76 L238.16 24.77 L240.15 24.78 L242.13 24.79 L244.12 24.80 L246.11 24.81 L248.10 24.82 L250.08 24.83 L252.07 24.84 L254.06 24.85 L256.04 24.87 L258.03 24.88 L260.02 24.89 L262.00 24.91 L263.99 24.92 L265.98 24.94 L267.97 24.96 L269.95 24.98 L271.94 24.99 L273.93 25.01 L275.91 25.03 L277.90 25.05 L279.89 25.07 L281.87 25.09 L283.86 25.11 L285.85 25.13 L287.83 25.16 L289.82 25.18 L291.81 25.20 L293.80 25.23 L295.78 25.25 L297.77 25.27 L299.76 25.30 L301.74 25.32 L303.73 25.35 L305.72 25.38 L307.70 25.41 L309.69 25.44 L311.68 25.48 L313.67 25.51 L315.65 25.55 L317.64 25.59 L319.63 25.62 L321.61 25.66 L323.60 25.70" fill="none" stroke="#2479b6" stroke-width="1.35" /><path d="M49.40 24.40 L51.39 24.40 L53.37 24.40 L55.36 24.40 L57.35 24.40 L59.33 24.40 L61.32 24.40 L63.31 24.40 L65.30 24.40 L67.28 24.40 L69.27 24.40 L71.26 24.40 L73.24 24.40 L75.23 24.40 L77.22 24.40 L79.20 24.40 L81.19 24.40 L83.18 24.40 L85.17 24.40 L87.15 24.40 L89.14 24.40 L91.13 24.40 L93.11 24.40 L95.10 24.40 L97.09 24.40 L99.07 24.40 L101.06 24.40 L103.05 24.40 L105.03 24.40 L107.02 24.40 L109.01 24.40 L111.00 24.40 L112.98 24.40 L114.97 24.40 L116.96 24.40 L118.94 24.40 L120.93 24.40 L122.92 24.40 L124.90 24.40 L126.89 24.40 L128.88 24.40 L130.87 24.40 L132.85 24.40 L134.84 24.40 L136.83 24.40 L138.81 24.40 L140.80 24.40 L142.79 24.40 L144.77 24.40 L146.76 24.40 L148.75 24.40 L150.73 24.40 L152.72 24.40 L154.71 24.40 L156.70 24.40 L158.68 24.40 L160.67 24.40 L162.66 24.40 L164.64 24.40 L166.63 24.40 L168.62 24.40 L170.60 24.41 L172.59 24.41 L174.58 24.41 L176.57 24.41 L178.55 24.41 L180.54 24.41 L182.53 24.41 L184.51 24.42 L186.50 24.42 L188.49 24.42 L190.47 24.42 L192.46 24.42 L194.45 24.43 L196.43 24.43 L198.42 24.43 L200.41 24.43 L202.40 24.43 L204.38 24.44 L206.37 24.44 L208.36 24.44 L210.34 24.44 L212.33 24.45 L214.32 24.45 L216.30 24.45 L218.29 24.46 L220.28 24.46 L222.27 24.46 L224.25 24.47 L226.24 24.47 L228.23 24.47 L230.21 24.47 L232.20 24.48 L234.19 24.48 L236.17 24.48 L238.16 24.49 L240.15 24.49 L242.13 24.49 L244.12 24.50 L246.11 24.50 L248.10 24.51 L250.08 24.51 L252.07 24.52 L254.06 24.52 L256.04 24.53 L258.03 24.53 L260.02 24.54 L262.00 24.55 L263.99 24.55 L265.98 24.56 L267.97 24.57 L269.95 24.58 L271.94 24.59 L273.93 24.60 L275.91 24.61 L277.90 24.62 L279.89 24.63 L281.87 24.64 L283.86 24.65 L285.85 24.66 L287.83 24.67 L289.82 24.68 L291.81 24.69 L293.80 24.70 L295.78 24.72 L297.77 24.73 L299.76 24.74 L301.74 24.75 L303.73 24.77 L305.72 24.78 L307.70 24.79 L309.69 24.81 L311.68 24.82 L313.67 24.83 L315.65 24.85 L317.64 24.86 L319.63 24.87 L321.61 24.89 L323.60 24.90" fill="none" stroke="#2479b6" stroke-width="1.35" stroke-dasharray="4.6 2" /><path d="M49.40 24.40 L51.39 24.40 L53.37 24.40 L55.36 24.40 L57.35 24.40 L59.33 24.41 L61.32 24.41 L63.31 24.41 L65.30 24.41 L67.28 24.41 L69.27 24.42 L71.26 24.42 L73.24 24.42 L75.23 24.42 L77.22 24.43 L79.20 24.43 L81.19 24.43 L83.18 24.44 L85.17 24.44 L87.15 24.44 L89.14 24.45 L91.13 24.45 L93.11 24.45 L95.10 24.46 L97.09 24.46 L99.07 24.47 L101.06 24.47 L103.05 24.47 L105.03 24.48 L107.02 24.48 L109.01 24.49 L111.00 24.49 L112.98 24.50 L114.97 24.50 L116.96 24.51 L118.94 24.51 L120.93 24.52 L122.92 24.52 L124.90 24.53 L126.89 24.53 L128.88 24.54 L130.87 24.55 L132.85 24.55 L134.84 24.56 L136.83 24.56 L138.81 24.57 L140.80 24.57 L142.79 24.58 L144.77 24.58 L146.76 24.59 L148.75 24.60 L150.73 24.60 L152.72 24.61 L154.71 24.61 L156.70 24.62 L158.68 24.63 L160.67 24.63 L162.66 24.64 L164.64 24.65 L166.63 24.66 L168.62 24.66 L170.60 24.67 L172.59 24.68 L174.58 24.69 L176.57 24.70 L178.55 24.71 L180.54 24.72 L182.53 24.73 L184.51 24.73 L186.50 24.74 L188.49 24.75 L190.47 24.76 L192.46 24.77 L194.45 24.78 L196.43 24.80 L198.42 24.81 L200.41 24.82 L202.40 24.83 L204.38 24.84 L206.37 24.85 L208.36 24.86 L210.34 24.87 L212.33 24.89 L214.32 24.90 L216.30 24.91 L218.29 24.92 L220.28 24.94 L222.27 24.95 L224.25 24.96 L226.24 24.97 L228.23 24.99 L230.21 25.00 L232.20 25.01 L234.19 25.03 L236.17 25.04 L238.16 25.05 L240.15 25.07 L242.13 25.08 L244.12 25.09 L246.11 25.11 L248.10 25.12 L250.08 25.14 L252.07 25.15 L254.06 25.17 L256.04 25.18 L258.03 25.20 L260.02 25.22 L262.00 25.23 L263.99 25.25 L265.98 25.27 L267.97 25.29 L269.95 25.31 L271.94 25.32 L273.93 25.34 L275.91 25.36 L277.90 25.38 L279.89 25.40 L281.87 25.42 L283.86 25.44 L285.85 25.46 L287.83 25.48 L289.82 25.51 L291.81 25.53 L293.80 25.55 L295.78 25.57 L297.77 25.59 L299.76 25.62 L301.74 25.64 L303.73 25.66 L305.72 25.68 L307.70 25.71 L309.69 25.73 L311.68 25.75 L313.67 25.78 L315.65 25.80 L317.64 25.83 L319.63 25.85 L321.61 25.88 L323.60 25.90" fill="none" stroke="#2479b6" stroke-width="1.35" stroke-dasharray="7.6 2 1.3 2" /><path d="M49.40 21.90 L51.39 21.91 L53.37 21.91 L55.36 21.92 L57.35 21.93 L59.33 21.95 L61.32 21.96 L63.31 21.97 L65.30 21.99 L67.28 22.01 L69.27 22.02 L71.26 22.04 L73.24 22.06 L75.23 22.08 L77.22 22.11 L79.20 22.13 L81.19 22.15 L83.18 22.18 L85.17 22.20 L87.15 22.23 L89.14 22.25 L91.13 22.28 L93.11 22.30 L95.10 22.33 L97.09 22.36 L99.07 22.39 L101.06 22.42 L103.05 22.45 L105.03 22.48 L107.02 22.52 L109.01 22.55 L111.00 22.59 L112.98 22.64 L114.97 22.68 L116.96 22.73 L118.94 22.78 L120.93 22.82 L122.92 22.88 L124.90 22.93 L126.89 22.98 L128.88 23.03 L130.87 23.09 L132.85 23.14 L134.84 23.19 L136.83 23.25 L138.81 23.30 L140.80 23.36 L142.79 23.41 L144.77 23.46 L146.76 23.52 L148.75 23.57 L150.73 23.62 L152.72 23.67 L154.71 23.73 L156.70 23.79 L158.68 23.85 L160.67 23.91 L162.66 23.97 L164.64 24.04 L166.63 24.10 L168.62 24.15 L170.60 24.21 L172.59 24.26 L174.58 24.30 L176.57 24.35 L178.55 24.38 L180.54 24.41 L182.53 24.43 L184.51 24.45 L186.50 24.48 L188.49 24.50 L190.47 24.52 L192.46 24.54 L194.45 24.55 L196.43 24.57 L198.42 24.59 L200.41 24.60 L202.40 24.62 L204.38 24.63 L206.37 24.65 L208.36 24.66 L210.34 24.67 L212.33 24.69 L214.32 24.70 L216.30 24.71 L218.29 24.72 L220.28 24.73 L222.27 24.75 L224.25 24.76 L226.24 24.77 L228.23 24.78 L230.21 24.79 L232.20 24.81 L234.19 24.82 L236.17 24.83 L238.16 24.85 L240.15 24.86 L242.13 24.88 L244.12 24.89 L246.11 24.91 L248.10 24.93 L250.08 24.94 L252.07 24.96 L254.06 24.97 L256.04 24.99 L258.03 25.00 L260.02 25.02 L262.00 25.03 L263.99 25.05 L265.98 25.06 L267.97 25.08 L269.95 25.09 L271.94 25.11 L273.93 25.13 L275.91 25.14 L277.90 25.16 L279.89 25.18 L281.87 25.20 L283.86 25.22 L285.85 25.24 L287.83 25.26 L289.82 25.28 L291.81 25.30 L293.80 25.32 L295.78 25.35 L297.77 25.37 L299.76 25.40 L301.74 25.42 L303.73 25.46 L305.72 25.49 L307.70 25.53 L309.69 25.57 L311.68 25.61 L313.67 25.66 L315.65 25.71 L317.64 25.75 L319.63 25.80 L321.61 25.85 L323.60 25.90" fill="none" stroke="#2479b6" stroke-width="1.35" stroke-dasharray="1.3 2.2" /><path d="M49.40 45.70 L51.39 45.75 L53.37 45.81 L55.36 45.87 L57.35 45.93 L59.33 45.99 L61.32 46.05 L63.31 46.12 L65.30 46.18 L67.28 46.25 L69.27 46.32 L71.26 46.39 L73.24 46.47 L75.23 46.54 L77.22 46.62 L79.20 46.70 L81.19 46.78 L83.18 46.86 L85.17 46.94 L87.15 47.03 L89.14 47.11 L91.13 47.20 L93.11 47.29 L95.10 47.38 L97.09 47.47 L99.07 47.56 L101.06 47.65 L103.05 47.75 L105.03 47.84 L107.02 47.95 L109.01 48.05 L111.00 48.16 L112.98 48.27 L114.97 48.39 L116.96 48.51 L118.94 48.62 L120.93 48.75 L122.92 48.87 L124.90 48.99 L126.89 49.12 L128.88 49.24 L130.87 49.37 L132.85 49.50 L134.84 49.63 L136.83 49.76 L138.81 49.89 L140.80 50.01 L142.79 50.14 L144.77 50.27 L146.76 50.40 L148.75 50.52 L150.73 50.65 L152.72 50.77 L154.71 50.89 L156.70 51.02 L158.68 51.14 L160.67 51.27 L162.66 51.40 L164.64 51.52 L166.63 51.65 L168.62 51.78 L170.60 51.90 L172.59 52.03 L174.58 52.16 L176.57 52.29 L178.55 52.42 L180.54 52.56 L182.53 52.69 L184.51 52.82 L186.50 52.96 L188.49 53.10 L190.47 53.23 L192.46 53.37 L194.45 53.51 L196.43 53.66 L198.42 53.80 L200.41 53.95 L202.40 54.10 L204.38 54.25 L206.37 54.40 L208.36 54.55 L210.34 54.70 L212.33 54.85 L214.32 55.00 L216.30 55.15 L218.29 55.31 L220.28 55.46 L222.27 55.61 L224.25 55.76 L226.24 55.91 L228.23 56.07 L230.21 56.22 L232.20 56.37 L234.19 56.51 L236.17 56.66 L238.16 56.81 L240.15 56.96 L242.13 57.10 L244.12 57.25 L246.11 57.39 L248.10 57.54 L250.08 57.69 L252.07 57.83 L254.06 57.98 L256.04 58.13 L258.03 58.28 L260.02 58.43 L262.00 58.58 L263.99 58.73 L265.98 58.88 L267.97 59.03 L269.95 59.19 L271.94 59.35 L273.93 59.50 L275.91 59.66 L277.90 59.83 L279.89 59.99 L281.87 60.16 L283.86 60.32 L285.85 60.49 L287.83 60.67 L289.82 60.84 L291.81 61.01 L293.80 61.19 L295.78 61.37 L297.77 61.55 L299.76 61.73 L301.74 61.91 L303.73 62.09 L305.72 62.28 L307.70 62.46 L309.69 62.65 L311.68 62.84 L313.67 63.03 L315.65 63.22 L317.64 63.41 L319.63 63.61 L321.61 63.80 L323.60 64.00" fill="none" stroke="#fc8522" stroke-width="1.35" /><path d="M49.40 45.90 L51.39 45.94 L53.37 45.98 L55.36 46.03 L57.35 46.07 L59.33 46.12 L61.32 46.17 L63.31 46.23 L65.30 46.28 L67.28 46.34 L69.27 46.40 L71.26 46.46 L73.24 46.52 L75.23 46.58 L77.22 46.65 L79.20 46.72 L81.19 46.79 L83.18 46.86 L85.17 46.93 L87.15 47.00 L89.14 47.08 L91.13 47.15 L93.11 47.23 L95.10 47.30 L97.09 47.38 L99.07 47.46 L101.06 47.54 L103.05 47.63 L105.03 47.72 L107.02 47.82 L109.01 47.91 L111.00 48.02 L112.98 48.12 L114.97 48.23 L116.96 48.35 L118.94 48.46 L120.93 48.58 L122.92 48.70 L124.90 48.82 L126.89 48.94 L128.88 49.06 L130.87 49.18 L132.85 49.30 L134.84 49.43 L136.83 49.55 L138.81 49.67 L140.80 49.78 L142.79 49.90 L144.77 50.01 L146.76 50.12 L148.75 50.23 L150.73 50.34 L152.72 50.44 L154.71 50.55 L156.70 50.66 L158.68 50.76 L160.67 50.87 L162.66 50.98 L164.64 51.08 L166.63 51.19 L168.62 51.29 L170.60 51.40 L172.59 51.50 L174.58 51.60 L176.57 51.70 L178.55 51.80 L180.54 51.89 L182.53 51.98 L184.51 52.07 L186.50 52.16 L188.49 52.24 L190.47 52.32 L192.46 52.40 L194.45 52.47 L196.43 52.55 L198.42 52.63 L200.41 52.70 L202.40 52.78 L204.38 52.85 L206.37 52.92 L208.36 52.99 L210.34 53.06 L212.33 53.13 L214.32 53.19 L216.30 53.25 L218.29 53.31 L220.28 53.37 L222.27 53.42 L224.25 53.47 L226.24 53.52 L228.23 53.56 L230.21 53.60 L232.20 53.64 L234.19 53.68 L236.17 53.72 L238.16 53.76 L240.15 53.79 L242.13 53.83 L244.12 53.86 L246.11 53.89 L248.10 53.93 L250.08 53.96 L252.07 53.99 L254.06 54.02 L256.04 54.05 L258.03 54.07 L260.02 54.10 L262.00 54.13 L263.99 54.15 L265.98 54.17 L267.97 54.19 L269.95 54.21 L271.94 54.23 L273.93 54.25 L275.91 54.27 L277.90 54.28 L279.89 54.30 L281.87 54.31 L283.86 54.33 L285.85 54.34 L287.83 54.35 L289.82 54.37 L291.81 54.38 L293.80 54.39 L295.78 54.40 L297.77 54.41 L299.76 54.43 L301.74 54.44 L303.73 54.45 L305.72 54.45 L307.70 54.46 L309.69 54.47 L311.68 54.48 L313.67 54.48 L315.65 54.49 L317.64 54.49 L319.63 54.50 L321.61 54.50 L323.60 54.50" fill="none" stroke="#fc8522" stroke-width="1.35" stroke-dasharray="4.6 2" /><path d="M49.40 54.20 L51.39 54.25 L53.37 54.30 L55.36 54.35 L57.35 54.40 L59.33 54.45 L61.32 54.50 L63.31 54.55 L65.30 54.61 L67.28 54.66 L69.27 54.71 L71.26 54.77 L73.24 54.82 L75.23 54.88 L77.22 54.93 L79.20 54.99 L81.19 55.04 L83.18 55.10 L85.17 55.16 L87.15 55.22 L89.14 55.27 L91.13 55.33 L93.11 55.39 L95.10 55.45 L97.09 55.51 L99.07 55.57 L101.06 55.63 L103.05 55.70 L105.03 55.76 L107.02 55.83 L109.01 55.89 L111.00 55.96 L112.98 56.03 L114.97 56.10 L116.96 56.17 L118.94 56.24 L120.93 56.32 L122.92 56.39 L124.90 56.46 L126.89 56.53 L128.88 56.61 L130.87 56.68 L132.85 56.75 L134.84 56.82 L136.83 56.89 L138.81 56.95 L140.80 57.02 L142.79 57.08 L144.77 57.15 L146.76 57.21 L148.75 57.26 L150.73 57.32 L152.72 57.37 L154.71 57.43 L156.70 57.48 L158.68 57.53 L160.67 57.58 L162.66 57.62 L164.64 57.67 L166.63 57.71 L168.62 57.76 L170.60 57.80 L172.59 57.84 L174.58 57.89 L176.57 57.93 L178.55 57.97 L180.54 58.02 L182.53 58.06 L184.51 58.11 L186.50 58.15 L188.49 58.20 L190.47 58.25 L192.46 58.30 L194.45 58.35 L196.43 58.40 L198.42 58.46 L200.41 58.51 L202.40 58.57 L204.38 58.63 L206.37 58.69 L208.36 58.75 L210.34 58.81 L212.33 58.88 L214.32 58.94 L216.30 59.01 L218.29 59.07 L220.28 59.14 L222.27 59.21 L224.25 59.28 L226.24 59.36 L228.23 59.43 L230.21 59.51 L232.20 59.58 L234.19 59.66 L236.17 59.74 L238.16 59.82 L240.15 59.91 L242.13 59.99 L244.12 60.08 L246.11 60.16 L248.10 60.25 L250.08 60.35 L252.07 60.44 L254.06 60.53 L256.04 60.63 L258.03 60.73 L260.02 60.83 L262.00 60.94 L263.99 61.05 L265.98 61.15 L267.97 61.27 L269.95 61.38 L271.94 61.50 L273.93 61.62 L275.91 61.74 L277.90 61.86 L279.89 61.99 L281.87 62.12 L283.86 62.26 L285.85 62.40 L287.83 62.55 L289.82 62.70 L291.81 62.85 L293.80 63.01 L295.78 63.17 L297.77 63.33 L299.76 63.50 L301.74 63.68 L303.73 63.85 L305.72 64.03 L307.70 64.22 L309.69 64.41 L311.68 64.60 L313.67 64.79 L315.65 64.99 L317.64 65.18 L319.63 65.39 L321.61 65.59 L323.60 65.80" fill="none" stroke="#fc8522" stroke-width="1.35" stroke-dasharray="1.3 2.2" /><path d="M49.40 57.20 L51.39 57.20 L53.37 57.20 L55.36 57.20 L57.35 57.20 L59.33 57.20 L61.32 57.20 L63.31 57.20 L65.30 57.20 L67.28 57.20 L69.27 57.20 L71.26 57.20 L73.24 57.20 L75.23 57.20 L77.22 57.20 L79.20 57.20 L81.19 57.20 L83.18 57.20 L85.17 57.20 L87.15 57.20 L89.14 57.20 L91.13 57.20 L93.11 57.20 L95.10 57.20 L97.09 57.20 L99.07 57.20 L101.06 57.20 L103.05 57.20 L105.03 57.20 L107.02 57.20 L109.01 57.20 L111.00 57.20 L112.98 57.20 L114.97 57.20 L116.96 57.20 L118.94 57.20 L120.93 57.20 L122.92 57.20 L124.90 57.20 L126.89 57.20 L128.88 57.20 L130.87 57.20 L132.85 57.20 L134.84 57.20 L136.83 57.20 L138.81 57.20 L140.80 57.20 L142.79 57.20 L144.77 57.20 L146.76 57.20 L148.75 57.20 L150.73 57.20 L152.72 57.20 L154.71 57.20 L156.70 57.19 L158.68 57.19 L160.67 57.18 L162.66 57.18 L164.64 57.17 L166.63 57.16 L168.62 57.15 L170.60 57.14 L172.59 57.13 L174.58 57.12 L176.57 57.11 L178.55 57.09 L180.54 57.08 L182.53 57.07 L184.51 57.05 L186.50 57.04 L188.49 57.02 L190.47 57.01 L192.46 56.99 L194.45 56.98 L196.43 56.96 L198.42 56.95 L200.41 56.93 L202.40 56.91 L204.38 56.90 L206.37 56.88 L208.36 56.87 L210.34 56.85 L212.33 56.84 L214.32 56.82 L216.30 56.81 L218.29 56.80 L220.28 56.78 L222.27 56.77 L224.25 56.76 L226.24 56.75 L228.23 56.74 L230.21 56.73 L232.20 56.72 L234.19 56.72 L236.17 56.71 L238.16 56.70 L240.15 56.70 L242.13 56.70 L244.12 56.69 L246.11 56.69 L248.10 56.68 L250.08 56.68 L252.07 56.68 L254.06 56.67 L256.04 56.67 L258.03 56.67 L260.02 56.66 L262.00 56.66 L263.99 56.66 L265.98 56.65 L267.97 56.65 L269.95 56.65 L271.94 56.64 L273.93 56.64 L275.91 56.64 L277.90 56.63 L279.89 56.63 L281.87 56.63 L283.86 56.63 L285.85 56.62 L287.83 56.62 L289.82 56.62 L291.81 56.62 L293.80 56.62 L295.78 56.61 L297.77 56.61 L299.76 56.61 L301.74 56.61 L303.73 56.61 L305.72 56.61 L307.70 56.60 L309.69 56.60 L311.68 56.60 L313.67 56.60 L315.65 56.60 L317.64 56.60 L319.63 56.60 L321.61 56.60 L323.60 56.60" fill="none" stroke="#fc8522" stroke-width="1.35" stroke-dasharray="7.6 2 1.3 2" /><path d="M49.40 45.50 L323.60 45.50" fill="none" stroke="#111" stroke-width="1.50" stroke-dasharray="4.7 2.4 1.2 1.9 1.2 1.7" /><path d="M49.40 136.20 L51.39 136.20 L53.37 136.20 L55.36 136.20 L57.35 136.20 L59.33 136.20 L61.32 136.20 L63.31 136.20 L65.30 136.20 L67.28 136.20 L69.27 136.20 L71.26 136.20 L73.24 136.20 L75.23 136.20 L77.22 136.20 L79.20 136.20 L81.19 136.20 L83.18 136.20 L85.17 136.20 L87.15 136.20 L89.14 136.20 L91.13 136.20 L93.11 136.20 L95.10 136.20 L97.09 136.20 L99.07 136.20 L101.06 136.20 L103.05 136.20 L105.03 136.20 L107.02 136.20 L109.01 136.20 L111.00 136.20 L112.98 136.20 L114.97 136.20 L116.96 136.20 L118.94 136.20 L120.93 136.20 L122.92 136.20 L124.90 136.20 L126.89 136.21 L128.88 136.24 L130.87 136.29 L132.85 136.35 L134.84 136.43 L136.83 136.53 L138.81 136.64 L140.80 136.76 L142.79 136.89 L144.77 137.02 L146.76 137.17 L148.75 137.32 L150.73 137.48 L152.72 137.64 L154.71 137.80 L156.70 137.96 L158.68 138.12 L160.67 138.27 L162.66 138.43 L164.64 138.57 L166.63 138.72 L168.62 138.87 L170.60 139.02 L172.59 139.17 L174.58 139.33 L176.57 139.49 L178.55 139.65 L180.54 139.82 L182.53 139.99 L184.51 140.16 L186.50 140.34 L188.49 140.53 L190.47 140.71 L192.46 140.90 L194.45 141.10 L196.43 141.30 L198.42 141.50 L200.41 141.71 L202.40 141.92 L204.38 142.13 L206.37 142.35 L208.36 142.59 L210.34 142.83 L212.33 143.09 L214.32 143.35 L216.30 143.62 L218.29 143.91 L220.28 144.19 L222.27 144.49 L224.25 144.79 L226.24 145.09 L228.23 145.40 L230.21 145.71 L232.20 146.02 L234.19 146.34 L236.17 146.65 L238.16 146.97 L240.15 147.28 L242.13 147.59 L244.12 147.90 L246.11 148.20 L248.10 148.50 L250.08 148.80 L252.07 149.09 L254.06 149.37 L256.04 149.65 L258.03 149.94 L260.02 150.26 L262.00 150.59 L263.99 150.93 L265.98 151.28 L267.97 151.63 L269.95 151.97 L271.94 152.31 L273.93 152.64 L275.91 152.96 L277.90 153.26 L279.89 153.53 L281.87 153.78 L283.86 154.00 L285.85 154.19 L287.83 154.33 L289.82 154.43 L291.81 154.49 L293.80 154.50 L295.78 154.45 L297.77 154.36 L299.76 154.24 L301.74 154.08 L303.73 153.90 L305.72 153.69 L307.70 153.47 L309.69 153.24 L311.68 152.97 L313.67 152.61 L315.65 152.17 L317.64 151.67 L319.63 151.11 L321.61 150.52 L323.60 149.90" fill="none" stroke="#38a63c" stroke-width="1.35" /><path d="M49.40 135.60 L51.39 135.48 L53.37 135.37 L55.36 135.26 L57.35 135.15 L59.33 135.04 L61.32 134.93 L63.31 134.82 L65.30 134.72 L67.28 134.62 L69.27 134.52 L71.26 134.42 L73.24 134.32 L75.23 134.23 L77.22 134.14 L79.20 134.05 L81.19 133.96 L83.18 133.87 L85.17 133.79 L87.15 133.71 L89.14 133.63 L91.13 133.56 L93.11 133.48 L95.10 133.40 L97.09 133.33 L99.07 133.25 L101.06 133.18 L103.05 133.11 L105.03 133.04 L107.02 132.97 L109.01 132.90 L111.00 132.84 L112.98 132.78 L114.97 132.72 L116.96 132.67 L118.94 132.62 L120.93 132.57 L122.92 132.54 L124.90 132.50 L126.89 132.47 L128.88 132.44 L130.87 132.41 L132.85 132.38 L134.84 132.35 L136.83 132.33 L138.81 132.30 L140.80 132.27 L142.79 132.25 L144.77 132.23 L146.76 132.20 L148.75 132.18 L150.73 132.17 L152.72 132.15 L154.71 132.14 L156.70 132.12 L158.68 132.11 L160.67 132.11 L162.66 132.10 L164.64 132.10 L166.63 132.10 L168.62 132.11 L170.60 132.11 L172.59 132.13 L174.58 132.14 L176.57 132.16 L178.55 132.18 L180.54 132.20 L182.53 132.23 L184.51 132.26 L186.50 132.29 L188.49 132.32 L190.47 132.35 L192.46 132.38 L194.45 132.41 L196.43 132.45 L198.42 132.48 L200.41 132.52 L202.40 132.55 L204.38 132.59 L206.37 132.63 L208.36 132.67 L210.34 132.71 L212.33 132.76 L214.32 132.81 L216.30 132.87 L218.29 132.93 L220.28 132.99 L222.27 133.05 L224.25 133.12 L226.24 133.19 L228.23 133.26 L230.21 133.33 L232.20 133.40 L234.19 133.47 L236.17 133.54 L238.16 133.60 L240.15 133.67 L242.13 133.74 L244.12 133.80 L246.11 133.86 L248.10 133.92 L250.08 133.98 L252.07 134.03 L254.06 134.08 L256.04 134.12 L258.03 134.17 L260.02 134.21 L262.00 134.25 L263.99 134.30 L265.98 134.34 L267.97 134.38 L269.95 134.42 L271.94 134.47 L273.93 134.51 L275.91 134.55 L277.90 134.59 L279.89 134.63 L281.87 134.67 L283.86 134.70 L285.85 134.74 L287.83 134.78 L289.82 134.81 L291.81 134.85 L293.80 134.88 L295.78 134.92 L297.77 134.95 L299.76 134.98 L301.74 135.01 L303.73 135.05 L305.72 135.07 L307.70 135.10 L309.69 135.13 L311.68 135.16 L313.67 135.18 L315.65 135.21 L317.64 135.23 L319.63 135.26 L321.61 135.28 L323.60 135.30" fill="none" stroke="#38a63c" stroke-width="1.35" stroke-dasharray="4.6 2" /><path d="M49.40 138.00 L51.39 138.03 L53.37 138.07 L55.36 138.10 L57.35 138.13 L59.33 138.17 L61.32 138.20 L63.31 138.23 L65.30 138.27 L67.28 138.30 L69.27 138.33 L71.26 138.36 L73.24 138.39 L75.23 138.42 L77.22 138.45 L79.20 138.48 L81.19 138.51 L83.18 138.54 L85.17 138.56 L87.15 138.59 L89.14 138.61 L91.13 138.64 L93.11 138.66 L95.10 138.69 L97.09 138.71 L99.07 138.73 L101.06 138.75 L103.05 138.77 L105.03 138.79 L107.02 138.80 L109.01 138.82 L111.00 138.83 L112.98 138.85 L114.97 138.86 L116.96 138.87 L118.94 138.88 L120.93 138.89 L122.92 138.89 L124.90 138.90 L126.89 138.90 L128.88 138.91 L130.87 138.91 L132.85 138.92 L134.84 138.92 L136.83 138.92 L138.81 138.93 L140.80 138.93 L142.79 138.93 L144.77 138.94 L146.76 138.94 L148.75 138.94 L150.73 138.95 L152.72 138.95 L154.71 138.95 L156.70 138.95 L158.68 138.96 L160.67 138.96 L162.66 138.96 L164.64 138.96 L166.63 138.96 L168.62 138.97 L170.60 138.97 L172.59 138.97 L174.58 138.97 L176.57 138.97 L178.55 138.98 L180.54 138.98 L182.53 138.98 L184.51 138.98 L186.50 138.98 L188.49 138.98 L190.47 138.99 L192.46 138.99 L194.45 138.99 L196.43 138.99 L198.42 138.99 L200.41 139.00 L202.40 139.00 L204.38 139.00 L206.37 139.00 L208.36 139.00 L210.34 139.01 L212.33 139.01 L214.32 139.01 L216.30 139.01 L218.29 139.01 L220.28 139.02 L222.27 139.02 L224.25 139.02 L226.24 139.02 L228.23 139.02 L230.21 139.03 L232.20 139.03 L234.19 139.03 L236.17 139.03 L238.16 139.03 L240.15 139.03 L242.13 139.04 L244.12 139.04 L246.11 139.04 L248.10 139.04 L250.08 139.04 L252.07 139.05 L254.06 139.05 L256.04 139.05 L258.03 139.05 L260.02 139.05 L262.00 139.05 L263.99 139.06 L265.98 139.06 L267.97 139.06 L269.95 139.06 L271.94 139.06 L273.93 139.06 L275.91 139.07 L277.90 139.07 L279.89 139.07 L281.87 139.07 L283.86 139.07 L285.85 139.07 L287.83 139.08 L289.82 139.08 L291.81 139.08 L293.80 139.08 L295.78 139.08 L297.77 139.08 L299.76 139.08 L301.74 139.09 L303.73 139.09 L305.72 139.09 L307.70 139.09 L309.69 139.09 L311.68 139.09 L313.67 139.09 L315.65 139.10 L317.64 139.10 L319.63 139.10 L321.61 139.10 L323.60 139.10" fill="none" stroke="#38a63c" stroke-width="1.35" stroke-dasharray="7.6 2 1.3 2" /><path d="M49.40 138.00 L51.39 138.03 L53.37 138.06 L55.36 138.10 L57.35 138.14 L59.33 138.18 L61.32 138.22 L63.31 138.26 L65.30 138.31 L67.28 138.36 L69.27 138.40 L71.26 138.46 L73.24 138.51 L75.23 138.56 L77.22 138.62 L79.20 138.67 L81.19 138.73 L83.18 138.79 L85.17 138.85 L87.15 138.91 L89.14 138.97 L91.13 139.04 L93.11 139.10 L95.10 139.17 L97.09 139.24 L99.07 139.31 L101.06 139.39 L103.05 139.47 L105.03 139.55 L107.02 139.63 L109.01 139.72 L111.00 139.80 L112.98 139.90 L114.97 139.99 L116.96 140.08 L118.94 140.18 L120.93 140.28 L122.92 140.39 L124.90 140.49 L126.89 140.61 L128.88 140.72 L130.87 140.84 L132.85 140.97 L134.84 141.10 L136.83 141.24 L138.81 141.38 L140.80 141.52 L142.79 141.67 L144.77 141.82 L146.76 141.98 L148.75 142.13 L150.73 142.29 L152.72 142.46 L154.71 142.62 L156.70 142.79 L158.68 142.96 L160.67 143.13 L162.66 143.30 L164.64 143.47 L166.63 143.64 L168.62 143.82 L170.60 144.00 L172.59 144.18 L174.58 144.37 L176.57 144.56 L178.55 144.75 L180.54 144.95 L182.53 145.15 L184.51 145.35 L186.50 145.55 L188.49 145.76 L190.47 145.97 L192.46 146.19 L194.45 146.40 L196.43 146.62 L198.42 146.84 L200.41 147.07 L202.40 147.30 L204.38 147.53 L206.37 147.76 L208.36 148.00 L210.34 148.25 L212.33 148.51 L214.32 148.77 L216.30 149.04 L218.29 149.31 L220.28 149.59 L222.27 149.87 L224.25 150.15 L226.24 150.44 L228.23 150.73 L230.21 151.02 L232.20 151.31 L234.19 151.60 L236.17 151.89 L238.16 152.18 L240.15 152.47 L242.13 152.75 L244.12 153.03 L246.11 153.31 L248.10 153.59 L250.08 153.86 L252.07 154.12 L254.06 154.38 L256.04 154.64 L258.03 154.91 L260.02 155.19 L262.00 155.49 L263.99 155.80 L265.98 156.11 L267.97 156.43 L269.95 156.74 L271.94 157.05 L273.93 157.34 L275.91 157.63 L277.90 157.89 L279.89 158.14 L281.87 158.36 L283.86 158.56 L285.85 158.72 L287.83 158.85 L289.82 158.94 L291.81 158.99 L293.80 159.00 L295.78 158.96 L297.77 158.88 L299.76 158.76 L301.74 158.62 L303.73 158.45 L305.72 158.26 L307.70 158.05 L309.69 157.83 L311.68 157.58 L313.67 157.22 L315.65 156.79 L317.64 156.28 L319.63 155.72 L321.61 155.13 L323.60 154.50" fill="none" stroke="#38a63c" stroke-width="1.35" stroke-dasharray="1.3 2.2" /><line x1="140.50" y1="124.40" x2="232.40" y2="124.40" stroke="#1a1a1a" stroke-width="1.50" /><line x1="205.00" y1="106.00" x2="205.00" y2="179.30" stroke="#1a1a1a" stroke-width="1.50" /><line x1="140.50" y1="119.80" x2="140.50" y2="129.00" stroke="#1a1a1a" stroke-width="1.50" /><line x1="232.40" y1="119.80" x2="232.40" y2="129.00" stroke="#1a1a1a" stroke-width="1.50" /><line x1="200.30" y1="106.00" x2="209.70" y2="106.00" stroke="#1a1a1a" stroke-width="1.50" /><line x1="200.30" y1="179.30" x2="209.70" y2="179.30" stroke="#1a1a1a" stroke-width="1.50" /><circle cx="205" cy="124.4" r="2.7" fill="#1a1a1a"/><line x1="55.60" y1="166.40" x2="73.80" y2="166.40" stroke="#2479b6" stroke-width="1.35" /><line x1="55.60" y1="182.90" x2="73.80" y2="182.90" stroke="#fc8522" stroke-width="1.35" /><line x1="55.60" y1="199.10" x2="73.80" y2="199.10" stroke="#38a63c" stroke-width="1.35" /><line x1="49.40" y1="213.60" x2="49.40" y2="217.00" stroke="#222" stroke-width="0.80" /><line x1="76.91" y1="213.60" x2="76.91" y2="215.50" stroke="#222" stroke-width="0.60" /><line x1="93.01" y1="213.60" x2="93.01" y2="215.50" stroke="#222" stroke-width="0.60" /><line x1="104.43" y1="213.60" x2="104.43" y2="215.50" stroke="#222" stroke-width="0.60" /><line x1="113.29" y1="213.60" x2="113.29" y2="215.50" stroke="#222" stroke-width="0.60" /><line x1="120.52" y1="213.60" x2="120.52" y2="215.50" stroke="#222" stroke-width="0.60" /><line x1="126.64" y1="213.60" x2="126.64" y2="215.50" stroke="#222" stroke-width="0.60" /><line x1="131.94" y1="213.60" x2="131.94" y2="215.50" stroke="#222" stroke-width="0.60" /><line x1="136.62" y1="213.60" x2="136.62" y2="215.50" stroke="#222" stroke-width="0.60" /><line x1="140.80" y1="213.60" x2="140.80" y2="217.00" stroke="#222" stroke-width="0.80" /><line x1="168.31" y1="213.60" x2="168.31" y2="215.50" stroke="#222" stroke-width="0.60" /><line x1="184.41" y1="213.60" x2="184.41" y2="215.50" stroke="#222" stroke-width="0.60" /><line x1="195.83" y1="213.60" x2="195.83" y2="215.50" stroke="#222" stroke-width="0.60" /><line x1="204.69" y1="213.60" x2="204.69" y2="215.50" stroke="#222" stroke-width="0.60" /><line x1="211.92" y1="213.60" x2="211.92" y2="215.50" stroke="#222" stroke-width="0.60" /><line x1="218.04" y1="213.60" x2="218.04" y2="215.50" stroke="#222" stroke-width="0.60" /><line x1="223.34" y1="213.60" x2="223.34" y2="215.50" stroke="#222" stroke-width="0.60" /><line x1="228.02" y1="213.60" x2="228.02" y2="215.50" stroke="#222" stroke-width="0.60" /><line x1="232.20" y1="213.60" x2="232.20" y2="217.00" stroke="#222" stroke-width="0.80" /><line x1="259.71" y1="213.60" x2="259.71" y2="215.50" stroke="#222" stroke-width="0.60" /><line x1="275.81" y1="213.60" x2="275.81" y2="215.50" stroke="#222" stroke-width="0.60" /><line x1="287.23" y1="213.60" x2="287.23" y2="215.50" stroke="#222" stroke-width="0.60" /><line x1="296.09" y1="213.60" x2="296.09" y2="215.50" stroke="#222" stroke-width="0.60" /><line x1="303.32" y1="213.60" x2="303.32" y2="215.50" stroke="#222" stroke-width="0.60" /><line x1="309.44" y1="213.60" x2="309.44" y2="215.50" stroke="#222" stroke-width="0.60" /><line x1="314.74" y1="213.60" x2="314.74" y2="215.50" stroke="#222" stroke-width="0.60" /><line x1="319.42" y1="213.60" x2="319.42" y2="215.50" stroke="#222" stroke-width="0.60" /><line x1="323.60" y1="213.60" x2="323.60" y2="217.00" stroke="#222" stroke-width="0.80" /><line x1="46.00" y1="21.70" x2="49.40" y2="21.70" stroke="#222" stroke-width="0.80" /><line x1="46.00" y1="92.65" x2="49.40" y2="92.65" stroke="#222" stroke-width="0.80" /><line x1="46.00" y1="163.60" x2="49.40" y2="163.60" stroke="#222" stroke-width="0.80" /><line x1="47.50" y1="213.19" x2="49.40" y2="213.19" stroke="#222" stroke-width="0.60" /><line x1="47.50" y1="200.70" x2="49.40" y2="200.70" stroke="#222" stroke-width="0.60" /><line x1="47.50" y1="191.83" x2="49.40" y2="191.83" stroke="#222" stroke-width="0.60" /><line x1="47.50" y1="184.96" x2="49.40" y2="184.96" stroke="#222" stroke-width="0.60" /><line x1="47.50" y1="179.34" x2="49.40" y2="179.34" stroke="#222" stroke-width="0.60" /><line x1="47.50" y1="174.59" x2="49.40" y2="174.59" stroke="#222" stroke-width="0.60" /><line x1="47.50" y1="170.48" x2="49.40" y2="170.48" stroke="#222" stroke-width="0.60" /><line x1="47.50" y1="166.85" x2="49.40" y2="166.85" stroke="#222" stroke-width="0.60" /><line x1="47.50" y1="142.24" x2="49.40" y2="142.24" stroke="#222" stroke-width="0.60" /><line x1="47.50" y1="129.75" x2="49.40" y2="129.75" stroke="#222" stroke-width="0.60" /><line x1="47.50" y1="120.88" x2="49.40" y2="120.88" stroke="#222" stroke-width="0.60" /><line x1="47.50" y1="114.01" x2="49.40" y2="114.01" stroke="#222" stroke-width="0.60" /><line x1="47.50" y1="108.39" x2="49.40" y2="108.39" stroke="#222" stroke-width="0.60" /><line x1="47.50" y1="103.64" x2="49.40" y2="103.64" stroke="#222" stroke-width="0.60" /><line x1="47.50" y1="99.53" x2="49.40" y2="99.53" stroke="#222" stroke-width="0.60" /><line x1="47.50" y1="95.90" x2="49.40" y2="95.90" stroke="#222" stroke-width="0.60" /><line x1="47.50" y1="71.29" x2="49.40" y2="71.29" stroke="#222" stroke-width="0.60" /><line x1="47.50" y1="58.80" x2="49.40" y2="58.80" stroke="#222" stroke-width="0.60" /><line x1="47.50" y1="49.93" x2="49.40" y2="49.93" stroke="#222" stroke-width="0.60" /><line x1="47.50" y1="43.06" x2="49.40" y2="43.06" stroke="#222" stroke-width="0.60" /><line x1="47.50" y1="37.44" x2="49.40" y2="37.44" stroke="#222" stroke-width="0.60" /><line x1="47.50" y1="32.69" x2="49.40" y2="32.69" stroke="#222" stroke-width="0.60" /><line x1="47.50" y1="28.58" x2="49.40" y2="28.58" stroke="#222" stroke-width="0.60" /><line x1="47.50" y1="24.95" x2="49.40" y2="24.95" stroke="#222" stroke-width="0.60" /><rect x="49.40" y="8.80" width="274.20" height="204.80" fill="none" stroke="#333" stroke-width="0.8"/><path d="M399.30 96.70 L400.80 96.73 L402.30 96.76 L403.80 96.79 L405.30 96.82 L406.80 96.85 L408.30 96.89 L409.79 96.92 L411.29 96.96 L412.79 97.00 L414.29 97.03 L415.79 97.07 L417.29 97.11 L418.79 97.15 L420.29 97.19 L421.79 97.23 L423.28 97.28 L424.78 97.32 L426.28 97.37 L427.78 97.41 L429.28 97.46 L430.78 97.50 L432.28 97.55 L433.77 97.60 L435.27 97.64 L436.77 97.69 L438.27 97.74 L439.77 97.79 L441.27 97.84 L442.77 97.89 L444.26 97.94 L445.76 97.99 L447.26 98.04 L448.76 98.09 L450.26 98.14 L451.76 98.20 L453.26 98.25 L454.76 98.30 L456.26 98.36 L457.76 98.41 L459.26 98.47 L460.76 98.53 L462.26 98.59 L463.76 98.65 L465.26 98.72 L466.75 98.78 L468.25 98.85 L469.75 98.92 L471.25 98.99 L472.75 99.07 L474.24 99.15 L475.74 99.23 L477.24 99.31 L478.73 99.40 L480.23 99.49 L481.72 99.58 L483.21 99.68 L484.71 99.78 L486.20 99.89 L487.69 100.02 L489.18 100.16 L490.67 100.31 L492.16 100.48 L493.65 100.66 L495.14 100.85 L496.63 101.05 L498.12 101.25 L499.60 101.45 L501.09 101.66 L502.58 101.87 L504.06 102.07 L505.55 102.27 L507.04 102.47 L508.52 102.67 L510.01 102.88 L511.50 103.08 L512.99 103.30 L514.47 103.52 L515.95 103.76 L517.43 104.01 L518.90 104.28 L520.36 104.57 L521.82 104.90 L523.28 105.27 L524.73 105.66 L526.17 106.08 L527.61 106.53 L529.04 106.98 L530.46 107.45 L531.87 107.94 L533.29 108.45 L534.69 108.99 L536.09 109.55 L537.47 110.14 L538.84 110.75 L540.19 111.39 L541.53 112.05 L542.88 112.75 L544.22 113.48 L545.54 114.24 L546.83 115.03 L548.07 115.86 L549.27 116.73 L550.42 117.63 L551.65 118.62 L552.95 119.67 L554.27 120.79 L555.56 121.94 L556.75 123.13 L557.78 124.32 L558.61 125.52 L559.16 126.70 L559.40 127.85 L559.17 129.03 L558.41 130.31 L557.29 131.58 L555.98 132.73 L554.65 133.65 L553.41 134.27 L552.05 134.78 L550.58 135.21 L549.05 135.56 L547.53 135.83 L546.05 136.02 L544.57 136.19 L543.07 136.34 L541.57 136.46 L540.07 136.55 L538.57 136.60 L537.07 136.60 L535.57 136.60 L534.07 136.60 L532.57 136.60 L531.07 136.60 L529.57 136.60 L528.07 136.60 L526.57 136.60 L525.07 136.60 L523.57 136.60 L522.07 136.60 L520.57 136.60 L519.08 136.59 L517.58 136.53 L516.09 136.44 L514.60 136.31 L513.10 136.16 L511.61 135.99 L510.12 135.82 L508.62 135.65 L507.13 135.49 L505.64 135.35 L504.14 135.24 L502.65 135.13 L501.15 135.02 L499.65 134.92 L498.16 134.82 L496.66 134.72 L495.17 134.62 L493.67 134.53 L492.17 134.43 L490.68 134.34 L489.18 134.25 L487.68 134.16 L486.19 134.07 L484.69 133.98 L483.19 133.89 L481.70 133.80 L480.20 133.71 L478.70 133.62 L477.21 133.53 L475.71 133.44 L474.21 133.35 L472.72 133.26 L471.22 133.17 L469.72 133.08 L468.22 132.99 L466.73 132.90 L465.23 132.81 L463.73 132.72 L462.24 132.64 L460.74 132.56 L459.24 132.47 L457.74 132.39 L456.25 132.31 L454.75 132.23 L453.25 132.16 L451.75 132.09 L450.26 132.01 L448.76 131.95 L447.26 131.88 L445.76 131.82 L444.27 131.76 L442.77 131.70 L441.27 131.64 L439.77 131.59 L438.27 131.54 L436.78 131.49 L435.28 131.44 L433.78 131.40 L432.28 131.35 L430.78 131.30 L429.28 131.26 L427.78 131.21 L426.29 131.17 L424.79 131.12 L423.29 131.08 L421.79 131.04 L420.29 131.00 L418.79 130.96 L417.29 130.93 L415.79 130.89 L414.29 130.86 L412.80 130.82 L411.30 130.79 L409.80 130.76 L408.30 130.73 L406.80 130.71 L405.30 130.68 L403.80 130.66 L402.30 130.64 L400.80 130.62 L399.30 130.60" fill="none" stroke="#cfd0e6" stroke-width="1.20" stroke-dasharray="4.4 2.2" /><path d="M399.30 101.50 L400.80 101.53 L402.29 101.56 L403.79 101.59 L405.28 101.62 L406.78 101.65 L408.27 101.69 L409.77 101.72 L411.26 101.76 L412.76 101.79 L414.25 101.83 L415.75 101.87 L417.24 101.91 L418.74 101.95 L420.23 101.99 L421.73 102.03 L423.22 102.08 L424.72 102.12 L426.21 102.16 L427.71 102.21 L429.20 102.25 L430.70 102.30 L432.19 102.35 L433.69 102.39 L435.18 102.44 L436.68 102.49 L438.17 102.54 L439.67 102.59 L441.16 102.64 L442.66 102.69 L444.15 102.74 L445.65 102.79 L447.14 102.84 L448.64 102.89 L450.14 102.94 L451.63 102.99 L453.13 103.04 L454.62 103.10 L456.12 103.15 L457.61 103.21 L459.11 103.27 L460.61 103.32 L462.10 103.38 L463.60 103.45 L465.09 103.51 L466.59 103.58 L468.08 103.64 L469.58 103.71 L471.07 103.79 L472.56 103.86 L474.06 103.94 L475.55 104.02 L477.04 104.10 L478.53 104.19 L480.02 104.28 L481.52 104.37 L483.01 104.47 L484.50 104.57 L485.98 104.67 L487.47 104.79 L488.96 104.92 L490.45 105.07 L491.94 105.23 L493.43 105.39 L494.92 105.57 L496.40 105.76 L497.89 105.96 L499.37 106.16 L500.85 106.37 L502.33 106.59 L503.81 106.82 L505.28 107.04 L506.76 107.29 L508.23 107.54 L509.71 107.82 L511.18 108.11 L512.65 108.41 L514.11 108.73 L515.57 109.07 L517.03 109.42 L518.47 109.79 L519.91 110.18 L521.35 110.58 L522.78 111.02 L524.21 111.49 L525.63 112.00 L527.03 112.53 L528.42 113.10 L529.77 113.70 L531.12 114.33 L532.48 115.02 L533.82 115.77 L535.10 116.57 L536.30 117.43 L537.42 118.36 L538.63 119.42 L539.85 120.59 L540.92 121.82 L541.65 123.08 L541.90 124.31 L541.48 125.72 L540.57 127.18 L539.47 128.31 L538.36 128.87 L537.01 129.27 L535.48 129.59 L533.87 129.83 L532.31 129.98 L530.82 130.07 L529.33 130.15 L527.84 130.22 L526.34 130.28 L524.85 130.33 L523.35 130.36 L521.85 130.39 L520.35 130.40 L518.85 130.39 L517.36 130.37 L515.86 130.33 L514.37 130.27 L512.88 130.21 L511.38 130.14 L509.89 130.06 L508.39 129.98 L506.90 129.90 L505.40 129.82 L503.91 129.74 L502.42 129.66 L500.93 129.57 L499.43 129.47 L497.94 129.36 L496.45 129.26 L494.96 129.15 L493.46 129.04 L491.97 128.93 L490.48 128.83 L488.99 128.73 L487.49 128.64 L486.00 128.55 L484.51 128.48 L483.02 128.40 L481.52 128.33 L480.03 128.26 L478.53 128.19 L477.04 128.13 L475.55 128.06 L474.05 128.00 L472.56 127.93 L471.06 127.87 L469.57 127.81 L468.07 127.75 L466.58 127.69 L465.08 127.64 L463.59 127.58 L462.09 127.52 L460.60 127.47 L459.11 127.42 L457.61 127.36 L456.12 127.31 L454.62 127.26 L453.13 127.21 L451.63 127.16 L450.14 127.11 L448.64 127.07 L447.15 127.02 L445.65 126.97 L444.16 126.93 L442.66 126.88 L441.17 126.83 L439.67 126.79 L438.18 126.75 L436.68 126.70 L435.19 126.66 L433.69 126.62 L432.20 126.57 L430.70 126.53 L429.21 126.49 L427.71 126.45 L426.22 126.41 L424.72 126.37 L423.23 126.33 L421.73 126.29 L420.23 126.26 L418.74 126.22 L417.24 126.18 L415.75 126.15 L414.25 126.11 L412.76 126.08 L411.26 126.04 L409.77 126.01 L408.27 125.98 L406.78 125.95 L405.28 125.92 L403.79 125.89 L402.29 125.86 L400.80 125.83 L399.30 125.80" fill="none" stroke="#111" stroke-width="1.10" /><path d="M399.30 108.60 L400.79 108.61 L402.28 108.63 L403.77 108.65 L405.26 108.67 L406.76 108.69 L408.25 108.72 L409.74 108.74 L411.23 108.77 L412.72 108.80 L414.21 108.83 L415.70 108.86 L417.19 108.89 L418.68 108.92 L420.17 108.96 L421.66 108.99 L423.15 109.03 L424.65 109.07 L426.14 109.10 L427.63 109.14 L429.12 109.18 L430.61 109.23 L432.10 109.27 L433.59 109.31 L435.08 109.35 L436.57 109.40 L438.06 109.44 L439.55 109.49 L441.04 109.53 L442.53 109.58 L444.02 109.62 L445.51 109.67 L447.00 109.71 L448.50 109.76 L449.99 109.81 L451.48 109.86 L452.98 109.91 L454.47 109.97 L455.96 110.02 L457.46 110.08 L458.95 110.14 L460.44 110.20 L461.93 110.27 L463.43 110.34 L464.92 110.41 L466.41 110.49 L467.89 110.57 L469.38 110.65 L470.87 110.74 L472.35 110.84 L473.84 110.94 L475.32 111.04 L476.80 111.15 L478.28 111.26 L479.76 111.38 L481.25 111.51 L482.76 111.67 L484.29 111.86 L485.81 112.08 L487.31 112.34 L488.78 112.63 L490.21 112.97 L491.56 113.36 L492.96 113.89 L494.52 114.78 L495.87 115.83 L496.58 116.82 L496.22 117.74 L494.94 118.75 L493.27 119.54 L491.75 119.80 L490.35 119.83 L488.90 119.85 L487.41 119.87 L485.89 119.88 L484.36 119.89 L482.83 119.90 L481.31 119.90 L479.80 119.90 L478.31 119.90 L476.82 119.89 L475.33 119.88 L473.84 119.87 L472.35 119.85 L470.86 119.83 L469.37 119.81 L467.88 119.78 L466.39 119.76 L464.90 119.73 L463.41 119.70 L461.92 119.66 L460.42 119.63 L458.93 119.60 L457.44 119.56 L455.95 119.53 L454.46 119.49 L452.97 119.46 L451.48 119.42 L449.99 119.39 L448.50 119.36 L447.01 119.33 L445.52 119.30 L444.03 119.27 L442.54 119.24 L441.04 119.22 L439.55 119.19 L438.06 119.17 L436.57 119.15 L435.08 119.13 L433.59 119.11 L432.10 119.09 L430.61 119.07 L429.12 119.05 L427.63 119.03 L426.14 119.01 L424.65 118.99 L423.15 118.97 L421.66 118.95 L420.17 118.93 L418.68 118.91 L417.19 118.90 L415.70 118.88 L414.21 118.86 L412.72 118.84 L411.23 118.83 L409.74 118.81 L408.25 118.79 L406.75 118.78 L405.26 118.76 L403.77 118.74 L402.28 118.73 L400.79 118.71 L399.30 118.70" fill="none" stroke="#ffffff" stroke-width="1.30" stroke-dasharray="1.3 2.2" /><line x1="399.30" y1="213.40" x2="399.30" y2="216.80" stroke="#222" stroke-width="0.80" /><line x1="455.85" y1="213.40" x2="455.85" y2="216.80" stroke="#222" stroke-width="0.80" /><line x1="512.40" y1="213.40" x2="512.40" y2="216.80" stroke="#222" stroke-width="0.80" /><line x1="568.95" y1="213.40" x2="568.95" y2="216.80" stroke="#222" stroke-width="0.80" /><line x1="625.50" y1="213.40" x2="625.50" y2="216.80" stroke="#222" stroke-width="0.80" /><line x1="395.90" y1="11.90" x2="399.30" y2="11.90" stroke="#222" stroke-width="0.80" /><line x1="395.90" y1="52.18" x2="399.30" y2="52.18" stroke="#222" stroke-width="0.80" /><line x1="395.90" y1="92.46" x2="399.30" y2="92.46" stroke="#222" stroke-width="0.80" /><line x1="395.90" y1="132.74" x2="399.30" y2="132.74" stroke="#222" stroke-width="0.80" /><line x1="395.90" y1="173.02" x2="399.30" y2="173.02" stroke="#222" stroke-width="0.80" /><line x1="395.90" y1="213.30" x2="399.30" y2="213.30" stroke="#222" stroke-width="0.80" /><rect x="399.30" y="11.80" width="226.20" height="201.60" fill="none" stroke="#333" stroke-width="0.8"/><line x1="630.50" y1="200.72" x2="653.50" y2="200.72" stroke="#cfd0e6" stroke-width="1.20" /><line x1="630.50" y1="206.39" x2="653.50" y2="206.39" stroke="#111" stroke-width="1.10" /><line x1="630.50" y1="212.20" x2="653.50" y2="212.20" stroke="#ffffff" stroke-width="1.30" /><line x1="630.50" y1="121.80" x2="653.50" y2="121.80" stroke="#1f3f6a" stroke-width="1.30" stroke-dasharray="1.3 2.2"/><line x1="653.50" y1="212.60" x2="656.90" y2="212.60" stroke="#222" stroke-width="0.80" /><line x1="653.50" y1="164.10" x2="656.90" y2="164.10" stroke="#222" stroke-width="0.80" /><line x1="653.50" y1="115.60" x2="656.90" y2="115.60" stroke="#222" stroke-width="0.80" /><line x1="653.50" y1="67.10" x2="656.90" y2="67.10" stroke="#222" stroke-width="0.80" /><line x1="653.50" y1="18.60" x2="656.90" y2="18.60" stroke="#222" stroke-width="0.80" /><rect x="630.50" y="11.80" width="23.00" height="201.00" fill="none" stroke="#555" stroke-width="0.8"/><text x="-0.50" y="6.30" style="font-family:'Liberation Sans',sans-serif;font-size:12.00px" text-anchor="start" font-weight="bold" fill="#000">a</text><text x="343.20" y="8.90" style="font-family:'Liberation Sans',sans-serif;font-size:12.50px" text-anchor="start" font-weight="bold" fill="#000">b</text><text x="49.40" y="227.20" style="font-family:'Liberation Sans',sans-serif;font-size:10.40px" text-anchor="middle" fill="#262626">10<tspan dy="-3.9" style="font-size:7.60px">−5</tspan></text><text x="140.80" y="227.20" style="font-family:'Liberation Sans',sans-serif;font-size:10.40px" text-anchor="middle" fill="#262626">10<tspan dy="-3.9" style="font-size:7.60px">−4</tspan></text><text x="232.20" y="227.20" style="font-family:'Liberation Sans',sans-serif;font-size:10.40px" text-anchor="middle" fill="#262626">10<tspan dy="-3.9" style="font-size:7.60px">−3</tspan></text><text x="323.60" y="227.20" style="font-family:'Liberation Sans',sans-serif;font-size:10.40px" text-anchor="middle" fill="#262626">10<tspan dy="-3.9" style="font-size:7.60px">−2</tspan></text><text x="42.80" y="25.30" style="font-family:'Liberation Sans',sans-serif;font-size:10.40px" text-anchor="end" fill="#262626">10<tspan dy="-3.9" style="font-size:7.60px">−9</tspan></text><text x="42.80" y="96.25" style="font-family:'Liberation Sans',sans-serif;font-size:10.40px" text-anchor="end" fill="#262626">10<tspan dy="-3.9" style="font-size:7.60px">−10</tspan></text><text x="42.80" y="167.20" style="font-family:'Liberation Sans',sans-serif;font-size:10.40px" text-anchor="end" fill="#262626">10<tspan dy="-3.9" style="font-size:7.60px">−11</tspan></text><text x="399.30" y="227.20" style="font-family:'Liberation Sans',sans-serif;font-size:10.40px" text-anchor="middle" fill="#262626">10<tspan dy="-3.9" style="font-size:7.60px">−4</tspan></text><text x="455.85" y="227.20" style="font-family:'Liberation Sans',sans-serif;font-size:10.40px" text-anchor="middle" fill="#262626">10<tspan dy="-3.9" style="font-size:7.60px">−3</tspan></text><text x="512.40" y="227.20" style="font-family:'Liberation Sans',sans-serif;font-size:10.40px" text-anchor="middle" fill="#262626">10<tspan dy="-3.9" style="font-size:7.60px">−2</tspan></text><text x="568.95" y="227.20" style="font-family:'Liberation Sans',sans-serif;font-size:10.40px" text-anchor="middle" fill="#262626">10<tspan dy="-3.9" style="font-size:7.60px">−1</tspan></text><text x="625.50" y="227.20" style="font-family:'Liberation Sans',sans-serif;font-size:10.40px" text-anchor="middle" fill="#262626">10<tspan dy="-3.9" style="font-size:7.60px">0</tspan></text><text x="394.00" y="15.60" style="font-family:'Liberation Sans',sans-serif;font-size:10.40px" text-anchor="end" fill="#262626">-0.5</text><text x="394.00" y="55.88" style="font-family:'Liberation Sans',sans-serif;font-size:10.40px" text-anchor="end" fill="#262626">-0.3</text><text x="394.00" y="96.16" style="font-family:'Liberation Sans',sans-serif;font-size:10.40px" text-anchor="end" fill="#262626">-0.1</text><text x="394.00" y="136.44" style="font-family:'Liberation Sans',sans-serif;font-size:10.40px" text-anchor="end" fill="#262626">0.1</text><text x="394.00" y="176.72" style="font-family:'Liberation Sans',sans-serif;font-size:10.40px" text-anchor="end" fill="#262626">0.3</text><text x="394.00" y="217.00" style="font-family:'Liberation Sans',sans-serif;font-size:10.40px" text-anchor="end" fill="#262626">0.5</text><text x="659.00" y="217.00" style="font-family:'Liberation Sans',sans-serif;font-size:10.40px" text-anchor="start" fill="#262626">0.0</text><text x="659.00" y="168.50" style="font-family:'Liberation Sans',sans-serif;font-size:10.40px" text-anchor="start" fill="#262626">0.1</text><text x="659.00" y="120.00" style="font-family:'Liberation Sans',sans-serif;font-size:10.40px" text-anchor="start" fill="#262626">0.2</text><text x="659.00" y="71.50" style="font-family:'Liberation Sans',sans-serif;font-size:10.40px" text-anchor="start" fill="#262626">0.3</text><text x="659.00" y="23.00" style="font-family:'Liberation Sans',sans-serif;font-size:10.40px" text-anchor="start" fill="#262626">0.4</text><text x="186.5" y="239.6" style="font-family:'Liberation Sans',sans-serif;font-size:11px" text-anchor="middle" fill="#262626"><tspan style="font-style:italic">T</tspan> (<tspan style="font-style:italic">K</tspan>)</text><text x="512.2" y="239.6" style="font-family:'Liberation Sans',sans-serif;font-size:11px" text-anchor="middle" fill="#262626"><tspan style="font-style:italic">T</tspan> (<tspan style="font-style:italic">K</tspan>)</text><text x="76.80" y="39.80" style="font-family:'Liberation Sans',sans-serif;font-size:10.20px" fill="#262626" textLength="32.90" lengthAdjust="spacingAndGlyphs">3/16 x</text><text x="113.20" y="39.80" style="font-family:'Liberation Sans',sans-serif;font-size:10.20px;font-style:italic" fill="#262626">k</text><text x="118.60" y="42.00" style="font-family:'Liberation Sans',sans-serif;font-size:7.40px;font-style:italic" fill="#262626" textLength="35.60" lengthAdjust="spacingAndGlyphs">Langevin</text><text x="78.90" y="168.90" style="font-family:'Liberation Sans',sans-serif;font-size:8.80px;font-style:italic" fill="#262626">μ</text><text x="84.20" y="165.70" style="font-family:'Liberation Sans',sans-serif;font-size:6.20px" fill="#262626" textLength="8.20" lengthAdjust="spacingAndGlyphs">(0)</text><text x="84.30" y="171.60" style="font-family:'Liberation Sans',sans-serif;font-size:6.20px;font-style:italic" fill="#262626">g</text><text x="95.40" y="168.90" style="font-family:'Liberation Sans',sans-serif;font-size:8.80px" fill="#262626" textLength="5.60" lengthAdjust="spacingAndGlyphs">=</text><text x="103.50" y="168.90" style="font-family:'Liberation Sans',sans-serif;font-size:8.80px" fill="#262626" textLength="21.40" lengthAdjust="spacingAndGlyphs">0.10,</text><text x="125.40" y="168.90" style="font-family:'Liberation Sans',sans-serif;font-size:8.80px;font-style:italic" fill="#262626">μ</text><text x="130.70" y="165.70" style="font-family:'Liberation Sans',sans-serif;font-size:6.20px" fill="#262626" textLength="8.20" lengthAdjust="spacingAndGlyphs">(0)</text><text x="130.90" y="171.60" style="font-family:'Liberation Sans',sans-serif;font-size:6.20px;font-style:italic" fill="#262626">u</text><text x="141.70" y="168.90" style="font-family:'Liberation Sans',sans-serif;font-size:8.80px" fill="#262626" textLength="5.60" lengthAdjust="spacingAndGlyphs">=</text><text x="151.90" y="168.90" style="font-family:'Liberation Sans',sans-serif;font-size:8.80px" fill="#262626" textLength="5.60" lengthAdjust="spacingAndGlyphs">−</text><text x="159.90" y="168.90" style="font-family:'Liberation Sans',sans-serif;font-size:8.80px" fill="#262626" textLength="18.40" lengthAdjust="spacingAndGlyphs">0.35</text><text x="78.90" y="184.80" style="font-family:'Liberation Sans',sans-serif;font-size:8.80px;font-style:italic" fill="#262626">μ</text><text x="84.20" y="181.60" style="font-family:'Liberation Sans',sans-serif;font-size:6.20px" fill="#262626" textLength="8.20" lengthAdjust="spacingAndGlyphs">(0)</text><text x="84.30" y="187.50" style="font-family:'Liberation Sans',sans-serif;font-size:6.20px;font-style:italic" fill="#262626">g</text><text x="95.40" y="184.80" style="font-family:'Liberation Sans',sans-serif;font-size:8.80px" fill="#262626" textLength="5.60" lengthAdjust="spacingAndGlyphs">=</text><text x="105.40" y="184.80" style="font-family:'Liberation Sans',sans-serif;font-size:8.80px" fill="#262626" textLength="5.60" lengthAdjust="spacingAndGlyphs">−</text><text x="113.40" y="184.80" style="font-family:'Liberation Sans',sans-serif;font-size:8.80px" fill="#262626" textLength="20.70" lengthAdjust="spacingAndGlyphs">0.15,</text><text x="135.60" y="184.80" style="font-family:'Liberation Sans',sans-serif;font-size:8.80px;font-style:italic" fill="#262626">μ</text><text x="140.90" y="181.60" style="font-family:'Liberation Sans',sans-serif;font-size:6.20px" fill="#262626" textLength="8.20" lengthAdjust="spacingAndGlyphs">(0)</text><text x="141.10" y="187.50" style="font-family:'Liberation Sans',sans-serif;font-size:6.20px;font-style:italic" fill="#262626">u</text><text x="151.90" y="184.80" style="font-family:'Liberation Sans',sans-serif;font-size:8.80px" fill="#262626" textLength="5.60" lengthAdjust="spacingAndGlyphs">=</text><text x="161.80" y="184.80" style="font-family:'Liberation Sans',sans-serif;font-size:8.80px" fill="#262626" textLength="5.60" lengthAdjust="spacingAndGlyphs">−</text><text x="169.80" y="184.80" style="font-family:'Liberation Sans',sans-serif;font-size:8.80px" fill="#262626" textLength="18.40" lengthAdjust="spacingAndGlyphs">0.35</text><text x="78.90" y="200.60" style="font-family:'Liberation Sans',sans-serif;font-size:8.80px;font-style:italic" fill="#262626">μ</text><text x="84.20" y="197.40" style="font-family:'Liberation Sans',sans-serif;font-size:6.20px" fill="#262626" textLength="8.20" lengthAdjust="spacingAndGlyphs">(0)</text><text x="84.30" y="203.30" style="font-family:'Liberation Sans',sans-serif;font-size:6.20px;font-style:italic" fill="#262626">g</text><text x="95.40" y="200.60" style="font-family:'Liberation Sans',sans-serif;font-size:8.80px" fill="#262626" textLength="5.60" lengthAdjust="spacingAndGlyphs">=</text><text x="105.40" y="200.60" style="font-family:'Liberation Sans',sans-serif;font-size:8.80px" fill="#262626" textLength="5.60" lengthAdjust="spacingAndGlyphs">−</text><text x="113.40" y="200.60" style="font-family:'Liberation Sans',sans-serif;font-size:8.80px" fill="#262626" textLength="20.70" lengthAdjust="spacingAndGlyphs">0.30,</text><text x="135.60" y="200.60" style="font-family:'Liberation Sans',sans-serif;font-size:8.80px;font-style:italic" fill="#262626">μ</text><text x="140.90" y="197.40" style="font-family:'Liberation Sans',sans-serif;font-size:6.20px" fill="#262626" textLength="8.20" lengthAdjust="spacingAndGlyphs">(0)</text><text x="141.10" y="203.30" style="font-family:'Liberation Sans',sans-serif;font-size:6.20px;font-style:italic" fill="#262626">u</text><text x="151.90" y="200.60" style="font-family:'Liberation Sans',sans-serif;font-size:8.80px" fill="#262626" textLength="5.60" lengthAdjust="spacingAndGlyphs">=</text><text x="161.80" y="200.60" style="font-family:'Liberation Sans',sans-serif;font-size:8.80px" fill="#262626" textLength="5.60" lengthAdjust="spacingAndGlyphs">−</text><text x="169.80" y="200.60" style="font-family:'Liberation Sans',sans-serif;font-size:8.80px" fill="#262626" textLength="18.40" lengthAdjust="spacingAndGlyphs">0.35</text><g transform="translate(13.90,150.80) rotate(-90)"><text x="-0.20" y="0.00" style="font-family:'Liberation Serif',serif;font-size:13.50px;font-style:italic" fill="#262626" textLength="8.60" lengthAdjust="spacingAndGlyphs">k</text><text x="8.90" y="0.10" style="font-family:'Liberation Sans',sans-serif;font-size:6.30px" fill="#262626" textLength="21.50" lengthAdjust="spacingAndGlyphs">HDRCE</text><text x="34.00" y="0.00" style="font-family:'Liberation Serif',serif;font-size:13.20px" fill="#262626">[</text><text x="39.20" y="0.00" style="font-family:'Liberation Serif',serif;font-size:13.20px" fill="#262626" textLength="16.40" lengthAdjust="spacingAndGlyphs">cm</text><text x="56.40" y="-7.40" style="font-family:'Liberation Serif',serif;font-size:8.00px" fill="#262626">3</text><text x="60.80" y="0.00" style="font-family:'Liberation Serif',serif;font-size:13.20px" fill="#262626" textLength="7.60" lengthAdjust="spacingAndGlyphs">/</text><text x="69.20" y="0.00" style="font-family:'Liberation Serif',serif;font-size:13.20px" fill="#262626" textLength="6.30" lengthAdjust="spacingAndGlyphs">s</text><text x="75.80" y="0.00" style="font-family:'Liberation Serif',serif;font-size:13.20px" fill="#262626">]</text></g><g transform="translate(369.00,136.40) rotate(-90)"><text x="0.00" y="0.00" style="font-family:'Liberation Sans',sans-serif;font-size:13.00px;font-style:italic" fill="#262626" textLength="8.60" lengthAdjust="spacingAndGlyphs">μ</text><text x="7.60" y="-6.30" style="font-family:'Liberation Sans',sans-serif;font-size:7.80px" fill="#262626" textLength="10.40" lengthAdjust="spacingAndGlyphs">(0)</text><text x="8.00" y="3.40" style="font-family:'Liberation Sans',sans-serif;font-size:7.80px;font-style:italic" fill="#262626">g</text><text x="20.40" y="-0.30" style="font-family:'Liberation Sans',sans-serif;font-size:11.20px" fill="#262626" textLength="9.40" lengthAdjust="spacingAndGlyphs">−</text><text x="29.60" y="0.00" style="font-family:'Liberation Sans',sans-serif;font-size:13.00px;font-style:italic" fill="#262626" textLength="8.60" lengthAdjust="spacingAndGlyphs">μ</text><text x="37.40" y="-6.30" style="font-family:'Liberation Sans',sans-serif;font-size:7.80px" fill="#262626" textLength="10.40" lengthAdjust="spacingAndGlyphs">(0)</text><text x="37.80" y="3.40" style="font-family:'Liberation Sans',sans-serif;font-size:7.80px;font-style:italic" fill="#262626">u</text></g><g transform="translate(682.60,140.80) rotate(-90)"><text x="-0.20" y="0.00" style="font-family:'Liberation Serif',serif;font-size:13.50px;font-style:italic" fill="#262626" textLength="9.80" lengthAdjust="spacingAndGlyphs">k</text><text x="10.40" y="0.10" style="font-family:'Liberation Sans',sans-serif;font-size:6.30px" fill="#262626" textLength="21.50" lengthAdjust="spacingAndGlyphs">HDRCE</text><text x="33.00" y="0.00" style="font-family:'Liberation Serif',serif;font-size:13.20px" fill="#262626" textLength="9.20" lengthAdjust="spacingAndGlyphs">/</text><text x="41.20" y="0.00" style="font-family:'Liberation Serif',serif;font-size:13.50px;font-style:italic" fill="#262626" textLength="9.40" lengthAdjust="spacingAndGlyphs">k</text><text x="51.00" y="0.10" style="font-family:'Liberation Sans',sans-serif;font-size:6.30px" fill="#262626">L</text></g></svg></div></body></html>
